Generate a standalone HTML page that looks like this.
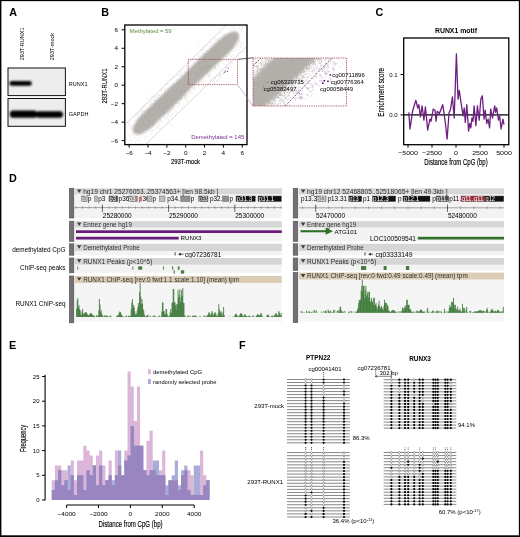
<!DOCTYPE html>
<html><head><meta charset="utf-8"><title>Figure</title><style>html,body{margin:0;padding:0;background:#fff}svg{display:block}</style></head><body>
<svg width="520" height="537" viewBox="0 0 520 537" font-family='"Liberation Sans", Arial, Helvetica, sans-serif'>
<defs><filter id="bl" x="-20%" y="-50%" width="140%" height="200%"><feGaussianBlur stdDeviation="0.85"/></filter>
<filter id="bl2" x="-10%" y="-10%" width="120%" height="120%"><feGaussianBlur stdDeviation="0.9"/></filter>
<clipPath id="cpB"><rect x="125.3" y="25.5" width="121.2" height="118.6"/></clipPath>
<clipPath id="cpI"><rect x="253" y="58" width="93.5" height="48"/></clipPath>
</defs>
<rect x="0.00" y="0.00" width="520.00" height="537.00" fill="#fff"/>
<text x="9.2" y="16.2" font-size="10.8" font-weight="bold">A</text>
<text x="101.3" y="16.4" font-size="10.8" font-weight="bold">B</text>
<text x="375.6" y="16.4" font-size="10.8" font-weight="bold">C</text>
<text x="9.0" y="181.8" font-size="10.8" font-weight="bold">D</text>
<text x="9.0" y="348.9" font-size="10.8" font-weight="bold">E</text>
<text x="239.0" y="348.9" font-size="10.8" font-weight="bold">F</text>
<text transform="translate(24.1 60.2) rotate(-90)" font-size="5.5">293T-RUNX1</text>
<text transform="translate(53.7 60.2) rotate(-90)" font-size="5.5">293T-mock</text>
<rect x="8" y="68" width="57.4" height="27.6" fill="#ededed" stroke="#111" stroke-width="1"/>
<rect x="8" y="98.5" width="57.4" height="27.8" fill="#ededed" stroke="#111" stroke-width="1"/>
<g filter="url(#bl)">
<rect x="9.4" y="81.1" width="22.4" height="4.6" rx="2.3" fill="#000"/>
<rect x="9.8" y="110.4" width="27.4" height="7.4" rx="3.4" fill="#000"/>
<rect x="36" y="111.2" width="27" height="6.5" rx="3" fill="#000"/>
</g>
<text x="68.80" y="85.78" font-size="5.5">RUNX1</text>
<text x="68.80" y="116.18" font-size="5.5">GAPDH</text>
<g clip-path="url(#cpB)">
<line x1="125.20" y1="124.60" x2="226.80" y2="24.60" stroke="#b0b0b0" stroke-width="0.5"/>
<line x1="145.50" y1="144.60" x2="247.00" y2="46.20" stroke="#b0b0b0" stroke-width="0.5"/>
<polygon points="133.8,133.3 137.4,134.4 139.6,134.0 141.5,133.4 143.3,132.6 144.9,131.7 146.5,130.8 148.0,129.8 149.5,128.7 150.9,127.5 152.3,126.4 153.6,125.1 154.9,123.9 156.2,122.6 157.5,121.3 158.8,120.1 160.1,118.8 161.4,117.6 162.7,116.3 164.0,115.1 165.3,113.8 166.6,112.5 168.0,111.3 169.3,110.0 170.6,108.8 171.9,107.5 173.2,106.2 174.5,105.0 175.8,103.7 177.1,102.5 178.4,101.2 179.6,99.9 180.9,98.7 182.2,97.4 183.4,96.0 184.7,94.7 185.9,93.4 187.1,92.0 188.3,90.7 189.6,89.3 190.8,88.1 192.2,86.8 193.5,85.6 194.9,84.5 196.3,83.3 197.7,82.1 199.1,81.0 200.4,79.7 201.8,78.5 203.1,77.3 204.4,76.0 205.7,74.8 207.0,73.5 208.3,72.3 209.6,71.0 210.9,69.8 212.2,68.5 213.5,67.2 214.8,66.0 216.1,64.7 217.4,63.5 218.7,62.2 220.0,61.0 221.3,59.7 222.6,58.4 223.9,57.2 225.2,55.9 226.5,54.7 227.8,53.4 229.2,52.1 230.4,50.9 231.7,49.5 232.8,48.2 234.0,46.7 235.1,45.2 236.1,43.7 237.0,42.0 237.8,40.3 238.5,38.4 239.0,36.2 238.0,32.6 238.0,32.6 234.4,31.5 232.2,31.9 230.3,32.5 228.5,33.3 226.9,34.2 225.3,35.1 223.8,36.1 222.3,37.2 220.9,38.4 219.5,39.5 218.2,40.8 216.9,42.0 215.6,43.3 214.3,44.6 213.0,45.8 211.7,47.1 210.4,48.3 209.1,49.6 207.8,50.8 206.5,52.1 205.2,53.4 203.8,54.6 202.5,55.9 201.2,57.1 199.9,58.4 198.6,59.7 197.3,60.9 196.0,62.2 194.7,63.4 193.4,64.7 192.2,66.0 190.9,67.2 189.6,68.5 188.4,69.9 187.1,71.2 185.9,72.5 184.7,73.9 183.5,75.2 182.2,76.6 181.0,77.8 179.6,79.1 178.3,80.3 176.9,81.4 175.5,82.6 174.1,83.8 172.7,84.9 171.4,86.2 170.0,87.4 168.7,88.6 167.4,89.9 166.1,91.1 164.8,92.4 163.5,93.6 162.2,94.9 160.9,96.1 159.6,97.4 158.3,98.7 157.0,99.9 155.7,101.2 154.4,102.4 153.1,103.7 151.8,104.9 150.5,106.2 149.2,107.5 147.9,108.7 146.6,110.0 145.3,111.2 144.0,112.5 142.6,113.8 141.4,115.0 140.1,116.4 139.0,117.7 137.8,119.2 136.7,120.7 135.7,122.2 134.8,123.9 134.0,125.6 133.3,127.5 132.8,129.7 133.8,133.3" fill="#b5b1ac" filter="url(#bl2)"/>
<path d="M181.3 91.4h.6M179.1 91.3h.6M228.2 45.5h.6M148.2 116.0h.6M162.9 109.1h.6M181.0 93.3h.6M142.2 121.2h.6M178.1 94.0h.6M156.9 105.8h.6M204.3 59.2h.6M218.5 57.1h.6M160.0 98.6h.6M190.1 73.5h.6M185.4 91.1h.6M196.3 59.2h.6M174.4 99.1h.6M151.6 111.0h.6M203.6 54.5h.6M232.6 47.7h.6M196.1 84.0h.6M162.2 108.2h.6M172.5 95.9h.6M215.5 65.0h.6M149.4 104.1h.6M213.9 50.0h.6M174.0 99.0h.6M170.8 105.0h.6M192.3 82.3h.6M155.3 109.8h.6M202.0 68.0h.6M181.6 80.9h.6M204.9 53.6h.6M214.6 60.7h.6M176.7 90.0h.6M146.0 109.2h.6M160.1 112.5h.6M182.8 84.8h.6M213.4 59.8h.6M175.1 102.6h.6M215.6 55.9h.6M181.0 76.8h.6M209.3 57.4h.6M203.0 68.8h.6M192.4 91.7h.6M181.0 87.0h.6M200.7 70.1h.6M216.4 49.7h.6M189.9 80.8h.6M138.7 134.5h.6M217.0 61.2h.6M210.4 57.1h.6M206.2 56.4h.6M181.9 75.5h.6M160.0 107.7h.6M162.3 101.7h.6M149.6 115.8h.6M165.9 100.7h.6M143.9 123.1h.6M207.0 53.2h.6M211.6 49.5h.6M185.0 86.4h.6M208.3 66.6h.6M190.8 76.2h.6M154.9 116.8h.6M145.0 111.4h.6M233.6 48.5h.6M151.8 120.9h.6M236.5 38.1h.6M175.2 91.3h.6M213.3 55.2h.6M170.1 110.5h.6M164.3 114.4h.6M163.8 108.0h.6M179.4 91.6h.6M148.6 113.9h.6M164.5 116.3h.6M154.4 113.2h.6M172.2 109.3h.6M223.3 51.9h.6M166.6 119.2h.6M191.1 71.8h.6M149.0 116.9h.6M188.7 79.2h.6M195.6 84.1h.6M228.7 47.7h.6M163.4 110.3h.6M195.7 87.2h.6M204.6 62.7h.6M206.4 54.1h.6M193.1 70.7h.6M232.6 39.7h.6M213.0 61.3h.6M199.0 70.2h.6M210.4 55.6h.6M207.8 66.8h.6M145.4 112.5h.6M201.6 59.5h.6M191.7 81.1h.6M180.4 81.7h.6M198.2 82.1h.6M166.1 103.9h.6M200.0 70.4h.6M145.0 115.2h.6M157.9 110.7h.6M232.5 45.3h.6M174.3 97.2h.6M196.5 65.7h.6M159.7 100.6h.6M191.5 71.1h.6M193.1 81.3h.6M212.1 55.5h.6M184.6 93.3h.6M212.1 65.6h.6M218.1 52.8h.6M188.1 72.4h.6M215.8 53.0h.6M157.4 105.5h.6M189.8 94.0h.6M152.4 118.9h.6M202.1 53.5h.6M146.4 117.5h.6M172.4 84.7h.6M148.5 128.3h.6M211.0 58.2h.6M167.7 100.6h.6M221.2 50.5h.6M201.1 83.0h.6M148.3 126.1h.6M194.8 58.5h.6M210.1 56.2h.6M212.1 62.7h.6M187.7 82.3h.6M178.9 104.9h.6M224.8 45.2h.6M175.6 101.1h.6M177.6 83.1h.6M155.7 116.7h.6M224.1 52.1h.6M199.4 71.2h.6M217.4 46.8h.6M218.4 54.2h.6M224.7 43.8h.6M147.6 128.0h.6M155.4 113.1h.6M222.6 58.3h.6M174.0 90.7h.6M198.4 69.8h.6M154.2 109.7h.6M218.5 57.3h.6M167.6 100.5h.6M178.5 91.5h.6M141.0 126.4h.6M217.1 50.5h.6M202.0 72.9h.6M182.9 104.2h.6M167.5 101.3h.6M213.2 44.7h.6M179.5 79.3h.6M212.1 58.1h.6M173.0 102.6h.6M196.8 72.1h.6M231.2 41.3h.6M202.9 67.8h.6M215.6 53.2h.6M207.2 56.2h.6M219.2 59.2h.6M224.4 47.2h.6M154.2 119.3h.6M154.7 97.6h.6M166.9 112.8h.6M154.7 103.6h.6M222.4 60.1h.6M223.2 53.7h.6M207.5 67.7h.6M140.3 133.3h.6M150.7 112.9h.6M148.1 119.0h.6M145.2 123.3h.6M174.2 93.8h.6M247.3 22.2h.6M189.1 72.4h.6M209.5 58.2h.6M198.3 62.7h.6M180.4 88.8h.6M165.9 84.4h.6M184.5 71.6h.6M130.3 145.3h.6M140.2 136.4h.6M164.1 93.9h.6M188.0 88.6h.6M220.5 48.4h.6M169.3 104.3h.6M184.7 85.7h.6M213.5 62.1h.6M169.6 94.5h.6M160.2 101.8h.6M160.0 116.6h.6M197.0 66.5h.6M174.5 90.1h.6M210.2 55.3h.6M215.3 63.1h.6M172.6 93.3h.6M209.5 47.1h.6M165.1 104.2h.6M210.0 69.4h.6M207.5 68.0h.6M196.2 65.8h.6M157.2 127.2h.6M172.0 96.6h.6M185.0 80.7h.6M195.7 69.8h.6M195.0 66.8h.6M210.2 51.8h.6M198.5 72.5h.6M218.2 49.6h.6M206.8 52.2h.6M209.0 62.1h.6M187.9 73.7h.6M145.4 129.1h.6M194.7 93.7h.6M176.8 94.4h.6M220.0 45.5h.6M156.7 101.5h.6M213.5 60.7h.6M152.8 115.9h.6M206.8 68.9h.6M235.2 43.1h.6M159.5 108.4h.6M226.0 42.1h.6M205.5 59.8h.6M208.6 54.1h.6M231.3 56.5h.6M168.1 106.1h.6M213.9 53.6h.6M182.4 89.4h.6M153.9 117.0h.6M210.7 60.0h.6M229.0 47.1h.6M214.6 37.7h.6M145.7 129.4h.6M196.6 72.8h.6M241.4 31.0h.6M172.4 99.0h.6M217.4 54.3h.6M160.4 119.2h.6M211.3 65.1h.6M194.2 85.9h.6M204.1 59.2h.6M210.4 69.6h.6M188.5 65.5h.6M180.2 92.9h.6M154.5 116.0h.6M150.1 113.5h.6M146.9 130.3h.6M230.1 45.1h.6M150.1 122.4h.6M197.4 73.6h.6M149.3 119.4h.6M147.6 121.3h.6M171.2 97.9h.6M161.2 104.2h.6M176.7 83.5h.6M166.6 105.0h.6M141.7 129.6h.6M187.7 77.4h.6M208.4 58.0h.6M228.7 53.3h.6M219.3 56.7h.6M190.8 74.9h.6M160.7 104.3h.6M184.4 89.2h.6M211.9 57.9h.6M193.2 63.1h.6M200.2 67.1h.6M217.4 53.0h.6M219.0 53.7h.6M193.6 89.2h.6M228.5 43.1h.6M155.4 101.6h.6M182.1 82.9h.6M154.3 118.7h.6M142.4 127.6h.6M180.9 91.3h.6M202.9 53.0h.6M154.8 103.4h.6M169.9 116.4h.6M167.7 104.4h.6M200.9 70.4h.6M172.6 90.5h.6M135.2 127.2h.6M170.1 104.4h.6M222.9 44.3h.6M195.9 64.1h.6M149.3 109.0h.6M169.9 95.1h.6M166.7 109.1h.6M186.8 80.9h.6M222.6 47.0h.6M219.3 51.6h.6M181.9 97.5h.6M169.0 92.8h.6M140.0 116.8h.6M219.7 60.9h.6M155.4 102.6h.6M207.3 63.0h.6M201.8 65.9h.6M200.0 68.7h.6M165.8 92.8h.6M164.3 100.0h.6M203.4 68.1h.6M149.1 120.0h.6M188.7 72.4h.6M166.8 94.7h.6M177.8 87.1h.6M225.5 38.9h.6M147.2 130.8h.6M146.7 113.7h.6M165.7 105.2h.6M166.8 97.7h.6M180.8 80.7h.6M148.1 109.7h.6M198.6 62.7h.6M216.3 57.2h.6M229.3 39.3h.6M152.0 106.6h.6M185.1 85.2h.6M132.8 130.7h.6M132.4 125.5h.6M203.2 68.1h.6M171.9 102.7h.6M141.3 110.7h.6M164.9 94.9h.6M205.4 59.5h.6M200.2 70.8h.6M186.4 74.3h.6M214.1 48.7h.6M169.2 91.8h.6M194.1 88.5h.6M152.0 129.7h.6M204.0 64.8h.6M166.5 94.3h.6M190.1 72.1h.6M173.2 105.6h.6M141.4 113.5h.6M149.3 128.2h.6M213.2 53.1h.6M145.2 122.4h.6M175.9 85.3h.6M164.0 91.4h.6M202.6 65.9h.6M180.5 82.9h.6M152.2 116.2h.6M164.6 92.2h.6M170.1 97.8h.6M199.1 62.9h.6M136.6 131.9h.6M200.9 68.6h.6M188.0 77.3h.6M200.6 69.6h.6M149.7 112.4h.6M208.4 52.1h.6M220.7 40.8h.6M169.2 89.1h.6M179.2 80.3h.6M160.5 112.7h.6M152.4 116.3h.6M136.3 128.8h.6M236.3 32.5h.6M169.4 101.6h.6M138.3 125.4h.6M149.2 120.5h.6M141.2 118.4h.6M219.3 44.8h.6M166.0 105.3h.6M196.9 77.4h.6M205.2 66.8h.6M162.3 107.4h.6M209.0 65.2h.6M167.4 113.4h.6M179.3 90.8h.6M129.8 124.8h.6M196.4 59.1h.6M179.2 84.3h.6M226.5 38.4h.6M132.6 120.4h.6M214.3 49.8h.6M174.6 95.2h.6M176.9 103.0h.6M195.0 78.0h.6M211.9 59.2h.6M207.5 58.7h.6M155.3 117.5h.6M186.6 95.3h.6M178.8 82.0h.6M183.3 90.2h.6M239.0 27.3h.6M151.1 118.5h.6M217.3 56.6h.6M156.0 113.4h.6M166.1 115.8h.6M223.9 51.3h.6M140.7 117.3h.6M231.0 47.6h.6M242.2 28.4h.6M187.1 85.9h.6M172.0 109.5h.6M167.8 104.7h.6M131.0 140.3h.6M154.9 107.7h.6M166.0 111.2h.6M143.4 115.4h.6M153.5 125.3h.6M188.2 81.4h.6M200.4 80.9h.6M145.2 128.8h.6M180.1 101.1h.6M179.7 82.4h.6M173.0 98.1h.6M209.1 63.2h.6M186.3 68.2h.6M206.0 64.1h.6M172.7 94.7h.6M171.3 90.9h.6M138.1 128.8h.6M191.9 66.0h.6M145.7 120.2h.6M145.0 124.6h.6M157.4 112.6h.6M197.8 77.1h.6M181.6 93.8h.6M176.6 89.1h.6M162.0 99.6h.6M215.4 46.7h.6M210.7 57.0h.6M190.1 83.9h.6M206.2 67.0h.6M169.5 99.9h.6M179.4 96.7h.6M184.6 86.4h.6M185.7 73.7h.6M146.9 119.6h.6M205.5 67.6h.6M149.2 132.1h.6M143.9 115.5h.6M225.7 47.7h.6M159.3 102.8h.6M155.2 108.7h.6M193.7 70.2h.6M174.1 102.8h.6M235.4 50.3h.6M209.9 80.7h.6M142.4 121.9h.6M212.9 51.1h.6M146.7 126.2h.6M212.6 49.3h.6M211.5 68.4h.6M209.5 59.6h.6M178.7 103.6h.6M150.2 115.6h.6M152.3 125.3h.6M208.4 68.1h.6M233.4 37.6h.6M216.7 58.8h.6M195.3 82.4h.6M173.2 104.8h.6M134.2 138.4h.6M198.1 46.0h.6M193.7 70.2h.6M169.8 94.5h.6M187.9 71.2h.6M177.9 83.0h.6M198.6 71.3h.6M171.9 102.1h.6M231.6 35.3h.6M205.3 58.2h.6M148.7 116.7h.6M165.5 102.3h.6M164.1 110.3h.6M157.0 113.7h.6M175.9 86.0h.6M157.5 113.2h.6M204.9 54.6h.6M193.1 79.3h.6M177.0 102.7h.6M183.8 90.0h.6M159.5 99.1h.6M167.5 94.6h.6M241.8 37.1h.6M202.4 62.6h.6M198.7 85.0h.6M216.7 60.6h.6M195.3 66.4h.6M181.5 73.1h.6M223.5 45.5h.6M220.3 51.5h.6M148.9 111.1h.6M199.8 62.6h.6M178.3 99.5h.6M154.4 108.2h.6M205.3 57.8h.6M197.9 67.4h.6M153.8 108.4h.6M158.5 106.7h.6M174.2 89.7h.6M230.5 44.0h.6M139.9 127.9h.6M218.7 55.8h.6M151.4 120.4h.6M206.0 64.9h.6M203.8 59.6h.6M179.3 88.9h.6M158.9 109.2h.6M152.0 110.9h.6M202.4 62.4h.6M198.0 83.3h.6M145.1 121.6h.6M205.2 64.3h.6M156.4 110.8h.6M213.0 52.5h.6M181.0 76.9h.6M159.4 103.9h.6M230.9 39.8h.6M182.5 84.3h.6M172.5 101.7h.6M182.3 95.0h.6M185.7 83.6h.6M228.5 50.2h.6M137.4 126.1h.6M213.7 49.8h.6M158.4 113.3h.6M174.6 97.8h.6M195.8 74.7h.6M124.7 146.1h.6M227.0 42.0h.6M183.7 86.0h.6M146.2 113.3h.6M204.3 62.8h.6M212.9 51.8h.6M185.1 90.6h.6M226.0 56.6h.6M212.4 52.7h.6M233.2 27.4h.6M182.8 85.7h.6M174.5 100.7h.6M169.5 92.1h.6M172.6 83.9h.6M213.8 57.0h.6M207.2 63.2h.6M163.5 104.2h.6M159.4 99.6h.6M175.6 111.1h.6M196.3 69.9h.6M193.3 72.8h.6M162.0 112.4h.6M172.9 107.2h.6M172.8 89.7h.6M204.2 67.5h.6M152.5 111.8h.6M162.9 109.3h.6M229.8 42.0h.6M185.1 90.2h.6M138.7 115.7h.6M173.1 77.1h.6M156.4 119.6h.6M233.5 47.8h.6M167.9 98.4h.6M140.6 111.8h.6M198.2 75.0h.6M136.2 122.7h.6M181.5 89.9h.6M158.2 125.3h.6M226.4 65.2h.6M219.7 60.3h.6M229.5 48.4h.6M187.9 70.3h.6M215.1 52.1h.6M146.4 121.7h.6M144.0 132.5h.6M223.5 57.5h.6M155.5 106.6h.6M178.4 93.4h.6M232.6 32.6h.6M218.1 52.6h.6M173.6 94.2h.6M197.8 65.6h.6M184.7 97.6h.6M189.3 72.8h.6M153.4 126.2h.6M183.7 84.5h.6M188.5 74.7h.6M207.8 71.5h.6M169.6 76.0h.6M198.7 74.7h.6M211.2 55.1h.6M206.7 67.1h.6M203.7 47.0h.6M186.3 79.6h.6M129.9 136.2h.6M220.1 50.0h.6M215.2 61.5h.6M145.8 119.4h.6M215.7 52.4h.6M165.4 113.1h.6M169.1 105.4h.6M184.4 76.2h.6M154.1 114.6h.6M202.7 66.4h.6M141.7 133.7h.6M196.9 81.6h.6M172.4 100.9h.6M189.1 80.4h.6M188.7 77.9h.6M216.4 63.5h.6M161.9 100.0h.6M210.1 53.9h.6M189.1 81.6h.6M234.4 43.9h.6M135.6 143.2h.6M180.6 91.2h.6M198.6 55.1h.6M223.5 48.3h.6M195.4 82.3h.6M203.8 59.4h.6M170.9 106.9h.6M178.2 94.5h.6M218.8 47.3h.6M202.2 68.7h.6M211.2 62.0h.6M233.5 38.9h.6M156.5 120.6h.6M165.6 97.3h.6M179.3 98.6h.6M168.8 96.2h.6M227.5 55.9h.6M163.9 100.3h.6M227.6 52.2h.6M221.9 51.7h.6M212.5 57.0h.6M180.9 89.8h.6M161.2 104.6h.6M178.2 96.2h.6M170.4 106.8h.6M134.1 130.5h.6M179.0 74.2h.6M174.8 94.2h.6M149.8 122.9h.6M148.7 111.5h.6M200.4 72.7h.6M175.2 87.9h.6M172.7 96.3h.6M232.9 51.1h.6M162.4 107.6h.6M203.3 60.1h.6M200.1 59.5h.6M206.8 61.1h.6M218.9 62.7h.6M205.0 70.1h.6M214.7 49.9h.6M188.0 85.8h.6M164.7 98.5h.6M148.4 109.2h.6M219.6 52.9h.6M195.4 84.8h.6M201.4 72.9h.6M203.3 67.1h.6M174.2 91.6h.6M149.8 121.7h.6M202.7 53.8h.6M158.0 107.7h.6M209.1 65.4h.6M204.8 67.8h.6M206.3 73.4h.6M201.4 75.5h.6M156.4 104.3h.6M223.8 50.8h.6M209.5 53.7h.6M188.6 86.4h.6M227.6 38.2h.6M180.2 89.7h.6M164.9 97.5h.6M181.8 75.2h.6M157.3 116.0h.6M146.2 119.0h.6M209.9 65.7h.6M207.0 55.6h.6M167.2 98.1h.6M174.2 102.5h.6M215.1 69.1h.6M200.8 63.0h.6M213.7 51.7h.6M226.2 39.6h.6M226.7 59.0h.6M214.4 55.5h.6M233.1 42.3h.6M166.8 104.5h.6M176.8 82.6h.6M184.0 92.0h.6M170.2 101.5h.6M141.7 114.8h.6M161.1 102.7h.6M158.7 104.5h.6M163.5 101.5h.6M159.0 120.1h.6M183.6 83.8h.6M172.2 94.1h.6M172.8 94.2h.6M162.2 99.6h.6M139.3 118.1h.6M150.0 122.3h.6M157.0 128.0h.6M214.3 68.1h.6M225.2 46.4h.6M191.3 72.6h.6M205.5 51.8h.6M229.3 43.0h.6M159.4 106.6h.6M159.3 114.7h.6M149.3 122.5h.6M142.1 127.5h.6M139.0 118.7h.6M180.4 94.1h.6M153.3 122.7h.6M207.7 67.2h.6M144.9 122.8h.6M158.6 108.5h.6M160.8 105.3h.6M238.8 40.9h.6M164.5 102.8h.6M156.6 106.5h.6M224.2 45.8h.6M182.0 91.5h.6M164.2 101.4h.6M142.6 117.3h.6M199.8 67.0h.6M168.0 100.7h.6M161.2 110.7h.6M171.7 92.2h.6M191.9 85.7h.6M168.8 102.7h.6M176.9 80.4h.6M186.3 66.9h.6M232.2 48.4h.6M229.0 40.9h.6M177.2 83.6h.6M182.5 97.7h.6M173.9 95.1h.6M196.8 82.0h.6M194.2 76.7h.6M207.5 65.4h.6M191.5 69.5h.6M181.0 86.4h.6M147.3 120.3h.6M223.7 53.7h.6M197.9 67.3h.6M196.1 78.1h.6M146.2 132.2h.6M158.1 113.7h.6M207.2 68.3h.6M179.5 74.3h.6M173.4 98.4h.6M180.6 69.4h.6M229.6 49.8h.6M177.3 97.5h.6M231.0 34.3h.6M190.0 93.9h.6M140.1 123.5h.6M145.0 120.9h.6M147.2 137.3h.6M166.7 106.0h.6M194.7 74.3h.6M132.0 144.5h.6M199.1 67.1h.6M192.9 70.0h.6M235.6 38.7h.6M202.6 66.5h.6M206.0 75.8h.6M201.2 61.9h.6M237.2 24.4h.6M221.3 48.2h.6M214.6 47.0h.6M185.8 75.6h.6M179.4 78.7h.6M187.5 80.7h.6M146.6 133.3h.6M210.5 64.6h.6M215.7 44.4h.6M182.3 84.3h.6M217.6 41.6h.6M210.4 53.0h.6M150.4 108.6h.6M201.8 65.8h.6M167.2 99.8h.6M148.0 116.1h.6M180.1 97.3h.6M224.8 38.3h.6M228.5 50.0h.6M196.9 60.3h.6M171.6 93.2h.6M152.8 123.6h.6M143.3 123.8h.6M200.0 49.4h.6M168.7 112.7h.6M220.0 58.7h.6M157.0 107.0h.6M202.0 67.7h.6M162.3 111.3h.6M200.7 59.0h.6M158.4 108.8h.6M238.2 38.7h.6M202.3 60.3h.6M230.7 36.2h.6M171.1 100.1h.6M154.8 114.8h.6M222.1 59.6h.6M180.8 82.3h.6M142.1 132.1h.6M187.7 77.6h.6M208.4 63.3h.6M164.6 96.0h.6M148.6 130.3h.6M209.5 52.2h.6M151.5 115.2h.6M170.9 95.6h.6M157.7 97.8h.6M206.2 64.1h.6M217.1 65.8h.6M168.9 102.0h.6M231.5 48.0h.6M188.5 81.5h.6M204.9 66.9h.6M146.9 124.1h.6M205.6 54.6h.6M210.2 64.6h.6M226.4 53.0h.6M201.9 65.2h.6M165.3 88.5h.6M142.4 116.1h.6M163.3 102.9h.6M162.6 103.3h.6M210.2 63.6h.6M157.3 95.6h.6M151.1 112.3h.6M181.4 76.4h.6M178.4 80.2h.6M161.2 103.9h.6M139.9 122.8h.6M206.6 65.8h.6M184.1 82.4h.6M158.0 108.1h.6M180.0 87.7h.6M221.4 48.8h.6M157.3 102.7h.6M166.0 112.4h.6M212.4 51.5h.6M157.4 107.0h.6M231.4 48.4h.6M169.8 98.4h.6M176.5 94.3h.6M216.8 54.1h.6M181.2 87.9h.6M209.4 65.9h.6M203.8 68.1h.6M142.4 116.4h.6M216.5 54.9h.6M148.6 111.7h.6M154.8 109.0h.6M210.3 57.6h.6M144.3 115.6h.6M148.5 107.9h.6M214.7 54.3h.6M147.9 111.6h.6M156.2 102.8h.6M154.1 103.3h.6M190.4 85.6h.6M196.5 63.4h.6M177.7 96.0h.6M197.6 74.1h.6M218.8 46.6h.6M165.0 100.8h.6M202.0 63.5h.6M150.6 124.1h.6M162.4 111.1h.6M225.8 38.8h.6M221.8 45.2h.6M203.7 69.0h.6M211.8 57.2h.6M201.2 69.3h.6M153.2 100.5h.6M142.6 113.0h.6M201.9 67.7h.6M224.0 51.7h.6M218.6 53.1h.6M178.4 86.6h.6M132.7 128.7h.6M238.4 45.6h.6M182.3 80.2h.6M211.6 65.3h.6M200.2 66.9h.6M165.7 117.7h.6M187.3 72.4h.6M141.1 121.1h.6M210.4 67.3h.6M226.9 37.5h.6M192.3 79.2h.6M212.2 71.2h.6M162.0 112.8h.6M203.8 66.6h.6M191.1 86.1h.6M183.3 81.8h.6M200.5 66.3h.6M199.5 63.9h.6M181.6 88.1h.6M158.5 123.1h.6M218.0 56.1h.6M149.4 120.5h.6M171.2 100.9h.6M147.6 126.6h.6M179.5 75.2h.6M162.0 104.1h.6M166.7 103.8h.6M155.9 104.2h.6M222.6 51.7h.6M148.0 122.3h.6M233.6 25.8h.6M199.5 67.9h.6M136.4 140.3h.6M161.5 105.8h.6M204.2 65.6h.6M157.9 103.8h.6M233.3 38.5h.6M141.6 118.7h.6M204.6 64.2h.6M154.3 123.8h.6M166.4 109.3h.6M199.8 78.4h.6M199.4 64.7h.6M186.2 79.8h.6M163.7 96.9h.6M190.4 76.0h.6M156.1 112.2h.6M217.6 65.0h.6M170.3 103.2h.6M165.0 106.7h.6M229.2 41.5h.6M205.7 70.6h.6M172.0 93.9h.6M156.5 106.0h.6M200.7 68.6h.6M198.4 75.0h.6M185.3 82.5h.6M212.8 51.8h.6M163.5 96.9h.6M177.9 81.0h.6M145.6 125.3h.6M181.1 87.6h.6M151.3 127.8h.6M207.6 50.3h.6M188.8 81.9h.6M209.2 53.4h.6M220.6 51.3h.6M163.1 100.3h.6M209.6 56.9h.6M144.8 117.1h.6M140.2 121.6h.6M221.6 45.6h.6M202.6 64.5h.6M233.6 47.5h.6M144.1 125.5h.6M203.7 66.9h.6M196.1 76.2h.6M158.1 122.0h.6M179.9 99.6h.6M173.0 90.3h.6M174.2 97.4h.6M202.6 69.8h.6M234.0 44.7h.6M181.5 86.2h.6M202.9 61.8h.6M206.6 58.8h.6M169.2 86.1h.6M179.4 79.7h.6M211.1 53.4h.6M201.2 71.8h.6M203.7 53.4h.6M194.7 78.7h.6M136.8 120.9h.6M213.7 66.7h.6M177.1 97.5h.6M173.0 102.1h.6M174.8 102.2h.6M144.1 111.2h.6M163.9 90.8h.6M229.5 33.0h.6M211.3 59.9h.6M175.4 96.9h.6M152.7 122.3h.6M198.4 66.1h.6M206.2 69.3h.6M201.9 66.0h.6M190.4 70.3h.6M177.1 90.5h.6M174.2 89.9h.6M199.0 65.0h.6M146.4 119.5h.6M198.8 80.8h.6M232.8 54.4h.6M134.4 137.1h.6M152.7 103.0h.6M137.7 130.2h.6M183.3 100.0h.6M213.9 56.7h.6M189.8 86.0h.6M194.4 83.2h.6M150.9 108.1h.6M219.1 53.0h.6M230.8 43.1h.6M155.7 107.7h.6M195.9 72.8h.6M157.1 99.3h.6M212.6 56.1h.6M178.5 78.7h.6M189.8 81.7h.6M173.4 94.9h.6M208.0 65.6h.6M155.6 110.3h.6M206.4 53.6h.6M146.5 122.6h.6M188.3 62.6h.6M201.9 77.1h.6M217.9 44.9h.6M136.5 129.8h.6M195.4 67.0h.6M225.1 53.9h.6M143.6 116.1h.6M151.3 131.0h.6M163.1 108.8h.6M221.1 39.2h.6M142.6 119.6h.6M225.6 48.8h.6M222.8 60.2h.6M143.7 125.1h.6M208.9 68.9h.6M165.9 104.6h.6M169.8 106.1h.6M149.9 120.6h.6M159.4 109.2h.6M202.9 71.1h.6M142.8 119.1h.6M214.0 56.4h.6M171.0 100.1h.6M144.5 138.4h.6M194.3 77.6h.6M185.2 96.8h.6M145.3 125.5h.6M136.2 135.4h.6M200.4 68.6h.6M140.6 126.9h.6M167.9 94.7h.6M203.1 58.9h.6M236.0 43.6h.6M202.6 71.8h.6M168.0 111.2h.6M208.6 63.1h.6M203.0 80.0h.6M176.7 75.0h.6M130.8 129.2h.6M187.9 87.5h.6M148.2 114.6h.6M227.3 49.9h.6M217.9 54.4h.6M230.4 41.3h.6M179.3 75.0h.6M185.0 86.1h.6M193.2 70.3h.6M205.2 55.9h.6M185.2 82.1h.6M165.1 105.1h.6M223.6 37.2h.6M187.2 73.3h.6M134.5 120.1h.6M162.2 108.0h.6M151.0 102.1h.6M184.3 86.3h.6M177.7 90.7h.6M179.6 83.7h.6M234.6 41.7h.6M188.5 93.8h.6M178.9 81.8h.6M205.5 54.4h.6M146.2 108.9h.6M239.8 37.8h.6M158.3 106.3h.6M215.5 38.1h.6M142.2 111.3h.6M152.1 109.6h.6M169.6 116.8h.6M171.9 104.8h.6M145.4 116.8h.6M223.4 37.1h.6M168.6 119.2h.6M149.1 117.9h.6M173.0 95.8h.6M160.8 120.6h.6M167.8 110.4h.6M193.2 82.2h.6M144.7 126.2h.6M155.5 99.1h.6M181.0 97.8h.6M204.8 58.2h.6M159.6 110.5h.6M172.4 100.6h.6M217.7 40.5h.6M169.0 100.3h.6M166.4 113.9h.6M193.6 71.4h.6M147.6 122.5h.6M169.2 104.4h.6M196.6 66.5h.6M211.2 62.7h.6M155.0 105.4h.6M186.5 81.7h.6M210.7 60.5h.6M149.1 114.1h.6M214.8 68.1h.6M229.1 47.2h.6M216.3 50.7h.6M212.8 44.9h.6M166.5 80.4h.6M196.8 72.3h.6M213.4 52.0h.6M199.5 76.8h.6M160.7 89.9h.6M146.4 125.9h.6M214.1 49.3h.6M229.4 45.0h.6M225.6 51.3h.6M147.9 112.0h.6M218.9 53.8h.6M154.2 119.0h.6M196.4 75.9h.6M228.6 39.7h.6M161.5 111.1h.6M189.0 79.3h.6M147.6 119.8h.6M210.9 71.0h.6M217.3 69.1h.6M208.0 74.7h.6M205.2 59.4h.6M203.3 67.0h.6M178.1 89.7h.6M202.1 61.9h.6M146.3 125.0h.6M222.4 43.3h.6M184.1 77.8h.6M169.6 109.8h.6M192.6 78.8h.6M214.3 52.3h.6M198.5 76.7h.6M197.3 68.5h.6M212.0 64.9h.6M210.0 64.4h.6M172.7 98.2h.6M183.8 89.4h.6M239.7 37.7h.6M190.7 84.8h.6M168.9 105.4h.6M202.1 81.4h.6M160.4 108.0h.6M227.6 41.1h.6M190.0 91.4h.6M154.2 110.9h.6M236.2 49.6h.6M234.0 30.9h.6M166.7 100.6h.6M153.9 106.0h.6M218.2 56.1h.6M206.7 60.6h.6M222.9 39.8h.6M199.5 73.6h.6M148.0 113.0h.6M233.9 36.7h.6M208.3 57.7h.6M173.4 98.5h.6M153.0 119.6h.6M201.9 70.4h.6M145.2 121.7h.6M180.1 80.6h.6M183.8 84.6h.6M151.1 107.0h.6M154.3 107.8h.6M182.9 76.7h.6M168.1 109.0h.6M172.2 94.7h.6M160.8 121.1h.6M139.7 132.6h.6M179.5 103.9h.6M192.1 88.3h.6M172.1 101.4h.6M170.0 110.4h.6M191.9 76.5h.6M215.2 68.4h.6M177.8 84.1h.6M176.7 97.9h.6M219.1 51.9h.6M173.2 92.8h.6M191.7 70.8h.6M210.4 55.8h.6M186.8 84.6h.6M155.6 114.3h.6M154.4 108.9h.6M192.7 75.8h.6M173.9 89.3h.6M182.7 76.7h.6M154.7 109.4h.6M232.1 28.3h.6M172.7 98.2h.6M214.8 51.9h.6M170.9 102.5h.6M225.8 45.1h.6M164.6 111.5h.6M192.0 70.4h.6M191.6 71.8h.6M223.6 51.8h.6M179.0 91.2h.6M164.0 108.8h.6M161.7 114.0h.6M218.4 54.9h.6M147.9 122.1h.6M234.3 39.0h.6M174.7 88.9h.6M145.5 125.9h.6M191.0 73.5h.6M227.7 35.1h.6M145.4 124.3h.6M177.0 94.9h.6M228.7 51.7h.6M199.4 70.7h.6M191.8 81.4h.6M192.5 67.7h.6M197.9 70.7h.6M163.2 117.3h.6M184.6 92.0h.6M148.8 130.2h.6M208.7 53.2h.6M187.7 75.4h.6M197.7 68.0h.6M210.8 49.4h.6M176.6 88.6h.6M199.7 70.0h.6M198.8 73.9h.6M171.6 95.2h.6M180.9 88.8h.6M187.9 88.8h.6M165.0 96.8h.6M171.1 101.4h.6M157.7 108.6h.6M160.6 98.5h.6M169.1 102.7h.6M187.1 71.6h.6M158.3 111.8h.6M210.7 56.4h.6M195.3 68.6h.6M160.2 115.0h.6M214.4 46.8h.6M211.6 65.5h.6M162.5 122.8h.6M161.3 105.7h.6M165.5 94.0h.6M145.5 124.5h.6M221.4 53.5h.6M170.8 106.9h.6M218.7 52.5h.6M221.2 59.0h.6M190.8 75.8h.6M238.7 49.7h.6M210.5 53.4h.6M182.8 86.6h.6M213.2 68.5h.6M218.2 50.3h.6M242.1 43.8h.6M160.8 109.2h.6M219.3 56.5h.6M198.3 76.8h.6M163.1 109.8h.6M206.0 64.3h.6M158.2 113.0h.6M164.0 104.2h.6M176.4 94.9h.6M197.6 59.0h.6M199.4 67.5h.6M147.0 124.1h.6M177.2 81.9h.6M226.7 46.1h.6M191.6 61.3h.6M207.8 54.1h.6M225.9 39.0h.6M167.9 105.2h.6M224.7 45.3h.6M163.8 102.0h.6M180.1 89.5h.6M171.2 85.1h.6M175.0 88.0h.6M178.3 85.9h.6M227.7 44.3h.6M219.8 50.1h.6M234.7 32.9h.6M181.6 84.5h.6M172.5 87.1h.6M159.1 101.1h.6M216.4 68.2h.6M176.1 89.4h.6M225.0 40.1h.6M202.0 71.5h.6M207.6 67.0h.6M138.6 135.0h.6M148.1 113.7h.6M211.0 58.3h.6M174.0 106.3h.6M218.6 51.9h.6M221.7 45.4h.6M214.9 52.3h.6M216.3 52.3h.6M183.7 90.9h.6M207.7 65.3h.6M164.7 102.1h.6M175.2 95.7h.6M169.6 92.3h.6M178.5 106.8h.6M196.2 78.3h.6M163.5 107.8h.6M191.6 84.5h.6M235.0 38.7h.6M172.5 101.3h.6M152.2 124.9h.6M184.0 83.1h.6M199.6 64.5h.6M183.1 82.7h.6M170.6 108.5h.6M176.7 97.5h.6M144.4 128.7h.6M205.2 68.8h.6M185.4 81.2h.6M199.7 72.6h.6M210.0 73.8h.6M203.2 64.1h.6M214.1 51.5h.6M153.3 114.2h.6M141.7 135.2h.6M135.1 141.4h.6M195.8 67.3h.6M170.9 109.6h.6M170.6 102.6h.6M164.6 112.4h.6M188.3 86.0h.6M135.6 126.1h.6M202.7 77.4h.6M197.7 79.2h.6M205.5 66.6h.6M202.6 49.9h.6M169.3 109.1h.6M184.9 80.5h.6M180.3 97.6h.6M163.3 110.4h.6M213.9 57.4h.6M147.1 119.9h.6M159.8 119.9h.6M194.1 72.1h.6M156.7 115.9h.6M151.1 115.7h.6M225.4 45.0h.6M205.3 60.4h.6M229.6 38.9h.6M148.1 117.0h.6M137.6 134.6h.6M189.7 79.3h.6M191.8 74.2h.6M238.0 39.9h.6M190.6 70.8h.6M159.0 109.1h.6M207.3 51.3h.6M149.6 112.1h.6M163.3 113.0h.6M158.2 117.0h.6M159.9 104.2h.6M161.7 112.3h.6M208.7 66.3h.6M204.0 64.9h.6M245.5 26.9h.6M241.0 43.3h.6M215.3 59.1h.6M172.2 93.4h.6M205.5 51.7h.6M200.9 60.8h.6M201.3 65.6h.6M227.1 41.1h.6M182.1 94.7h.6M184.5 82.6h.6M214.6 59.5h.6M180.0 80.0h.6M224.8 46.2h.6M166.4 98.9h.6M225.6 48.6h.6M226.3 44.9h.6M153.1 107.2h.6M160.4 111.1h.6M206.1 65.6h.6M220.6 46.5h.6M207.3 70.9h.6M170.0 104.7h.6M168.4 99.0h.6M196.9 73.9h.6M209.2 62.2h.6M164.8 111.3h.6M156.9 111.0h.6M214.9 60.0h.6M218.6 48.6h.6M144.8 119.4h.6M213.9 57.1h.6M203.0 69.5h.6M170.0 105.0h.6M184.4 78.9h.6M212.7 62.3h.6M175.8 88.7h.6M160.6 101.3h.6M208.1 57.2h.6M173.8 101.4h.6M129.2 146.6h.6M183.9 94.0h.6M195.4 67.1h.6M204.1 70.3h.6M164.3 97.6h.6M168.4 98.2h.6M167.6 97.0h.6M139.8 131.4h.6M186.9 67.9h.6M139.1 132.5h.6M221.4 45.3h.6M155.4 113.6h.6M167.6 89.0h.6M177.3 89.7h.6M196.9 65.2h.6M223.5 44.2h.6M152.7 103.5h.6M205.8 58.6h.6M178.4 89.0h.6M143.1 119.7h.6M178.5 85.8h.6M154.2 116.6h.6M200.4 74.4h.6M188.4 84.3h.6M169.2 96.7h.6M159.3 104.2h.6M217.1 52.3h.6M230.7 54.1h.6M210.7 55.6h.6M228.7 45.2h.6M199.0 82.6h.6M210.0 66.8h.6M240.4 24.2h.6M206.1 66.0h.6M140.8 125.2h.6M192.1 76.2h.6M218.8 59.0h.6M183.6 71.7h.6M168.6 103.7h.6M208.1 52.5h.6M209.3 66.0h.6M149.7 127.5h.6M212.8 53.9h.6M200.7 73.4h.6M228.3 55.3h.6M154.3 119.9h.6M145.6 113.5h.6M175.5 99.3h.6M166.5 105.8h.6M169.7 94.4h.6M207.7 60.3h.6M169.5 97.6h.6M216.8 54.0h.6M167.6 97.7h.6M222.4 48.5h.6M140.3 118.0h.6M202.2 70.5h.6M154.4 113.8h.6M178.0 90.4h.6M165.6 98.0h.6M154.0 118.6h.6M180.3 85.0h.6M170.5 91.1h.6M180.8 96.8h.6M201.9 68.8h.6M139.5 120.1h.6M148.3 122.6h.6M195.9 80.9h.6M157.2 118.1h.6M197.0 70.0h.6M173.9 94.9h.6M176.6 99.3h.6M233.8 34.1h.6M137.1 130.8h.6M170.8 87.8h.6M232.2 39.1h.6M204.1 56.7h.6M194.8 58.2h.6M195.2 71.0h.6M207.7 57.2h.6M186.6 76.0h.6M181.0 88.9h.6M216.4 55.2h.6M225.3 39.7h.6M164.3 105.4h.6M207.1 72.7h.6M205.4 54.7h.6M197.8 72.8h.6M226.8 56.6h.6M225.2 48.4h.6M145.1 117.8h.6M187.1 95.9h.6M202.7 74.8h.6M143.6 133.8h.6M242.3 26.7h.6M170.9 93.5h.6M197.0 62.5h.6M215.0 50.9h.6M221.5 49.5h.6M170.5 109.1h.6M231.7 43.5h.6M155.4 99.8h.6M194.3 71.7h.6M231.8 37.3h.6M198.8 62.7h.6M166.3 88.2h.6M199.1 66.0h.6M177.1 94.7h.6M204.4 56.0h.6M170.7 99.3h.6M160.2 102.9h.6M195.7 75.7h.6M172.7 98.9h.6M178.5 87.3h.6M218.2 47.6h.6M163.8 102.9h.6M156.8 110.8h.6M183.0 77.7h.6M203.4 49.4h.6M162.6 103.1h.6M165.9 89.8h.6M213.1 47.0h.6M218.8 54.5h.6M151.4 115.9h.6M138.3 121.1h.6M176.1 96.6h.6M184.1 98.3h.6M225.7 59.4h.6M229.4 40.4h.6M129.5 127.3h.6M198.7 84.2h.6M163.5 114.8h.6M154.9 120.4h.6M232.9 39.0h.6M185.8 95.4h.6M158.8 95.1h.6M159.0 109.9h.6M153.7 110.0h.6M211.9 51.3h.6M132.2 145.3h.6M215.4 43.4h.6M228.2 44.0h.6M221.8 50.4h.6M181.8 93.7h.6M190.7 81.2h.6M167.0 103.2h.6M157.0 108.5h.6M179.6 84.6h.6M152.8 118.4h.6M200.3 71.7h.6M219.5 51.5h.6M168.8 104.6h.6M190.0 69.5h.6M172.6 99.2h.6M169.4 102.5h.6M136.8 131.7h.6M206.2 67.1h.6M217.1 52.1h.6M189.4 74.8h.6M218.3 53.0h.6M172.4 96.2h.6M186.7 80.1h.6M234.0 42.1h.6M123.5 135.8h.6M228.4 41.0h.6M218.8 51.9h.6M181.0 95.2h.6M181.0 73.7h.6M159.1 110.1h.6M217.0 51.1h.6M159.3 111.8h.6M166.8 106.9h.6M213.4 48.2h.6M180.4 89.4h.6M150.8 128.9h.6M207.5 68.5h.6M150.7 109.4h.6M210.8 60.7h.6M148.8 112.4h.6M212.1 55.1h.6M147.8 127.8h.6M177.0 85.8h.6M215.1 64.0h.6M211.6 59.3h.6M155.8 123.2h.6M232.6 23.7h.6M185.1 77.7h.6M147.2 119.6h.6M197.2 64.8h.6M168.1 107.5h.6M167.8 106.1h.6M186.5 86.1h.6M210.0 48.6h.6M158.0 101.6h.6M188.3 91.0h.6M168.5 97.8h.6M133.5 127.1h.6M223.8 46.6h.6M142.6 124.3h.6M220.7 47.4h.6M157.2 104.5h.6M223.1 39.2h.6M154.9 104.1h.6M174.5 109.1h.6M196.4 72.7h.6M215.7 58.3h.6M172.7 90.6h.6M208.7 56.4h.6M169.0 109.2h.6M212.5 61.5h.6M164.2 106.9h.6M215.3 63.7h.6M170.1 86.4h.6M212.2 56.2h.6M198.1 63.5h.6M202.9 75.6h.6M179.8 85.9h.6M153.6 104.0h.6M142.3 124.6h.6M224.0 53.5h.6M146.9 111.3h.6M146.9 121.6h.6M209.8 53.3h.6M162.6 112.7h.6M206.3 44.4h.6M188.1 79.8h.6M151.0 116.1h.6M212.3 50.1h.6M211.9 59.1h.6M212.9 63.3h.6M210.3 62.1h.6M203.9 72.2h.6M211.2 61.6h.6M168.0 105.7h.6M223.3 42.6h.6M209.6 68.0h.6M155.0 129.4h.6M204.0 69.7h.6M198.2 61.8h.6M152.7 120.9h.6M237.0 44.7h.6M167.7 118.8h.6M174.0 86.0h.6M212.6 54.8h.6M231.8 30.6h.6M208.3 64.3h.6M204.4 72.8h.6M157.9 113.2h.6M181.7 86.8h.6M219.6 47.2h.6M225.2 43.5h.6M162.1 103.7h.6M215.0 56.8h.6M145.1 110.4h.6M211.6 53.6h.6M207.1 61.5h.6M219.1 54.3h.6M153.3 108.1h.6M156.3 108.1h.6M147.3 112.2h.6M166.2 109.4h.6M190.7 78.9h.6M217.2 54.5h.6M163.4 102.2h.6M210.2 68.0h.6M155.2 111.7h.6M221.1 37.4h.6M199.4 77.3h.6M206.8 69.2h.6M221.2 61.2h.6M153.6 114.4h.6M174.8 103.3h.6M188.3 91.2h.6M175.2 97.7h.6M174.2 96.1h.6M155.9 106.1h.6M253.6 16.3h.6M149.0 109.2h.6M149.3 112.6h.6M181.2 86.0h.6M179.1 86.5h.6M209.5 63.7h.6M162.4 110.9h.6M192.1 70.9h.6M184.5 80.7h.6M189.6 89.9h.6M173.8 97.3h.6M201.2 67.3h.6M208.5 68.8h.6M199.4 72.7h.6M177.6 83.1h.6M161.6 110.6h.6M183.6 87.6h.6M185.9 84.3h.6M169.3 92.3h.6M187.8 87.7h.6M253.3 16.8h.6M145.3 136.0h.6M227.4 55.9h.6M202.8 73.7h.6M189.7 69.9h.6M201.5 74.4h.6M196.3 75.7h.6M212.3 61.4h.6M162.8 99.0h.6M174.7 92.6h.6M203.3 60.6h.6M171.4 103.7h.6M149.2 125.8h.6M160.8 96.7h.6M216.9 63.1h.6M174.5 102.5h.6M174.6 93.3h.6M161.9 113.2h.6M225.1 53.1h.6M206.0 66.7h.6M213.7 58.3h.6M183.3 81.3h.6M171.0 91.6h.6M175.1 92.3h.6M240.3 46.2h.6M166.9 95.4h.6M182.5 84.2h.6M178.6 91.1h.6M169.8 111.2h.6M225.0 45.5h.6M155.8 104.2h.6M159.6 109.8h.6M192.2 74.8h.6M165.6 97.3h.6M222.6 50.0h.6M215.3 42.9h.6M223.6 47.9h.6M225.8 45.0h.6M201.1 73.0h.6M161.8 109.0h.6M207.4 65.0h.6M175.0 95.3h.6M158.1 112.4h.6M187.2 74.3h.6M158.5 111.0h.6M250.8 24.9h.6M161.2 101.1h.6M232.0 43.6h.6M187.0 82.7h.6M163.8 100.7h.6M181.0 97.9h.6M206.0 71.4h.6M125.3 142.3h.6M175.0 87.7h.6M229.7 48.8h.6M160.4 98.2h.6M187.9 80.6h.6M173.2 85.3h.6M184.3 95.3h.6M147.0 121.7h.6M166.6 111.2h.6M144.1 125.5h.6M212.3 69.5h.6M143.3 106.5h.6M236.2 40.3h.6M176.6 80.4h.6M143.4 124.2h.6M230.0 29.8h.6M193.8 66.4h.6M164.1 110.4h.6M144.0 123.0h.6M179.9 88.0h.6M163.3 112.6h.6M214.5 51.3h.6M178.8 72.1h.6M174.5 94.1h.6M146.8 120.7h.6M249.7 29.2h.6M130.8 126.5h.6M199.2 72.7h.6M198.0 79.3h.6M219.3 53.5h.6M204.0 65.6h.6M186.0 75.6h.6M214.6 81.6h.6M232.8 37.8h.6M202.6 63.2h.6M196.5 76.3h.6M198.7 69.4h.6M203.3 64.4h.6M215.2 53.5h.6M176.1 95.7h.6M171.1 95.4h.6M225.1 51.3h.6M156.8 99.9h.6M138.1 112.7h.6M157.7 103.3h.6M153.7 115.3h.6M139.6 125.0h.6M158.3 109.7h.6M158.4 109.5h.6M142.3 108.4h.6M208.3 75.8h.6M146.3 116.7h.6M220.7 62.1h.6M171.6 105.1h.6M234.2 26.1h.6M162.3 95.1h.6M209.0 65.5h.6M158.1 102.9h.6M208.5 66.6h.6M181.4 89.4h.6M147.6 113.9h.6M206.2 55.9h.6M218.3 57.9h.6M224.8 39.9h.6M213.9 62.1h.6M156.3 96.7h.6M239.6 46.1h.6M192.2 84.0h.6M161.7 101.1h.6M215.8 57.0h.6M146.0 126.1h.6M209.5 65.4h.6M169.0 102.7h.6M179.3 99.7h.6M223.9 46.2h.6M154.9 105.0h.6M181.9 93.3h.6M230.8 44.4h.6M229.2 51.1h.6M215.8 56.8h.6M176.4 89.5h.6M217.6 51.3h.6M238.7 34.6h.6M216.0 62.5h.6M162.3 98.8h.6M148.9 110.6h.6M143.1 111.7h.6M181.1 89.1h.6M154.7 111.9h.6M237.3 39.5h.6M176.0 92.5h.6M202.9 65.9h.6M175.9 86.9h.6M181.6 84.9h.6M156.0 116.1h.6M214.8 45.6h.6M178.8 102.4h.6M160.4 118.7h.6M170.3 98.7h.6M139.8 122.0h.6M182.5 90.8h.6M225.7 50.3h.6M170.5 95.2h.6M193.0 82.9h.6M164.5 96.7h.6M213.6 61.3h.6M166.0 107.4h.6M189.5 73.4h.6M155.9 127.5h.6M226.5 40.6h.6M212.9 43.4h.6M218.5 52.1h.6M202.6 70.8h.6M231.3 49.6h.6M201.6 64.0h.6M196.6 63.1h.6M197.8 82.7h.6M207.4 62.2h.6M138.7 138.9h.6M208.0 59.1h.6M176.0 101.0h.6M200.9 62.4h.6M182.4 82.7h.6M168.1 115.1h.6M203.5 58.6h.6M172.0 95.9h.6M176.3 79.7h.6M204.8 71.4h.6M209.0 59.0h.6M193.2 62.0h.6M162.3 104.2h.6M200.9 65.8h.6M154.7 100.5h.6M188.2 84.7h.6M206.1 58.2h.6M205.5 72.7h.6M227.5 49.3h.6M201.8 69.8h.6M170.6 99.9h.6M208.2 62.0h.6M208.8 66.9h.6M182.1 85.7h.6M159.3 118.6h.6M228.0 48.5h.6M137.0 114.2h.6M204.6 69.7h.6M136.6 115.6h.6M211.3 61.3h.6M170.2 98.3h.6M186.8 73.9h.6M203.7 60.7h.6M207.4 73.0h.6M207.8 55.4h.6M190.3 69.4h.6M153.3 116.7h.6M232.4 45.3h.6M198.0 83.9h.6M179.9 88.8h.6M156.0 117.6h.6M236.8 30.2h.6M179.9 85.5h.6M196.6 66.0h.6M140.6 112.1h.6M170.4 102.7h.6M126.2 141.1h.6M198.8 60.3h.6M149.9 111.7h.6M187.5 87.8h.6M193.8 69.8h.6M157.4 103.1h.6M162.8 110.0h.6M166.5 108.2h.6M236.5 46.3h.6M157.9 99.9h.6M195.8 71.9h.6M170.8 107.9h.6M133.1 126.4h.6M165.9 97.4h.6M213.9 61.3h.6M202.1 63.7h.6M206.1 67.1h.6M176.6 91.3h.6M157.2 104.4h.6M209.9 62.6h.6M155.0 113.5h.6M203.5 86.8h.6M140.3 126.7h.6M195.4 71.4h.6M217.9 47.8h.6M219.2 55.6h.6M192.8 71.9h.6M211.6 61.3h.6M203.9 54.2h.6M222.6 56.0h.6M203.6 65.8h.6M212.6 64.0h.6M208.6 57.8h.6M209.4 60.4h.6M196.9 65.8h.6M131.0 128.3h.6M177.6 98.6h.6M234.4 31.8h.6M213.1 55.5h.6M199.2 58.7h.6M173.5 103.5h.6M148.6 112.7h.6M194.9 66.7h.6M170.4 98.1h.6M211.4 54.9h.6M224.7 35.2h.6M199.9 76.4h.6M197.7 66.2h.6M194.3 82.3h.6M208.8 76.7h.6M166.8 104.1h.6M215.5 52.9h.6M218.0 54.8h.6M184.0 83.6h.6M189.3 83.3h.6M227.9 46.8h.6M155.1 103.7h.6M212.2 76.5h.6M168.9 107.1h.6M203.1 79.0h.6M161.1 104.8h.6M216.3 47.7h.6M186.2 75.4h.6M177.0 89.6h.6M176.5 89.3h.6M176.9 95.6h.6M222.3 49.2h.6M228.5 40.5h.6M242.1 27.7h.6M210.8 50.7h.6M203.0 68.8h.6M205.6 64.5h.6M214.1 52.3h.6M197.1 68.0h.6M234.3 32.4h.6M198.9 58.9h.6M183.2 83.5h.6M175.5 102.5h.6M168.2 84.8h.6M171.9 113.9h.6M159.4 105.2h.6M228.1 44.2h.6M194.5 72.7h.6M178.8 100.6h.6M139.2 132.2h.6M206.2 63.2h.6M180.7 88.6h.6M166.8 90.3h.6M161.8 120.7h.6M183.9 96.4h.6M225.3 43.7h.6M163.6 104.8h.6M219.9 49.4h.6M238.6 38.5h.6M179.0 98.3h.6M208.8 71.5h.6M181.5 78.7h.6M156.6 115.0h.6M170.4 96.3h.6M153.7 106.9h.6M207.2 58.3h.6M152.3 111.0h.6M163.8 117.7h.6M170.8 81.4h.6M149.7 116.5h.6M142.3 126.2h.6M167.7 97.7h.6M230.0 56.2h.6M215.6 59.3h.6M150.9 109.0h.6M193.9 87.6h.6M189.1 81.9h.6M199.7 61.1h.6M202.5 51.1h.6M148.8 120.4h.6M207.4 62.8h.6M176.3 93.2h.6M195.6 72.1h.6M155.0 101.4h.6M203.4 62.0h.6M220.7 38.0h.6M173.6 93.8h.6M207.7 71.2h.6M172.4 94.9h.6M163.0 98.0h.6M191.6 74.0h.6M182.1 83.6h.6M191.0 87.2h.6M242.1 27.5h.6M197.2 76.8h.6M175.7 87.7h.6M214.8 51.4h.6M229.8 49.9h.6M213.9 66.4h.6M228.0 34.6h.6M222.6 54.3h.6M171.4 100.3h.6M231.6 54.7h.6M208.7 72.7h.6M239.6 42.4h.6M202.6 68.9h.6M153.2 96.9h.6M200.4 56.6h.6M208.2 71.5h.6M216.6 44.0h.6M168.9 101.2h.6M232.8 50.7h.6M156.7 94.2h.6M217.8 58.5h.6M187.0 100.2h.6M173.8 90.5h.6M225.7 42.6h.6M148.4 115.1h.6M189.1 83.9h.6M159.1 114.1h.6M163.9 105.4h.6M178.0 98.2h.6M158.2 111.0h.6M145.9 120.1h.6M221.8 47.3h.6M186.3 83.4h.6M176.8 90.6h.6M150.5 108.6h.6M173.5 93.8h.6M211.7 53.1h.6M218.9 54.6h.6M207.7 67.5h.6M168.7 89.1h.6M216.0 59.2h.6M204.9 66.0h.6M193.2 76.4h.6M181.3 91.1h.6M160.7 116.0h.6M178.2 98.1h.6M214.7 48.7h.6M180.1 88.6h.6M177.7 89.7h.6M217.9 48.2h.6M203.2 65.5h.6M157.6 110.6h.6M168.5 93.2h.6M168.1 98.7h.6M176.1 89.2h.6M198.9 63.7h.6M204.0 72.5h.6M168.9 92.0h.6M231.5 51.3h.6M205.4 59.1h.6M174.0 85.3h.6M148.2 115.3h.6M200.1 71.3h.6M170.4 88.5h.6M178.9 98.6h.6M149.1 115.2h.6M216.4 53.9h.6M204.4 61.9h.6M190.9 91.8h.6M170.4 108.3h.6M196.8 68.8h.6M217.1 39.4h.6M127.9 134.1h.6M212.1 55.7h.6M186.3 81.3h.6M181.3 85.4h.6M148.9 117.3h.6M167.2 99.3h.6M145.7 128.7h.6M208.1 62.7h.6M138.8 126.7h.6M147.3 120.0h.6M179.8 90.4h.6M160.4 110.4h.6M159.1 104.8h.6M169.0 102.2h.6M230.0 47.6h.6M166.8 103.1h.6M173.8 89.7h.6M162.9 107.7h.6M133.6 138.0h.6M224.2 45.3h.6M210.4 42.7h.6M170.6 105.0h.6M194.9 74.0h.6M215.6 52.3h.6M155.7 107.0h.6M199.0 73.7h.6M219.1 33.0h.6M217.1 54.6h.6M188.4 78.2h.6M176.3 88.3h.6M197.5 70.4h.6M142.4 121.8h.6M219.4 42.4h.6M156.3 103.4h.6M208.4 75.2h.6M201.2 64.8h.6M170.6 97.6h.6M137.9 114.5h.6M178.6 88.3h.6M141.0 126.0h.6M188.8 85.5h.6M164.4 103.5h.6M194.6 64.4h.6M180.2 94.5h.6M185.1 96.1h.6M198.0 86.0h.6M149.9 113.1h.6M151.1 104.2h.6M176.3 92.0h.6M198.6 72.8h.6M195.0 69.4h.6M201.0 68.8h.6M223.1 45.3h.6M141.4 133.8h.6M220.3 54.2h.6M203.5 66.2h.6M170.4 106.0h.6M159.4 118.2h.6M229.1 44.7h.6M148.6 116.3h.6M202.0 69.1h.6M170.6 111.7h.6M180.8 82.8h.6M206.3 67.0h.6M227.4 34.8h.6M225.0 56.1h.6M168.4 105.3h.6M216.8 47.7h.6M205.3 61.4h.6M215.1 66.4h.6M195.9 68.7h.6M158.4 108.9h.6M155.3 104.2h.6M185.3 75.7h.6M152.1 124.3h.6M201.4 69.9h.6M142.4 115.4h.6M207.4 63.2h.6M147.2 120.1h.6M154.9 111.3h.6M171.7 91.7h.6M177.3 81.5h.6M193.0 68.4h.6M209.7 75.5h.6M135.6 137.2h.6M150.1 113.8h.6M175.2 97.6h.6M148.8 112.6h.6M135.5 116.3h.6M138.5 131.8h.6M194.3 89.3h.6M179.0 89.1h.6M205.0 69.4h.6M214.3 70.9h.6M205.1 72.5h.6M219.7 48.9h.6M200.7 63.3h.6M160.8 110.1h.6M199.4 56.3h.6M231.6 48.5h.6M184.4 72.9h.6M137.9 119.4h.6M219.3 63.8h.6M227.6 40.4h.6M207.6 58.9h.6M176.0 92.1h.6M161.9 101.2h.6M243.6 21.5h.6M200.7 57.8h.6M204.6 69.1h.6M159.9 113.2h.6M189.8 77.7h.6M230.7 46.0h.6M178.6 91.9h.6M208.8 62.3h.6M177.7 82.6h.6M152.7 123.1h.6M224.4 48.1h.6M175.1 92.3h.6M141.9 123.7h.6M167.0 116.3h.6M179.9 98.7h.6M163.0 106.6h.6M198.0 73.9h.6M141.5 120.3h.6M175.5 93.0h.6M187.2 85.4h.6M193.7 79.4h.6M163.2 113.4h.6M177.9 94.8h.6M161.9 97.7h.6M197.2 69.9h.6M191.8 73.9h.6M168.2 87.8h.6M177.5 84.2h.6M223.0 52.2h.6M200.2 68.9h.6M193.9 77.1h.6M211.3 65.9h.6M190.9 73.2h.6M199.4 69.7h.6M186.3 84.2h.6M223.5 62.2h.6M187.3 92.9h.6M175.1 84.2h.6M209.7 64.1h.6M172.6 98.4h.6M240.4 43.7h.6M204.1 56.7h.6M172.5 96.2h.6M148.7 117.3h.6M176.8 103.2h.6M153.3 116.2h.6M149.4 110.9h.6M204.1 57.4h.6M201.6 68.8h.6M208.8 53.2h.6M205.9 65.6h.6M167.0 111.1h.6M135.9 127.1h.6M211.2 46.8h.6M175.6 93.9h.6M178.7 70.1h.6M183.8 95.7h.6M163.7 115.6h.6M157.2 116.2h.6M202.7 68.0h.6M205.5 59.5h.6M197.7 61.9h.6M235.5 37.7h.6M165.8 92.5h.6M183.8 79.5h.6M146.4 119.8h.6M212.5 51.8h.6M220.5 53.2h.6M154.7 111.0h.6M203.4 65.9h.6M161.4 91.0h.6M222.5 53.5h.6M197.3 63.2h.6M175.1 90.1h.6M164.9 112.7h.6M189.9 84.2h.6M172.1 107.7h.6M200.0 73.3h.6M164.1 113.2h.6M240.5 29.2h.6M161.4 109.3h.6M206.3 60.9h.6M141.1 118.4h.6M162.6 107.9h.6M166.4 97.3h.6M215.5 47.6h.6M180.2 97.0h.6M157.7 109.1h.6M165.3 113.3h.6M161.7 89.0h.6M202.3 82.6h.6M198.6 63.6h.6M217.9 58.2h.6M209.0 58.0h.6M227.7 41.7h.6M206.5 64.4h.6M167.6 103.2h.6M216.8 49.8h.6M202.7 74.5h.6M139.6 134.1h.6M161.4 106.5h.6M177.1 75.3h.6M177.9 89.5h.6M173.8 87.5h.6M158.3 103.4h.6M165.5 107.2h.6M224.8 48.1h.6M154.1 124.8h.6M180.0 93.2h.6M170.2 102.8h.6M180.9 93.4h.6M141.6 117.7h.6M223.4 49.4h.6M195.2 64.6h.6M207.8 59.4h.6M173.3 108.1h.6M144.2 124.3h.6M151.6 114.9h.6M197.8 68.8h.6M146.8 125.2h.6M154.0 107.4h.6M173.8 97.8h.6M184.7 85.1h.6M158.8 101.0h.6M148.0 109.2h.6M184.7 81.1h.6M159.3 128.4h.6M162.5 114.3h.6M229.4 34.8h.6M203.9 53.5h.6M193.2 80.3h.6M152.8 126.6h.6M177.3 100.3h.6M220.6 59.9h.6M214.3 67.6h.6M217.0 58.0h.6M155.7 114.0h.6M197.2 73.3h.6M180.1 92.9h.6M146.6 115.8h.6M143.3 121.5h.6M180.4 94.9h.6M177.0 84.9h.6M188.9 84.9h.6M201.6 69.9h.6M212.1 58.6h.6M225.3 34.6h.6M211.3 61.9h.6M217.9 52.2h.6M209.1 61.4h.6M145.0 136.7h.6M209.0 66.3h.6M157.3 100.3h.6M247.6 28.1h.6M217.3 56.1h.6M212.1 54.8h.6M233.8 48.1h.6M181.7 91.7h.6M186.1 89.7h.6M225.7 43.1h.6M143.8 122.9h.6M194.8 65.9h.6M170.7 98.5h.6M161.3 116.8h.6M222.2 43.4h.6M136.5 131.1h.6M194.9 72.5h.6M220.2 52.0h.6M221.9 49.0h.6M163.1 112.6h.6M223.2 35.1h.6M205.9 73.9h.6M196.1 72.5h.6M164.4 113.2h.6M174.1 98.1h.6M205.9 61.2h.6M239.1 40.3h.6M184.1 84.5h.6M228.6 60.0h.6M186.7 81.6h.6M226.4 45.5h.6M159.9 106.7h.6M151.2 134.3h.6M150.8 121.4h.6M155.0 110.8h.6M171.2 103.6h.6M156.7 119.9h.6M208.1 51.8h.6M144.5 118.5h.6M132.5 135.4h.6M224.5 42.7h.6M152.1 117.5h.6M185.4 85.7h.6M165.5 96.4h.6M138.7 124.1h.6M230.5 47.5h.6M166.5 101.2h.6M165.9 104.7h.6M143.7 123.9h.6M167.1 101.8h.6M153.2 106.1h.6M173.8 94.3h.6M211.3 66.8h.6M157.6 106.0h.6M221.2 50.5h.6M190.5 77.7h.6M171.4 92.7h.6M152.9 103.9h.6M193.0 78.6h.6M155.4 105.9h.6M211.7 61.6h.6M190.8 74.1h.6M161.7 111.6h.6M241.5 41.9h.6M154.5 110.4h.6M187.1 83.9h.6M148.0 128.1h.6M239.1 42.7h.6M136.5 128.0h.6M138.6 130.5h.6M216.8 50.2h.6M210.2 65.9h.6M204.0 60.4h.6M234.5 28.7h.6M143.9 115.3h.6M205.3 80.8h.6M140.5 141.1h.6M180.1 95.5h.6M228.8 53.5h.6M172.9 105.7h.6M213.0 64.5h.6M197.8 80.2h.6M151.2 97.5h.6M217.8 39.0h.6M172.0 100.6h.6M214.4 39.2h.6M180.2 91.2h.6M205.8 63.7h.6M209.5 67.9h.6M154.8 110.4h.6M138.0 130.1h.6M204.1 66.4h.6M143.4 122.3h.6M149.4 125.4h.6M138.1 139.8h.6M160.0 114.9h.6M192.3 66.2h.6M154.5 100.4h.6M152.3 107.1h.6M230.3 30.2h.6M158.7 106.4h.6M166.5 107.3h.6M159.4 116.0h.6M179.3 91.3h.6M188.6 77.8h.6M171.1 101.1h.6M172.5 104.1h.6M200.1 70.9h.6M203.3 60.7h.6M182.0 89.1h.6M180.9 99.0h.6M209.5 63.2h.6M176.3 88.9h.6M157.1 118.8h.6M221.8 44.1h.6M159.5 107.8h.6M165.5 107.1h.6M200.9 70.1h.6M157.7 101.1h.6M158.9 104.0h.6M210.8 51.6h.6M188.2 80.4h.6M198.0 79.3h.6M191.2 78.3h.6M165.8 110.5h.6M159.5 95.2h.6M162.8 106.7h.6M222.5 46.8h.6M162.7 112.0h.6M160.9 127.8h.6M160.5 101.5h.6M200.8 66.3h.6M235.4 38.0h.6M206.2 68.8h.6M227.5 39.9h.6M172.5 102.8h.6M218.5 47.0h.6M161.3 88.9h.6M179.5 86.8h.6M158.5 124.8h.6M227.2 58.5h.6M197.9 86.0h.6M222.9 38.8h.6M144.6 105.8h.6M235.2 40.3h.6M181.1 99.4h.6M142.2 104.1h.6M166.9 104.0h.6M142.4 121.8h.6M160.2 111.5h.6M161.1 121.0h.6M179.1 94.9h.6M160.7 100.9h.6M159.5 112.5h.6M202.5 69.3h.6M172.2 97.8h.6M168.1 110.9h.6M176.7 87.3h.6M128.2 124.4h.6M208.7 60.9h.6M173.0 98.9h.6M175.9 89.7h.6M210.6 54.1h.6M210.4 48.8h.6M153.6 105.2h.6M191.2 76.0h.6M163.3 94.3h.6M173.0 88.6h.6M172.3 86.1h.6M154.1 105.5h.6M215.1 67.2h.6M173.8 83.5h.6M201.8 62.6h.6M182.9 86.1h.6M143.2 118.6h.6M228.1 52.0h.6M213.3 53.2h.6M211.6 57.0h.6M220.8 40.7h.6M164.9 98.9h.6M235.7 32.4h.6M156.2 102.6h.6M216.5 58.4h.6M204.1 71.0h.6M170.4 106.5h.6M171.9 113.6h.6M264.3 27.2h.6M161.4 101.0h.6M154.1 117.2h.6M220.9 47.6h.6M141.1 120.2h.6M183.1 81.1h.6M218.2 48.8h.6M201.1 73.7h.6M152.9 107.8h.6M159.6 117.4h.6M131.7 131.0h.6M225.5 45.5h.6M149.1 113.4h.6M205.3 67.9h.6M203.2 65.2h.6M147.4 119.6h.6M177.1 88.4h.6M218.7 54.7h.6M227.6 33.8h.6" stroke="#b5b1ac" stroke-width=".6" opacity=".75" fill="none"/>
<path d="M194.2 63.0h.6M192.4 66.8h.6M227.6 62.5h.6M216.1 54.1h.6M201.4 67.2h.6M229.1 52.0h.6M180.5 97.8h.6M165.8 98.7h.6M211.5 59.3h.6M142.3 110.6h.6M198.0 76.6h.6M173.6 125.6h.6M205.2 98.1h.6M227.4 51.7h.6M149.9 106.4h.6M220.5 77.3h.6M224.0 41.7h.6M230.4 61.3h.6M235.8 54.4h.6M201.6 70.3h.6M164.6 97.0h.6M170.2 106.5h.6M155.4 124.1h.6M170.6 124.4h.6M151.5 130.6h.6M202.1 75.9h.6M220.7 56.3h.6M205.3 64.5h.6M225.3 54.5h.6M200.4 52.2h.6M161.4 104.6h.6M164.3 96.7h.6M152.8 88.9h.6M148.9 98.1h.6M236.5 45.6h.6M148.0 121.3h.6M185.9 74.1h.6M213.6 53.2h.6M159.5 125.8h.6M148.8 113.2h.6M189.5 101.3h.6M178.9 85.5h.6M218.1 65.0h.6M226.7 48.0h.6M200.7 63.2h.6M172.4 125.0h.6M188.1 67.6h.6M201.8 63.4h.6M158.1 113.8h.6M228.7 28.7h.6M164.1 104.2h.6M188.9 70.4h.6M206.2 62.5h.6M159.8 133.1h.6M194.6 87.2h.6M150.1 94.9h.6M156.8 104.8h.6M159.2 115.9h.6M238.5 38.4h.6M160.7 122.8h.6M162.9 110.0h.6M151.3 102.0h.6M169.7 100.9h.6M132.2 133.0h.6M198.6 57.9h.6M216.9 39.8h.6M207.0 59.5h.6M174.6 91.8h.6M209.3 53.2h.6M173.0 113.2h.6M183.7 83.5h.6M168.3 98.4h.6M221.4 57.9h.6M202.7 65.7h.6M229.7 40.0h.6M220.0 71.2h.6M218.7 65.0h.6M209.3 64.2h.6M219.9 41.9h.6M180.1 99.0h.6M186.0 99.1h.6M152.8 95.9h.6M172.2 95.5h.6M249.6 53.4h.6M145.6 128.9h.6M203.2 60.2h.6M214.1 55.5h.6M180.4 80.3h.6M156.5 114.8h.6M225.6 42.0h.6M160.9 78.6h.6M206.7 70.4h.6M247.2 44.3h.6M225.3 55.7h.6M213.6 27.6h.6M166.6 111.5h.6M156.5 102.3h.6M224.2 56.8h.6M214.4 52.1h.6M136.2 131.3h.6M186.2 82.3h.6M161.1 93.8h.6M173.5 99.8h.6M173.7 99.7h.6M195.6 94.1h.6M204.1 49.3h.6M200.4 58.1h.6M184.7 98.7h.6M181.7 112.9h.6M227.6 50.7h.6M148.5 111.6h.6M215.4 58.1h.6M206.8 76.7h.6M199.0 45.8h.6M115.6 129.1h.6M222.6 63.7h.6M162.4 100.2h.6M157.3 114.3h.6M173.8 80.3h.6M228.5 39.1h.6M198.7 63.4h.6M143.0 128.2h.6M216.7 46.4h.6M229.3 42.4h.6M200.3 76.0h.6M176.3 94.4h.6M218.9 59.0h.6M202.9 55.4h.6M189.4 71.4h.6M164.5 89.4h.6M194.7 81.3h.6M181.1 107.7h.6M145.6 127.9h.6M218.5 37.5h.6M150.4 101.8h.6M188.3 75.4h.6M140.2 121.8h.6M203.9 57.6h.6M185.4 99.7h.6M162.7 113.0h.6M156.8 110.3h.6M148.4 104.0h.6M158.0 121.5h.6M172.8 106.5h.6M164.8 100.0h.6M152.5 130.1h.6M203.7 55.7h.6M210.5 77.1h.6M194.7 71.3h.6M175.8 111.2h.6M147.5 93.9h.6M196.8 75.8h.6M159.4 95.0h.6M223.1 54.5h.6M150.4 103.4h.6M155.1 114.8h.6M205.1 62.8h.6M206.6 58.8h.6M142.2 125.5h.6M183.3 91.8h.6M237.8 47.8h.6M173.9 84.4h.6M156.3 113.6h.6M163.6 112.3h.6M195.0 64.1h.6M206.8 72.9h.6M149.4 120.9h.6M219.1 53.5h.6M224.5 33.8h.6M159.4 106.0h.6M222.3 49.6h.6M212.6 61.4h.6M183.8 81.7h.6M137.9 141.2h.6M199.9 63.3h.6M231.0 50.8h.6M137.7 130.8h.6M184.1 71.0h.6M237.8 38.3h.6M223.2 40.5h.6M205.4 70.0h.6M215.4 73.2h.6M202.4 56.2h.6M157.9 123.0h.6M149.0 94.3h.6M216.9 51.8h.6M216.9 60.0h.6M156.4 123.6h.6M191.4 72.8h.6M157.5 108.1h.6M187.8 88.8h.6M143.9 124.4h.6M172.7 75.9h.6M153.3 105.0h.6M171.4 115.8h.6M210.9 48.7h.6M128.9 149.6h.6M141.3 117.7h.6M194.8 75.6h.6M243.1 51.8h.6M172.9 95.9h.6M189.4 71.3h.6M152.8 116.3h.6M161.8 105.6h.6M208.9 54.3h.6M200.6 79.7h.6M152.8 118.5h.6M229.0 35.7h.6M194.5 90.8h.6M165.8 110.0h.6M135.5 110.0h.6M205.7 57.8h.6M133.5 126.5h.6M204.9 70.1h.6M188.0 100.0h.6M181.4 99.6h.6M155.4 116.6h.6M206.5 50.7h.6M235.1 59.9h.6M212.0 52.3h.6M157.4 114.6h.6M152.5 125.6h.6M155.4 125.3h.6M217.5 79.3h.6M180.3 96.8h.6M208.7 53.1h.6M149.9 121.1h.6M161.7 112.7h.6M231.4 31.9h.6M188.7 80.0h.6M194.7 69.3h.6M214.3 60.9h.6M137.0 113.1h.6M130.3 104.6h.6M186.9 89.9h.6M162.1 106.6h.6M126.2 135.7h.6M163.1 115.0h.6M209.4 76.6h.6M208.2 66.4h.6M227.7 44.0h.6M220.7 67.6h.6M167.9 111.9h.6M207.9 71.7h.6M212.7 47.9h.6M139.7 123.8h.6M240.2 48.1h.6M188.6 78.9h.6M205.7 66.2h.6M204.0 96.0h.6M186.3 90.0h.6M237.5 42.4h.6M199.3 81.3h.6M209.7 50.3h.6M205.8 46.1h.6M216.8 58.6h.6M149.3 110.2h.6M141.9 97.5h.6M128.0 124.7h.6M238.4 31.9h.6M214.1 51.1h.6M226.4 25.7h.6M228.2 41.3h.6M168.4 113.1h.6M205.9 56.7h.6M159.0 102.7h.6M212.0 44.6h.6M200.1 80.9h.6M230.1 42.2h.6M198.3 66.1h.6M185.5 101.8h.6M211.3 41.7h.6M162.3 104.5h.6M174.0 85.2h.6M179.9 83.3h.6M169.9 87.0h.6M182.6 96.1h.6M226.3 59.9h.6M200.0 92.9h.6M198.4 86.5h.6M206.0 65.4h.6M171.4 93.1h.6M207.6 55.2h.6M168.2 113.5h.6M178.6 78.1h.6M170.6 79.1h.6M231.9 42.4h.6M206.0 72.6h.6M186.0 92.4h.6M183.8 85.8h.6M180.0 71.0h.6M167.8 124.2h.6M138.4 117.2h.6M238.6 29.1h.6M211.1 55.1h.6M178.3 92.4h.6M136.8 117.9h.6M210.2 49.1h.6M213.6 55.4h.6M129.8 122.1h.6M160.8 107.5h.6M185.4 50.9h.6M165.3 106.4h.6M208.1 53.9h.6M177.2 83.2h.6M160.2 110.8h.6M220.5 67.9h.6M207.1 63.8h.6M205.0 81.1h.6M156.1 117.0h.6M200.9 55.2h.6M176.2 106.3h.6M160.5 103.6h.6M172.8 119.9h.6M237.4 57.2h.6M164.0 95.9h.6M167.9 95.3h.6M209.5 62.1h.6M219.4 62.1h.6M181.9 99.1h.6M209.0 73.8h.6M154.8 100.8h.6M152.2 113.4h.6M212.7 63.1h.6M225.3 53.1h.6M180.3 90.1h.6M203.2 60.2h.6M238.5 52.4h.6M147.8 110.8h.6M233.4 55.8h.6M183.3 100.1h.6M154.0 116.0h.6M217.9 29.2h.6M197.1 89.1h.6M209.7 35.2h.6M152.7 119.3h.6M167.4 104.9h.6M152.8 124.5h.6M224.3 54.6h.6M175.0 77.5h.6M166.0 84.0h.6M147.7 99.1h.6M214.1 20.9h.6M177.2 76.0h.6M144.7 126.4h.6M157.0 114.5h.6M158.6 111.5h.6M158.6 105.1h.6M198.3 67.1h.6M144.1 131.3h.6M149.5 104.3h.6M179.2 93.9h.6M225.0 37.2h.6M212.6 53.6h.6M204.2 67.9h.6M214.0 67.8h.6M134.9 122.3h.6M164.7 103.7h.6M170.2 87.3h.6M150.4 105.0h.6M158.1 100.0h.6M214.3 58.4h.6M141.1 110.6h.6M231.1 35.0h.6M169.9 74.7h.6M148.8 90.1h.6M179.8 79.3h.6M193.4 74.2h.6M214.7 64.5h.6M214.0 51.7h.6M202.2 81.0h.6M168.9 112.5h.6M231.4 44.7h.6M175.8 92.6h.6M218.5 58.7h.6M230.8 41.5h.6M175.0 91.0h.6M204.1 74.0h.6M209.4 60.3h.6M160.1 103.2h.6M187.3 52.1h.6M160.0 104.2h.6M154.8 122.9h.6M159.8 115.5h.6M179.3 75.8h.6M138.3 140.5h.6M229.2 49.5h.6M179.7 95.4h.6M162.3 113.6h.6M161.1 109.5h.6M202.8 67.0h.6M204.5 56.3h.6M207.7 73.6h.6M152.8 127.3h.6M172.7 100.0h.6M235.9 7.6h.6M197.0 64.5h.6M169.6 88.1h.6M153.1 120.1h.6M141.4 114.3h.6M167.6 94.5h.6M165.0 118.2h.6M219.2 55.0h.6M177.6 112.9h.6M239.8 52.2h.6M185.7 101.2h.6M215.0 45.6h.6M209.9 45.6h.6M163.0 108.7h.6M160.6 103.7h.6M180.7 81.3h.6M211.8 42.3h.6M180.6 78.3h.6M220.8 32.6h.6M224.5 41.6h.6M186.7 96.8h.6M207.0 63.6h.6M158.9 105.9h.6M211.5 49.0h.6M223.4 72.6h.6M186.7 71.7h.6M171.0 87.3h.6M200.9 74.3h.6M200.7 77.0h.6M222.3 35.1h.6M211.8 20.5h.6M192.7 94.2h.6M204.9 46.1h.6M166.1 100.1h.6M199.3 72.5h.6M236.1 46.9h.6M213.9 66.2h.6M223.0 56.0h.6M169.7 89.6h.6M180.4 96.1h.6M237.7 35.5h.6M215.4 41.0h.6M189.0 83.2h.6M208.4 62.5h.6M196.8 54.9h.6M228.5 68.1h.6M219.4 57.2h.6M240.3 47.9h.6M151.5 101.0h.6M203.6 70.1h.6M209.5 78.8h.6M193.4 79.7h.6M214.3 60.5h.6M204.5 40.3h.6M143.5 134.0h.6M192.8 71.2h.6M216.9 35.8h.6M186.0 98.7h.6M218.4 66.8h.6M174.5 107.7h.6M141.1 121.3h.6M197.9 67.4h.6M158.0 119.5h.6M233.1 44.9h.6M217.8 60.0h.6M190.2 77.9h.6M198.8 58.0h.6M184.7 80.8h.6M185.1 72.9h.6M176.3 103.4h.6M151.5 119.4h.6M172.3 84.0h.6M171.8 84.3h.6M174.5 108.6h.6M234.5 47.4h.6M173.6 104.4h.6M222.9 58.8h.6M154.3 96.7h.6M153.9 119.7h.6M210.9 59.3h.6M143.6 111.3h.6M155.2 101.3h.6M211.8 38.8h.6M198.5 73.3h.6M152.5 131.9h.6M143.4 121.1h.6M200.3 67.7h.6M214.0 64.2h.6M185.0 99.2h.6M217.1 60.5h.6M209.9 78.8h.6M175.1 83.1h.6M169.8 94.7h.6M186.7 97.6h.6M149.2 117.5h.6M147.1 99.1h.6M234.7 23.4h.6M171.6 97.0h.6M220.5 54.4h.6M182.8 69.4h.6M131.1 139.3h.6M220.1 54.3h.6M157.2 117.0h.6M131.4 127.2h.6M144.1 122.5h.6" stroke="#b5b1ac" stroke-width=".5" opacity=".6" fill="none"/>
</g>
<circle cx="228.3" cy="68" r=".55" fill="#6a1a78"/><circle cx="225.5" cy="71" r=".55" fill="#6a1a78"/><circle cx="227.5" cy="71.5" r=".55" fill="#6a1a78"/><circle cx="224.7" cy="72.3" r=".55" fill="#6a1a78"/>
<path d="M215.5 78.2h.5M226.2 67.8h.5M212.8 84.0h.5M214.3 82.7h.5M220.5 76.9h.5M231.4 67.4h.5M219.0 74.9h.5M219.3 74.5h.5M216.5 76.1h.5M232.1 62.9h.5M223.3 73.3h.5M218.4 78.5h.5M213.1 80.8h.5M226.8 70.6h.5M213.1 80.4h.5M219.2 75.3h.5M214.9 79.6h.5M231.4 62.3h.5M217.5 80.5h.5M225.9 67.5h.5M217.7 76.2h.5M232.3 64.2h.5M222.4 74.0h.5M216.2 80.9h.5M222.4 74.3h.5M220.1 76.7h.5M213.9 83.4h.5M224.5 70.6h.5M227.8 67.2h.5M230.2 63.8h.5M222.7 72.0h.5M223.8 71.5h.5M219.7 73.5h.5M225.0 67.9h.5M227.3 69.1h.5" stroke="#8a4a9a" stroke-width=".5" opacity=".7"/>
<rect x="124.8" y="25" width="122.2" height="119.6" fill="none" stroke="#000" stroke-width="1.3"/>
<line x1="129.18" y1="144.60" x2="129.18" y2="147.60" stroke="#000" stroke-width="1"/>
<text x="0" y="0" transform="translate(129.18 154.75) scale(1.12 1)" font-size="5.7" text-anchor="middle">−6</text>
<line x1="121.60" y1="140.58" x2="124.80" y2="140.58" stroke="#000" stroke-width="1"/>
<text x="0" y="0" transform="translate(118.00 142.63) scale(1.12 1)" font-size="5.7" text-anchor="end">−6</text>
<line x1="148.02" y1="144.60" x2="148.02" y2="147.60" stroke="#000" stroke-width="1"/>
<text x="0" y="0" transform="translate(148.02 154.75) scale(1.12 1)" font-size="5.7" text-anchor="middle">−4</text>
<line x1="121.60" y1="122.12" x2="124.80" y2="122.12" stroke="#000" stroke-width="1"/>
<text x="0" y="0" transform="translate(118.00 124.17) scale(1.12 1)" font-size="5.7" text-anchor="end">−4</text>
<line x1="166.86" y1="144.60" x2="166.86" y2="147.60" stroke="#000" stroke-width="1"/>
<text x="0" y="0" transform="translate(166.86 154.75) scale(1.12 1)" font-size="5.7" text-anchor="middle">−2</text>
<line x1="121.60" y1="103.66" x2="124.80" y2="103.66" stroke="#000" stroke-width="1"/>
<text x="0" y="0" transform="translate(118.00 105.71) scale(1.12 1)" font-size="5.7" text-anchor="end">−2</text>
<line x1="185.70" y1="144.60" x2="185.70" y2="147.60" stroke="#000" stroke-width="1"/>
<text x="0" y="0" transform="translate(185.70 154.75) scale(1.12 1)" font-size="5.7" text-anchor="middle">0</text>
<line x1="121.60" y1="85.20" x2="124.80" y2="85.20" stroke="#000" stroke-width="1"/>
<text x="0" y="0" transform="translate(118.00 87.25) scale(1.12 1)" font-size="5.7" text-anchor="end">0</text>
<line x1="204.54" y1="144.60" x2="204.54" y2="147.60" stroke="#000" stroke-width="1"/>
<text x="0" y="0" transform="translate(204.54 154.75) scale(1.12 1)" font-size="5.7" text-anchor="middle">2</text>
<line x1="121.60" y1="66.74" x2="124.80" y2="66.74" stroke="#000" stroke-width="1"/>
<text x="0" y="0" transform="translate(118.00 68.79) scale(1.12 1)" font-size="5.7" text-anchor="end">2</text>
<line x1="223.38" y1="144.60" x2="223.38" y2="147.60" stroke="#000" stroke-width="1"/>
<text x="0" y="0" transform="translate(223.38 154.75) scale(1.12 1)" font-size="5.7" text-anchor="middle">4</text>
<line x1="121.60" y1="48.28" x2="124.80" y2="48.28" stroke="#000" stroke-width="1"/>
<text x="0" y="0" transform="translate(118.00 50.33) scale(1.12 1)" font-size="5.7" text-anchor="end">4</text>
<line x1="242.22" y1="144.60" x2="242.22" y2="147.60" stroke="#000" stroke-width="1"/>
<text x="0" y="0" transform="translate(242.22 154.75) scale(1.12 1)" font-size="5.7" text-anchor="middle">6</text>
<line x1="121.60" y1="29.82" x2="124.80" y2="29.82" stroke="#000" stroke-width="1"/>
<text x="0" y="0" transform="translate(118.00 31.87) scale(1.12 1)" font-size="5.7" text-anchor="end">6</text>
<text x="129.80" y="32.61" font-size="5.85" fill="#5b8a3c">Methylated = 59</text>
<text x="244.20" y="139.12" font-size="5.9" text-anchor="end" fill="#7b2a8c">Demethylated = 145</text>
<text transform="translate(185.5 163.8) scale(.745 1)" font-size="7.9" text-anchor="middle" stroke="#000" stroke-width=".15">293T-mock</text>
<text transform="translate(107.1 86) rotate(-90) scale(.745 1)" font-size="7.9" text-anchor="middle" stroke="#000" stroke-width=".15">293T-RUNX1</text>
<rect x="188.3" y="59.4" width="49.2" height="25.2" fill="none" stroke="#a03a48" stroke-width=".8" stroke-dasharray="1 .8"/>
<line x1="237.90" y1="59.40" x2="253.00" y2="57.80" stroke="#333" stroke-width="0.8"/>
<line x1="237.50" y1="84.60" x2="253.00" y2="106.00" stroke="#999" stroke-width="0.6"/>
<g clip-path="url(#cpI)">
<g transform="translate(253 58) scale(1.9 1.905) translate(-188.3 -59.4)">
<polygon points="133.8,133.3 137.4,134.3 139.5,134.0 141.4,133.3 143.2,132.5 144.8,131.6 146.4,130.7 147.9,129.6 149.4,128.6 150.8,127.4 152.2,126.2 153.5,125.0 154.8,123.7 156.1,122.5 157.4,121.2 158.7,120.0 160.0,118.7 161.3,117.5 162.6,116.2 163.9,114.9 165.2,113.7 166.5,112.4 167.8,111.2 169.1,109.9 170.4,108.6 171.7,107.4 173.0,106.1 174.4,104.9 175.7,103.6 177.0,102.4 178.2,101.1 179.5,99.8 180.8,98.5 182.1,97.2 183.3,95.9 184.6,94.6 185.8,93.3 187.0,91.9 188.2,90.6 189.5,89.2 190.7,88.0 192.1,86.7 193.4,85.5 194.8,84.4 196.2,83.2 197.6,82.0 199.0,80.8 200.3,79.6 201.7,78.4 203.0,77.2 204.3,75.9 205.6,74.7 206.9,73.4 208.2,72.2 209.5,70.9 210.8,69.6 212.1,68.4 213.4,67.1 214.7,65.9 216.0,64.6 217.3,63.4 218.6,62.1 219.9,60.8 221.2,59.6 222.5,58.3 223.8,57.1 225.1,55.8 226.4,54.5 227.7,53.3 229.0,52.0 230.3,50.7 231.6,49.4 232.7,48.0 233.9,46.6 235.0,45.1 236.0,43.6 236.9,41.9 237.8,40.2 238.5,38.3 238.9,36.2 238.0,32.6 238.0,32.6 234.4,31.6 232.3,31.9 230.4,32.6 228.6,33.4 227.0,34.3 225.4,35.2 223.9,36.3 222.4,37.3 221.0,38.5 219.6,39.7 218.3,40.9 217.0,42.2 215.7,43.4 214.4,44.7 213.1,45.9 211.8,47.2 210.5,48.4 209.2,49.7 207.9,51.0 206.6,52.2 205.3,53.5 204.0,54.7 202.7,56.0 201.4,57.3 200.1,58.5 198.8,59.8 197.4,61.0 196.1,62.3 194.8,63.5 193.6,64.8 192.3,66.1 191.0,67.4 189.7,68.7 188.5,70.0 187.2,71.3 186.0,72.6 184.8,74.0 183.6,75.3 182.3,76.7 181.1,77.9 179.7,79.2 178.4,80.4 177.0,81.5 175.6,82.7 174.2,83.9 172.8,85.1 171.5,86.3 170.1,87.5 168.8,88.7 167.5,90.0 166.2,91.2 164.9,92.5 163.6,93.7 162.3,95.0 161.0,96.3 159.7,97.5 158.4,98.8 157.1,100.0 155.8,101.3 154.5,102.5 153.2,103.8 151.9,105.1 150.6,106.3 149.3,107.6 148.0,108.8 146.7,110.1 145.4,111.4 144.1,112.6 142.8,113.9 141.5,115.2 140.2,116.5 139.1,117.9 137.9,119.3 136.8,120.8 135.8,122.3 134.9,124.0 134.0,125.7 133.3,127.6 132.9,129.7 133.8,133.3" fill="#b5b1ac" filter="url(#bl2)"/>
<path d="M201.2 66.9h.4M215.9 60.3h.4M194.5 70.5h.4M202.4 66.4h.4M202.9 64.0h.4M203.2 64.5h.4M191.0 68.7h.4M212.8 62.9h.4M203.0 72.2h.4M202.3 73.4h.4M203.3 69.3h.4M212.5 66.5h.4M204.5 65.4h.4M191.2 80.6h.4M190.5 73.2h.4M209.7 68.2h.4M208.1 71.5h.4M190.4 69.6h.4M201.9 60.6h.4M204.0 79.6h.4M194.8 75.5h.4M190.9 68.5h.4M210.9 61.9h.4M194.9 77.0h.4M197.0 61.2h.4M207.3 71.5h.4M210.1 62.4h.4M194.8 62.3h.4M196.9 75.2h.4M197.5 75.2h.4M189.6 76.3h.4M201.3 63.1h.4M192.3 84.5h.4M189.1 82.3h.4M192.9 72.1h.4M201.0 68.3h.4M191.0 68.7h.4M193.6 71.2h.4M199.9 74.8h.4M204.0 76.4h.4M221.5 68.8h.4M197.0 81.0h.4M200.7 78.8h.4M205.4 63.6h.4M191.7 80.1h.4M191.9 81.6h.4M193.5 79.8h.4M199.4 66.3h.4M193.1 59.6h.4M195.0 73.9h.4M217.2 59.5h.4M196.9 69.4h.4M215.8 60.7h.4M205.6 69.2h.4M201.4 67.8h.4M203.4 67.0h.4M195.2 65.4h.4M193.9 76.1h.4M200.1 66.5h.4M193.7 74.4h.4M213.3 60.0h.4M213.5 65.4h.4M207.3 71.9h.4M209.0 63.5h.4M218.8 61.7h.4M197.6 76.3h.4M197.6 66.1h.4M205.5 72.6h.4M193.7 71.7h.4M203.6 63.6h.4M190.1 83.1h.4M197.8 69.8h.4M223.4 60.0h.4M201.5 78.3h.4M189.6 75.8h.4M189.6 81.2h.4M207.2 66.6h.4M198.2 75.0h.4M204.9 60.5h.4M199.9 83.3h.4M207.9 60.8h.4M188.8 64.2h.4M190.3 83.5h.4M190.0 74.9h.4M197.5 71.2h.4M208.3 66.5h.4M198.4 66.4h.4M200.0 61.1h.4M201.5 62.3h.4M200.6 64.1h.4M217.3 65.3h.4M203.6 64.5h.4M192.8 70.7h.4M197.6 82.0h.4M206.8 60.5h.4M202.5 72.1h.4M217.5 59.8h.4M204.5 73.6h.4M205.9 59.5h.4M206.3 61.8h.4M216.9 62.6h.4M198.4 77.8h.4M194.9 84.5h.4M206.2 66.1h.4M208.0 61.3h.4M201.9 76.1h.4M189.4 77.1h.4M201.4 73.4h.4M214.9 63.8h.4M195.1 61.6h.4M204.1 77.3h.4M194.5 66.7h.4M197.2 75.5h.4M210.8 80.8h.4M196.1 76.2h.4M214.8 68.6h.4M194.2 73.9h.4M202.9 60.3h.4M192.2 72.9h.4M189.6 82.0h.4M195.3 81.9h.4M192.9 74.7h.4M194.1 79.0h.4M191.4 80.1h.4M203.3 61.1h.4M202.3 80.3h.4M198.9 59.6h.4M210.4 70.0h.4M190.4 82.2h.4M205.7 70.8h.4M207.0 67.1h.4M200.6 71.9h.4M199.0 65.3h.4M193.0 79.3h.4M216.4 60.9h.4M209.0 60.9h.4M203.2 70.9h.4M201.8 74.3h.4M188.6 70.7h.4M193.5 62.1h.4M203.1 67.5h.4M189.7 83.8h.4M206.0 64.3h.4M202.9 63.7h.4M207.9 63.9h.4M210.0 68.5h.4M194.3 67.2h.4M207.4 59.9h.4M204.2 63.0h.4M199.3 67.6h.4M200.5 73.6h.4M195.8 79.9h.4M205.2 68.8h.4M194.9 71.2h.4M202.5 66.2h.4M192.0 78.2h.4M218.4 61.5h.4M191.9 71.5h.4M208.9 71.0h.4M205.2 65.9h.4M205.8 62.9h.4M190.8 76.0h.4M203.9 67.0h.4M197.7 74.2h.4M188.5 67.8h.4M198.2 70.9h.4M210.8 77.6h.4M219.8 62.4h.4M193.9 65.8h.4M200.5 64.5h.4M195.0 68.4h.4M191.3 78.1h.4M193.5 71.5h.4M193.7 69.1h.4M202.7 61.3h.4M191.3 79.8h.4M188.4 76.4h.4M215.6 63.0h.4M199.1 66.0h.4M209.2 59.5h.4M194.6 82.8h.4M195.6 74.5h.4M212.6 60.0h.4M205.9 60.8h.4M190.8 79.2h.4M195.9 84.4h.4M210.3 71.0h.4M196.2 60.4h.4M199.8 61.2h.4M195.2 71.2h.4M193.5 64.5h.4M213.5 63.8h.4M194.1 83.8h.4M220.3 66.4h.4M211.3 69.0h.4M194.6 67.1h.4M198.5 64.7h.4M209.2 60.5h.4M202.2 74.8h.4M203.8 75.8h.4M191.5 69.8h.4M195.9 76.0h.4M215.0 66.3h.4M196.9 68.2h.4M192.6 72.8h.4M189.7 82.6h.4M196.3 81.3h.4M212.1 76.5h.4M215.7 60.8h.4M208.9 61.9h.4M193.0 80.1h.4M191.1 71.5h.4M201.8 71.6h.4M208.0 65.6h.4M196.8 71.8h.4M196.0 81.8h.4M216.6 72.5h.4M203.9 69.2h.4M224.8 65.8h.4M209.0 73.3h.4M197.7 79.9h.4M198.4 74.7h.4M204.4 61.9h.4M212.2 59.9h.4M207.1 62.9h.4M198.8 84.1h.4M202.3 73.0h.4M199.4 73.0h.4M198.0 80.9h.4M192.6 65.2h.4M205.8 68.9h.4M192.7 68.5h.4M195.7 74.5h.4M190.8 77.0h.4M222.9 65.3h.4M205.5 66.0h.4M192.2 61.7h.4M212.2 62.8h.4M199.4 65.3h.4M206.0 66.6h.4M190.5 75.9h.4M224.8 66.4h.4M191.3 78.5h.4M192.3 78.6h.4M206.0 65.0h.4M196.1 75.2h.4M218.9 64.7h.4M189.8 80.3h.4M194.0 83.0h.4M190.1 72.5h.4M192.2 80.1h.4M202.5 71.7h.4M198.5 70.0h.4M194.2 76.7h.4M220.6 61.0h.4M197.6 64.4h.4M194.5 72.6h.4M191.3 78.6h.4M199.0 79.2h.4M201.4 70.4h.4M192.9 81.1h.4M195.0 82.4h.4M198.7 69.7h.4M189.6 77.3h.4M201.1 66.8h.4M205.5 60.8h.4M199.1 74.5h.4M206.8 66.7h.4M194.7 68.0h.4M224.2 63.6h.4M191.3 69.8h.4M206.2 67.8h.4M200.7 60.7h.4M213.2 62.5h.4M211.3 64.7h.4M225.3 59.7h.4M199.6 70.3h.4M202.5 71.4h.4M200.5 65.0h.4M215.3 59.7h.4M209.5 62.1h.4M202.2 76.0h.4M215.9 64.1h.4M201.9 66.2h.4M194.6 81.1h.4M192.7 63.2h.4M200.0 63.2h.4M196.9 75.0h.4M190.1 75.6h.4M222.8 62.1h.4M196.3 69.7h.4M193.8 70.1h.4M213.7 68.7h.4M202.5 74.6h.4M202.8 67.1h.4M192.7 74.0h.4M196.7 68.5h.4M213.2 60.0h.4M193.0 74.0h.4M192.3 71.6h.4M195.1 78.5h.4M207.9 73.6h.4M216.5 61.1h.4M192.2 75.3h.4M197.4 65.7h.4M198.6 71.9h.4M191.8 65.3h.4M200.7 72.2h.4M196.5 82.9h.4M211.1 67.5h.4M194.8 77.7h.4M188.4 74.3h.4M191.4 69.4h.4M199.8 63.4h.4M192.7 73.1h.4M201.5 78.0h.4M207.4 60.2h.4M198.9 59.9h.4M192.5 78.1h.4M204.8 74.5h.4M192.0 84.0h.4M196.9 67.8h.4M190.9 67.5h.4M196.7 76.6h.4M192.8 84.4h.4M202.7 81.5h.4M211.1 76.6h.4M212.4 69.0h.4M188.8 77.7h.4M188.5 78.1h.4M206.1 66.3h.4M214.5 60.6h.4M189.8 75.3h.4M210.1 63.6h.4M200.1 66.7h.4M203.0 69.7h.4M216.5 65.4h.4M204.6 67.4h.4M211.3 62.4h.4M194.8 75.1h.4M195.4 72.3h.4M199.5 67.6h.4M206.3 62.2h.4M195.6 81.1h.4M208.9 68.7h.4M213.4 68.5h.4M207.1 63.0h.4M193.9 73.8h.4M197.3 80.9h.4M192.0 80.2h.4M210.0 60.2h.4M190.0 82.7h.4M192.0 75.7h.4M198.1 72.1h.4M191.6 83.4h.4M199.3 83.7h.4M193.6 76.1h.4M205.3 77.4h.4M189.5 69.7h.4M192.5 77.8h.4M198.0 84.6h.4M195.4 77.5h.4M193.9 83.1h.4M195.0 69.4h.4M194.6 62.1h.4M190.1 70.0h.4M203.9 64.9h.4M189.3 72.3h.4M198.6 76.0h.4M200.7 79.9h.4M199.3 68.0h.4M215.4 61.1h.4M192.5 83.5h.4M204.2 64.9h.4M222.1 60.9h.4M209.4 70.4h.4M212.8 59.9h.4M216.9 65.1h.4M190.1 76.5h.4M215.3 71.9h.4M197.8 71.8h.4M219.4 59.6h.4M204.9 66.6h.4M201.1 68.5h.4M194.1 75.7h.4M192.9 83.7h.4M203.9 63.8h.4M190.1 72.3h.4M213.0 61.2h.4M209.7 81.0h.4M222.8 73.9h.4M215.1 60.5h.4M210.1 74.3h.4M209.0 69.1h.4M216.1 64.1h.4M215.7 60.3h.4M195.6 74.9h.4M212.5 61.8h.4M208.8 64.8h.4M201.1 78.5h.4M197.7 74.9h.4M190.6 74.9h.4M208.1 66.4h.4M206.0 74.9h.4M198.6 62.5h.4M211.6 62.6h.4M206.2 68.8h.4M196.8 74.4h.4M203.7 72.8h.4M192.7 84.3h.4M190.3 67.6h.4M213.5 66.9h.4M208.0 60.0h.4M190.8 68.2h.4M191.8 79.9h.4M201.0 74.0h.4M192.0 77.0h.4M199.8 75.7h.4M204.1 70.3h.4M210.4 62.1h.4M197.8 83.8h.4M206.4 64.5h.4M192.5 79.2h.4M210.5 61.3h.4M204.6 72.9h.4M197.8 79.8h.4M195.3 77.4h.4M196.1 69.2h.4M199.1 63.8h.4M189.2 82.4h.4M210.0 64.9h.4M200.7 72.9h.4M199.6 64.7h.4M208.9 62.8h.4M189.8 83.0h.4M205.6 67.6h.4M197.8 67.9h.4M202.4 66.3h.4M198.6 79.2h.4M192.8 77.1h.4M188.8 69.5h.4M211.8 68.2h.4M202.1 65.7h.4M198.5 67.9h.4M196.6 83.2h.4M196.4 68.7h.4M200.7 64.1h.4M192.4 65.0h.4M192.4 68.1h.4M208.5 71.6h.4M209.2 64.4h.4M200.5 61.9h.4M197.4 80.2h.4M196.4 74.9h.4M200.8 76.8h.4M200.7 64.6h.4M190.6 81.9h.4M211.4 60.5h.4M193.4 72.2h.4M198.8 68.7h.4M208.0 64.5h.4M196.1 74.9h.4M189.3 72.6h.4M192.5 68.2h.4M209.9 64.4h.4M195.1 68.2h.4M206.4 77.3h.4M195.9 63.2h.4M192.5 82.4h.4M201.1 67.4h.4M213.9 70.0h.4M205.9 63.6h.4M188.9 74.4h.4M197.5 70.2h.4M201.2 65.0h.4M202.1 60.4h.4M192.7 62.1h.4M198.0 71.3h.4M206.5 68.9h.4M203.6 75.5h.4M201.2 73.0h.4M210.6 72.4h.4M200.4 67.5h.4M189.8 76.9h.4M214.1 59.9h.4M192.0 78.8h.4M210.7 63.9h.4M199.1 68.5h.4M189.2 76.6h.4M196.4 62.8h.4M190.4 71.5h.4M197.1 64.7h.4M207.7 59.7h.4M202.2 61.5h.4M199.6 63.8h.4M189.3 75.6h.4M190.5 84.0h.4M189.6 70.7h.4M210.9 71.1h.4M191.4 78.1h.4M209.2 64.5h.4M208.3 63.9h.4M196.0 68.8h.4M201.8 63.5h.4M204.3 67.3h.4M193.2 68.8h.4M201.9 65.8h.4M212.6 70.7h.4M188.6 73.1h.4M188.5 72.4h.4M220.8 62.5h.4M202.6 78.5h.4M214.3 62.7h.4M196.7 74.0h.4M202.8 61.6h.4M193.5 67.8h.4M212.4 59.8h.4M193.0 71.5h.4M212.8 63.1h.4M202.9 69.1h.4M209.2 64.5h.4M205.4 66.6h.4M210.2 61.5h.4M209.9 60.6h.4M207.1 72.5h.4M197.1 83.1h.4M205.3 60.2h.4M199.6 66.1h.4M191.3 75.0h.4M195.0 64.8h.4M218.0 60.1h.4M210.1 75.5h.4M201.4 66.2h.4M204.0 73.6h.4M203.1 74.0h.4M201.2 80.2h.4M192.3 71.9h.4M198.9 70.9h.4M188.4 78.4h.4M193.9 63.5h.4M217.5 61.0h.4M210.9 63.2h.4M188.5 83.4h.4M196.7 80.5h.4M201.7 61.0h.4M188.9 82.9h.4M196.2 80.7h.4M202.1 78.7h.4M201.7 68.7h.4M188.4 71.5h.4M208.3 59.8h.4M203.6 81.8h.4M204.3 69.5h.4M189.6 72.4h.4M193.9 66.1h.4M210.7 67.0h.4M203.2 65.6h.4M206.5 75.5h.4M217.3 59.8h.4M198.0 76.4h.4M190.4 69.8h.4M198.0 63.7h.4M205.5 66.1h.4M213.8 65.6h.4M193.2 72.2h.4M214.6 60.7h.4M193.5 82.7h.4M189.3 77.3h.4M196.4 63.7h.4M188.8 81.5h.4M198.4 64.2h.4M208.6 66.7h.4M208.1 70.2h.4M205.3 60.9h.4M204.5 73.4h.4M199.7 67.7h.4M209.5 62.3h.4M191.0 77.1h.4M205.9 61.6h.4M205.2 64.6h.4M193.6 77.8h.4M209.8 60.4h.4M194.6 77.6h.4M197.6 76.7h.4M212.0 66.6h.4M202.8 64.5h.4M196.1 79.4h.4M200.7 63.5h.4M193.2 67.2h.4M189.3 77.9h.4M196.4 62.8h.4M199.7 61.9h.4M203.4 68.5h.4M209.3 64.2h.4M216.9 60.9h.4M190.1 63.5h.4M213.4 64.7h.4M203.4 79.0h.4M193.5 71.3h.4M197.0 79.3h.4M192.0 80.5h.4M190.6 66.0h.4M200.3 66.0h.4M196.6 75.3h.4M193.6 71.9h.4M194.7 82.9h.4M192.9 81.2h.4M229.7 62.6h.4M200.0 74.4h.4M219.4 76.2h.4M203.5 69.0h.4M204.7 77.8h.4M191.8 79.0h.4M190.5 83.2h.4M204.2 69.7h.4M201.7 75.9h.4M196.3 79.6h.4M193.2 84.4h.4M218.4 62.3h.4M222.0 60.7h.4M218.9 63.9h.4M198.6 64.8h.4M197.8 63.6h.4M198.9 71.2h.4M193.0 75.9h.4M190.8 77.2h.4M208.5 62.7h.4M195.6 84.4h.4M194.3 78.1h.4M202.8 67.3h.4M192.8 75.9h.4M195.5 79.6h.4M191.7 72.2h.4M205.5 62.0h.4M201.7 84.1h.4M192.6 72.0h.4M205.7 80.5h.4M208.9 65.1h.4M206.9 60.9h.4M194.9 81.9h.4M200.8 75.5h.4M202.4 77.6h.4M190.9 74.0h.4M195.1 70.0h.4M191.6 72.7h.4M200.7 61.0h.4M199.1 81.2h.4M197.0 61.3h.4M198.9 68.6h.4M205.4 76.9h.4M199.5 71.5h.4M192.1 77.5h.4M206.6 65.7h.4M194.8 84.5h.4M191.8 79.6h.4M192.0 80.9h.4M209.0 63.6h.4M188.6 81.1h.4M217.9 64.5h.4M203.4 62.8h.4M197.6 75.1h.4M203.2 64.3h.4M191.9 73.5h.4M198.3 84.6h.4M216.6 63.3h.4M209.6 64.6h.4M213.5 59.8h.4M196.9 64.1h.4M202.0 67.9h.4M191.1 81.7h.4M208.8 62.4h.4M198.4 80.5h.4M210.0 72.6h.4M211.6 77.4h.4M210.9 67.3h.4M221.9 59.9h.4M209.0 69.2h.4M190.6 78.0h.4M190.0 74.6h.4M223.1 61.1h.4M196.7 68.7h.4M194.9 66.6h.4M202.7 59.8h.4M198.3 73.3h.4M212.2 73.3h.4M200.6 61.9h.4M199.9 70.4h.4M210.7 64.3h.4M200.4 74.7h.4M196.7 68.6h.4M189.3 76.3h.4M202.3 65.1h.4M203.0 73.9h.4M188.6 79.0h.4M202.6 67.5h.4M196.4 65.2h.4M207.3 79.2h.4M210.3 67.6h.4M217.8 59.9h.4M208.2 75.5h.4M204.8 59.4h.4M202.3 71.6h.4M195.2 76.6h.4M194.6 82.6h.4M190.6 66.6h.4M189.1 74.7h.4M203.8 69.6h.4M209.0 63.7h.4M195.1 82.2h.4M192.8 60.1h.4M209.6 66.2h.4M188.4 76.0h.4M195.0 73.9h.4M218.0 75.1h.4M199.0 67.8h.4M208.2 72.0h.4M196.7 83.3h.4M204.8 61.6h.4M213.7 64.7h.4M209.5 63.2h.4M214.9 66.7h.4M191.5 83.8h.4M213.4 63.1h.4M197.6 73.8h.4M200.1 80.6h.4M210.7 72.1h.4M190.2 71.7h.4M210.3 63.4h.4M191.7 80.9h.4M217.7 59.5h.4M213.9 60.1h.4M204.3 60.6h.4M201.8 60.6h.4M195.3 67.5h.4M204.9 76.0h.4M195.3 67.3h.4M191.6 78.3h.4M198.2 64.4h.4M204.0 67.1h.4M203.1 72.5h.4M188.3 80.2h.4M200.9 73.5h.4M190.5 72.3h.4M204.8 66.4h.4M193.8 73.9h.4M210.4 68.0h.4M215.7 62.9h.4M193.2 69.6h.4M193.2 83.9h.4M208.3 61.3h.4M190.8 64.2h.4M199.2 74.2h.4M209.5 68.1h.4M216.8 69.4h.4M202.5 67.9h.4M199.0 73.4h.4M190.8 75.5h.4M206.1 61.1h.4M204.2 68.7h.4M208.0 61.1h.4M208.3 72.0h.4M210.2 66.2h.4M211.2 77.1h.4M199.5 74.6h.4M199.9 72.2h.4M199.5 60.2h.4M208.2 67.5h.4M195.1 81.0h.4M204.7 64.1h.4M203.5 68.7h.4M198.2 66.7h.4M200.4 72.7h.4M189.5 78.3h.4M197.0 73.5h.4M223.7 60.5h.4M202.2 67.2h.4M208.6 67.5h.4M193.7 70.9h.4M206.5 76.2h.4M200.5 74.7h.4M211.1 63.5h.4M208.1 68.2h.4M213.0 65.5h.4M229.2 61.1h.4M206.9 80.9h.4M202.4 83.0h.4M195.4 71.8h.4M199.7 63.8h.4M200.4 69.0h.4M211.0 69.7h.4M202.5 68.3h.4M213.8 64.9h.4M196.1 73.1h.4M201.7 65.5h.4M211.3 60.8h.4M196.0 77.4h.4M188.7 77.0h.4M207.9 63.2h.4M214.2 62.9h.4M213.4 73.0h.4M209.4 62.7h.4M215.8 60.3h.4M221.3 69.1h.4M197.3 73.0h.4M200.3 69.4h.4M206.6 62.2h.4M195.0 73.6h.4M217.9 60.3h.4M202.9 80.7h.4M203.8 68.8h.4M221.3 69.7h.4M197.3 80.2h.4M208.4 71.1h.4M205.1 69.3h.4M222.5 59.9h.4M215.4 59.4h.4M189.2 72.0h.4M204.8 80.1h.4M213.4 67.7h.4M197.2 77.6h.4M201.8 75.4h.4M191.3 79.9h.4M198.3 73.5h.4M190.2 83.7h.4M200.5 73.3h.4M202.5 70.0h.4M188.7 79.3h.4M194.4 81.4h.4M191.9 73.9h.4M191.9 72.5h.4M212.2 74.6h.4M189.1 74.2h.4M204.9 60.0h.4M219.3 66.1h.4M208.1 63.1h.4M201.5 63.9h.4M212.4 61.8h.4M193.9 71.1h.4M199.1 80.4h.4M194.0 77.6h.4M190.2 77.6h.4M198.6 68.7h.4M204.7 60.7h.4M194.9 80.1h.4M192.6 82.1h.4M194.5 74.4h.4M191.3 72.1h.4M207.8 64.9h.4M192.0 67.8h.4M214.9 60.7h.4M206.2 66.5h.4M208.0 66.8h.4M213.7 68.2h.4M189.2 72.2h.4M194.1 74.2h.4M202.0 72.6h.4M211.3 65.6h.4M194.2 74.5h.4M200.4 70.0h.4M211.3 67.1h.4M210.7 61.4h.4M202.4 78.9h.4M196.7 79.7h.4M209.6 66.0h.4M204.1 59.9h.4M188.4 75.3h.4M189.2 78.1h.4M202.0 64.9h.4M202.0 68.0h.4M209.0 67.3h.4M188.4 82.1h.4M193.9 82.6h.4M214.4 62.5h.4M192.7 71.2h.4M198.6 63.9h.4M198.3 71.4h.4M204.5 62.0h.4M200.9 83.8h.4M213.9 70.2h.4M207.0 65.6h.4M194.8 71.0h.4M209.0 65.6h.4M219.9 61.9h.4M204.5 63.2h.4M202.7 71.9h.4M208.3 60.0h.4M192.0 77.7h.4M192.6 74.7h.4M194.4 77.6h.4M201.5 64.4h.4M195.3 78.2h.4M213.4 70.3h.4M211.0 60.0h.4M203.1 63.2h.4M195.0 76.5h.4M205.4 68.7h.4M192.1 77.9h.4M191.2 81.3h.4M200.0 72.1h.4M217.0 66.4h.4M201.2 66.2h.4M191.1 80.4h.4M210.7 80.8h.4M199.1 79.0h.4M200.0 71.8h.4M188.5 83.4h.4M191.9 77.9h.4M191.5 75.3h.4M193.5 69.5h.4M201.6 71.2h.4M193.1 80.3h.4M206.7 63.5h.4M209.2 71.0h.4M204.7 65.1h.4M200.4 68.2h.4M192.7 76.8h.4M203.5 64.1h.4M206.2 64.7h.4M212.4 60.5h.4M196.3 67.1h.4M219.9 65.4h.4M208.7 62.9h.4M197.7 70.0h.4M201.2 65.6h.4M194.7 68.8h.4M223.1 65.1h.4M188.9 79.1h.4M189.2 79.2h.4M190.6 67.6h.4M195.9 69.0h.4M196.0 83.8h.4M196.8 84.1h.4M212.3 63.9h.4M200.1 71.2h.4M198.7 72.8h.4M232.9 59.9h.4M211.1 62.9h.4M209.1 66.8h.4M188.8 72.5h.4M216.7 64.6h.4M197.5 71.4h.4M204.4 62.7h.4M199.4 72.2h.4M201.0 62.6h.4M217.8 64.4h.4M219.1 59.4h.4M198.8 63.0h.4M197.2 78.7h.4M189.9 71.1h.4M203.3 64.2h.4M199.1 72.2h.4M188.4 74.7h.4M191.7 74.6h.4M193.3 81.6h.4M193.6 75.5h.4M195.3 69.3h.4M190.3 65.5h.4M204.4 62.6h.4M188.8 68.2h.4M211.2 65.5h.4M193.5 81.3h.4M205.9 62.6h.4M220.3 59.5h.4M204.8 65.6h.4M221.9 73.1h.4M193.3 84.5h.4M198.5 71.9h.4M209.7 66.3h.4M188.9 66.3h.4M188.5 84.4h.4M200.2 78.1h.4M203.6 64.2h.4M204.6 79.1h.4M192.3 74.2h.4M192.8 78.9h.4M206.4 69.3h.4M212.7 64.1h.4M197.1 71.0h.4M194.2 63.2h.4M207.3 70.7h.4M197.5 70.5h.4M188.6 76.3h.4M191.6 69.8h.4M196.8 72.7h.4M207.9 72.3h.4M190.6 83.7h.4M223.7 63.5h.4M191.4 70.5h.4M199.4 62.7h.4M200.1 67.3h.4M213.6 62.5h.4M214.0 62.8h.4M200.4 65.8h.4M211.2 68.4h.4M197.8 69.6h.4M207.2 60.7h.4M203.2 63.9h.4M203.8 75.5h.4M209.5 63.7h.4M195.3 82.0h.4M211.0 69.0h.4M196.5 62.4h.4M208.7 63.6h.4M195.1 81.2h.4M208.1 62.2h.4M202.5 77.8h.4M227.1 62.3h.4M200.6 72.7h.4M206.6 61.5h.4M210.1 66.9h.4M198.0 71.4h.4M193.1 65.2h.4M235.3 62.0h.4M193.8 72.3h.4M204.3 64.9h.4M196.2 65.2h.4M226.1 62.2h.4M191.5 78.3h.4M189.2 73.5h.4M193.7 76.2h.4M226.6 59.8h.4M201.9 62.4h.4M203.5 68.7h.4M219.0 60.6h.4M211.5 60.0h.4M192.0 75.6h.4M204.1 81.6h.4M201.5 71.5h.4M191.8 83.6h.4M196.2 73.9h.4M198.4 70.6h.4M190.1 78.9h.4M191.4 81.6h.4M200.1 80.6h.4M210.5 63.1h.4M206.1 70.1h.4M197.0 69.0h.4M206.2 65.3h.4M191.8 81.0h.4M215.1 61.9h.4M198.0 64.8h.4M209.3 69.1h.4M195.1 71.0h.4M188.6 73.3h.4M200.9 65.4h.4M208.2 73.0h.4M208.1 62.8h.4M200.0 73.7h.4M190.6 70.5h.4M200.7 67.0h.4M204.0 74.0h.4M201.7 68.3h.4M201.7 68.7h.4M192.1 80.7h.4M205.1 69.9h.4M189.8 75.8h.4M192.9 77.8h.4M198.7 65.9h.4M197.4 75.9h.4M212.6 76.9h.4M213.0 65.9h.4M213.4 65.3h.4M194.6 75.0h.4M190.8 73.2h.4M201.4 70.5h.4M207.9 65.2h.4M203.9 60.3h.4M208.1 71.2h.4M211.6 61.5h.4M194.9 75.2h.4M199.8 80.0h.4M211.9 67.6h.4M196.3 63.4h.4M208.4 67.0h.4M192.4 77.3h.4M192.9 79.7h.4M203.6 62.5h.4M205.7 62.7h.4M208.7 64.0h.4M201.1 67.6h.4M196.4 80.7h.4M191.0 76.4h.4M189.4 76.0h.4M197.1 71.9h.4M202.9 76.6h.4M220.3 61.6h.4M214.5 64.9h.4M203.3 78.3h.4M202.8 84.4h.4M209.2 73.8h.4M218.9 69.8h.4M198.8 66.0h.4M216.6 60.4h.4M195.1 60.3h.4M194.1 79.2h.4M201.4 77.2h.4M207.5 64.3h.4M205.2 60.7h.4M190.6 64.8h.4M195.3 78.1h.4M192.0 71.3h.4M197.0 70.1h.4M210.8 65.7h.4M199.9 70.8h.4M192.4 79.0h.4M212.3 71.6h.4M208.6 71.8h.4M201.4 74.3h.4M210.1 66.8h.4M203.8 63.9h.4M198.1 68.1h.4M192.1 70.3h.4M195.0 79.0h.4M200.0 59.7h.4M208.2 65.5h.4M202.0 75.3h.4M192.9 75.7h.4M193.9 66.4h.4M192.8 69.9h.4M212.0 71.8h.4M196.4 70.2h.4M193.6 77.8h.4M200.3 62.3h.4M191.1 72.9h.4M208.7 60.2h.4M215.9 64.7h.4M210.6 63.8h.4M193.1 68.9h.4M208.1 68.8h.4M203.3 64.1h.4M201.6 77.4h.4M214.5 63.0h.4M204.6 64.8h.4M199.5 81.3h.4M188.5 67.3h.4M190.9 66.8h.4M193.1 79.1h.4M207.4 68.4h.4M200.4 63.1h.4M192.6 80.1h.4M188.8 60.0h.4M196.3 79.0h.4M196.1 84.1h.4M201.3 74.3h.4M207.9 72.7h.4M212.1 60.8h.4M208.9 65.7h.4M216.4 64.9h.4M204.8 63.3h.4M201.9 67.6h.4M198.6 66.2h.4M202.9 62.4h.4M220.0 61.4h.4M213.0 63.7h.4M188.9 76.4h.4M207.7 66.0h.4M214.4 69.6h.4M208.2 72.5h.4M195.4 63.6h.4M210.5 59.9h.4M196.3 69.9h.4M204.3 67.8h.4M201.4 70.0h.4M195.3 75.9h.4M203.5 60.8h.4M196.0 65.5h.4M189.7 72.7h.4M211.2 62.3h.4M205.4 65.0h.4M208.8 66.8h.4M196.8 73.3h.4M197.2 76.1h.4M192.9 70.0h.4M202.3 73.5h.4M205.9 69.6h.4M192.6 74.7h.4M196.0 74.9h.4M200.5 74.0h.4M207.7 60.5h.4M205.0 67.9h.4M219.1 60.5h.4M190.2 78.9h.4M197.6 73.7h.4M205.2 64.7h.4M196.8 74.3h.4M189.5 80.6h.4M199.7 73.3h.4M199.0 69.5h.4M212.2 70.3h.4M202.0 67.1h.4M206.2 81.4h.4M210.8 64.8h.4M206.2 69.8h.4M204.1 60.7h.4M192.8 82.4h.4M201.1 71.7h.4M210.4 67.9h.4M204.1 65.2h.4M207.6 60.6h.4M197.6 73.7h.4M203.0 63.8h.4M211.2 70.3h.4M201.8 70.7h.4M202.2 82.0h.4M192.9 62.7h.4M202.6 79.2h.4M190.1 79.1h.4M208.6 67.2h.4M198.7 74.8h.4M201.5 71.3h.4M209.0 61.8h.4M200.6 72.1h.4M216.3 68.0h.4M209.5 59.8h.4M209.4 60.8h.4M200.1 80.6h.4M196.6 70.8h.4M196.0 68.9h.4M195.2 67.5h.4M191.8 75.8h.4M195.8 66.6h.4M198.8 76.7h.4M197.9 76.3h.4M205.4 66.5h.4M197.2 74.1h.4M209.6 63.3h.4M202.8 62.1h.4M200.5 67.2h.4M204.6 71.6h.4M206.6 79.2h.4M203.6 73.8h.4M190.2 71.0h.4M212.4 65.8h.4M203.8 64.9h.4M204.7 61.1h.4M211.3 60.6h.4M209.7 69.2h.4M219.4 62.1h.4M189.6 82.7h.4M199.4 69.4h.4M198.6 64.8h.4M199.4 70.3h.4M209.4 62.8h.4M204.0 63.8h.4M190.6 79.4h.4M209.5 63.6h.4M196.5 76.0h.4M198.6 61.5h.4M189.8 70.2h.4M189.4 73.0h.4M191.4 71.8h.4M189.0 80.9h.4M199.5 63.5h.4M198.4 63.0h.4M209.5 68.5h.4M199.9 67.6h.4M191.8 73.8h.4M195.2 70.9h.4M195.8 77.1h.4M198.7 72.9h.4M195.5 68.0h.4M195.4 63.2h.4M212.8 61.6h.4M213.8 60.6h.4M197.8 79.3h.4M190.8 80.7h.4M217.5 67.5h.4M196.7 76.9h.4M189.1 78.0h.4M212.3 68.1h.4M209.9 63.5h.4M200.6 65.2h.4M220.0 62.4h.4M191.4 83.3h.4M190.5 80.6h.4M211.3 59.7h.4M193.5 78.6h.4M192.4 64.1h.4M218.0 59.8h.4M191.9 63.1h.4M210.8 68.0h.4M212.8 62.2h.4M189.6 75.6h.4M209.9 68.5h.4M196.1 71.8h.4M214.5 65.4h.4M202.7 74.3h.4M202.7 67.5h.4M193.9 82.2h.4M214.9 65.4h.4M204.6 78.2h.4M225.9 60.6h.4M209.4 71.5h.4M204.6 62.2h.4M198.9 74.6h.4M206.3 63.8h.4M197.5 76.5h.4M194.2 75.0h.4M195.9 76.7h.4M202.2 78.9h.4M195.3 75.1h.4M194.9 78.8h.4M204.3 60.4h.4M197.6 69.5h.4M205.2 60.0h.4M205.2 72.2h.4M189.1 83.1h.4M208.1 62.2h.4M213.3 62.5h.4M200.8 62.9h.4M191.8 74.6h.4M194.1 73.6h.4M196.0 71.4h.4M191.0 78.6h.4M193.7 75.1h.4M203.5 70.0h.4M215.4 66.4h.4M209.8 60.6h.4M213.1 81.2h.4M201.2 67.8h.4M199.0 77.8h.4M214.1 61.1h.4M192.0 71.6h.4M203.1 73.9h.4M195.9 69.7h.4M197.8 74.7h.4M203.8 69.1h.4M203.2 74.3h.4M216.5 63.3h.4M200.5 66.5h.4M205.5 67.0h.4M196.0 78.9h.4M193.4 73.6h.4M198.8 74.8h.4M201.2 64.9h.4M189.0 79.5h.4M200.6 71.6h.4M188.8 77.5h.4M190.8 82.3h.4M195.1 82.1h.4M214.2 61.4h.4M203.8 69.2h.4M207.3 73.9h.4M212.4 62.2h.4M197.1 70.9h.4M201.6 65.5h.4M193.0 76.1h.4M196.1 73.2h.4M197.8 75.1h.4M203.5 72.9h.4M203.9 80.5h.4M193.8 75.8h.4M193.6 69.2h.4M198.9 73.0h.4M215.3 73.4h.4M210.2 66.7h.4M211.9 63.9h.4M205.1 66.1h.4M210.7 67.9h.4M226.7 67.7h.4M194.0 72.0h.4M189.1 79.5h.4M200.4 71.1h.4M206.9 67.1h.4M198.2 77.5h.4M191.7 80.0h.4M204.6 74.6h.4M190.8 63.5h.4M203.2 69.8h.4M210.9 64.4h.4M197.6 67.8h.4M198.0 60.6h.4M207.1 77.8h.4M203.9 71.7h.4M216.4 71.1h.4M201.5 80.4h.4M202.0 78.8h.4M199.1 71.1h.4M229.1 71.5h.4M202.9 72.9h.4M208.7 70.5h.4M209.1 61.2h.4M210.7 69.7h.4M189.8 64.1h.4M190.5 79.2h.4M207.2 62.7h.4M192.2 76.7h.4M190.6 80.2h.4M206.0 64.7h.4M214.8 68.8h.4M211.8 60.9h.4M218.6 61.7h.4M221.8 66.1h.4M193.5 66.2h.4M193.6 64.9h.4M202.0 64.1h.4M203.2 76.2h.4M202.1 68.0h.4M214.3 60.7h.4M208.2 63.6h.4M195.5 76.3h.4M207.1 65.8h.4M220.1 61.5h.4M205.7 60.4h.4M203.6 64.1h.4M198.1 79.8h.4M191.5 80.1h.4M194.9 79.6h.4M214.5 69.2h.4M194.1 67.1h.4M197.0 61.3h.4M194.7 82.8h.4M205.6 66.6h.4M197.3 71.0h.4M193.1 84.5h.4M222.0 64.2h.4M192.5 62.6h.4M190.1 66.3h.4M200.1 73.7h.4M190.7 82.1h.4M227.3 65.7h.4M217.5 59.8h.4M203.7 72.4h.4M194.9 67.6h.4M203.4 61.4h.4M203.9 61.8h.4M192.5 73.7h.4M192.8 79.2h.4M199.4 70.6h.4M207.8 63.2h.4M195.9 66.6h.4M205.2 61.9h.4M190.8 68.9h.4M212.2 66.4h.4M216.2 61.2h.4M208.7 63.3h.4M204.2 71.0h.4M204.6 67.4h.4M202.6 72.0h.4M190.2 81.8h.4M201.3 59.7h.4M200.8 84.3h.4M223.3 60.1h.4M201.4 65.4h.4M193.4 77.5h.4M200.9 79.8h.4M210.0 65.6h.4M194.5 69.6h.4M193.8 70.2h.4M198.8 69.4h.4M207.9 67.8h.4M193.6 76.6h.4M201.7 66.2h.4M211.5 66.8h.4M200.0 73.3h.4M214.9 66.9h.4M200.8 80.2h.4M193.9 75.8h.4M192.9 65.8h.4M194.1 75.4h.4M203.1 71.5h.4M201.7 70.7h.4M220.8 60.4h.4M215.4 61.4h.4M198.5 78.8h.4M195.6 74.3h.4M197.0 72.2h.4M205.0 62.6h.4M191.8 75.9h.4M188.7 83.6h.4M189.5 75.8h.4M192.7 75.1h.4M195.0 69.1h.4M202.2 72.7h.4M192.8 71.5h.4M210.5 65.1h.4M190.0 76.4h.4M215.4 60.5h.4M201.1 64.9h.4M193.0 83.8h.4M191.4 72.0h.4M197.3 76.9h.4M188.9 84.4h.4M203.4 62.0h.4M215.8 62.2h.4M214.8 59.8h.4M189.3 69.7h.4M199.9 72.8h.4M192.7 81.2h.4M223.3 60.1h.4M214.0 64.0h.4M212.5 65.7h.4M195.9 72.4h.4M194.4 82.5h.4M190.4 76.1h.4M228.9 60.9h.4M205.2 67.2h.4M207.7 67.9h.4M206.2 63.1h.4M188.7 77.9h.4M191.9 71.7h.4M192.6 65.3h.4M194.4 84.0h.4M207.7 64.3h.4M201.2 62.2h.4M205.4 71.0h.4M200.4 75.4h.4M209.6 72.0h.4M204.0 73.9h.4M205.0 60.1h.4M188.4 72.2h.4M208.4 74.3h.4M208.9 72.9h.4M205.5 61.7h.4M198.1 83.2h.4M203.9 65.0h.4M191.4 80.5h.4M201.1 71.3h.4M194.2 74.3h.4M193.1 78.4h.4M197.2 71.9h.4M204.5 71.4h.4M206.2 62.2h.4M211.2 64.1h.4M193.6 80.0h.4M205.6 71.6h.4M202.8 67.6h.4M194.4 74.3h.4M205.7 66.9h.4M211.2 63.6h.4M193.6 77.6h.4M197.7 70.5h.4M203.8 60.5h.4M206.3 68.7h.4M207.9 66.3h.4M205.3 68.4h.4M195.0 71.1h.4M202.5 71.0h.4M210.0 64.0h.4M203.9 62.5h.4M192.2 82.8h.4M200.2 80.0h.4M189.4 79.3h.4M197.3 79.6h.4M212.7 65.6h.4M196.6 71.2h.4M207.7 60.5h.4M193.3 78.3h.4M196.7 74.9h.4M203.0 62.3h.4M199.4 81.8h.4M202.0 74.6h.4M194.6 81.8h.4M224.2 59.4h.4M205.4 61.4h.4M204.9 67.8h.4M202.0 65.6h.4M195.6 72.4h.4M203.2 65.5h.4M201.6 65.2h.4M192.6 70.6h.4M204.9 62.6h.4M196.7 75.0h.4M198.8 62.6h.4M201.8 81.9h.4M197.1 73.4h.4M204.8 64.3h.4M205.7 75.5h.4M215.1 63.7h.4M190.1 64.2h.4M194.3 79.1h.4M196.3 66.0h.4M194.2 81.4h.4M221.2 62.9h.4M202.8 69.1h.4M210.1 67.5h.4M194.6 83.9h.4M201.3 74.6h.4M207.5 77.3h.4M218.9 62.5h.4M202.1 63.1h.4M195.1 75.6h.4M211.7 67.4h.4M203.2 67.8h.4M211.0 63.9h.4M215.0 66.4h.4M189.9 82.1h.4M197.5 68.1h.4M210.4 66.7h.4M193.0 68.5h.4M202.7 65.1h.4M197.7 71.8h.4M198.7 65.9h.4M196.1 82.1h.4M202.8 72.5h.4M199.3 61.7h.4M198.6 70.7h.4M212.4 65.0h.4M188.5 81.8h.4M222.7 60.0h.4M201.3 62.4h.4M208.5 62.3h.4M193.9 80.8h.4M205.3 80.4h.4M192.2 67.9h.4M204.7 81.9h.4M206.6 60.8h.4M207.1 62.6h.4M198.1 63.5h.4M209.6 61.1h.4M193.9 74.7h.4M193.0 69.4h.4M191.2 72.9h.4M210.7 60.3h.4M197.8 65.8h.4M215.0 73.1h.4M202.3 69.3h.4M203.6 70.2h.4M213.7 62.7h.4M192.8 65.9h.4M188.5 84.4h.4M204.2 59.7h.4M202.3 70.7h.4M193.6 63.2h.4M194.6 65.3h.4M199.9 68.2h.4M206.2 64.8h.4M197.8 71.9h.4M195.1 72.7h.4M192.9 67.7h.4M209.2 70.4h.4M190.9 73.3h.4M201.0 67.0h.4M194.6 71.8h.4M209.5 72.0h.4M205.9 60.0h.4M192.8 75.1h.4M204.2 78.5h.4M208.3 70.3h.4M201.0 71.4h.4M212.4 62.1h.4M192.4 76.9h.4M198.3 64.3h.4M212.1 61.7h.4M204.8 68.6h.4M194.0 71.6h.4M212.9 62.7h.4M207.8 77.0h.4M200.1 82.2h.4M203.2 61.8h.4M202.9 70.7h.4M200.3 70.9h.4M207.3 62.9h.4M212.4 65.6h.4M193.5 84.1h.4M205.6 60.9h.4M192.6 76.9h.4M199.8 67.8h.4M195.9 75.4h.4M188.5 75.5h.4M198.8 70.2h.4M190.5 72.4h.4M203.3 76.0h.4M212.0 62.1h.4M198.3 82.8h.4M191.8 71.0h.4M196.9 66.7h.4M202.5 63.8h.4M217.7 65.6h.4M190.4 71.3h.4M201.4 70.6h.4M206.2 64.8h.4M204.3 65.9h.4M195.0 79.5h.4M204.9 59.8h.4M207.2 71.8h.4M195.2 81.9h.4M203.1 64.4h.4M203.7 69.4h.4M203.0 65.2h.4M192.5 76.8h.4M192.0 71.8h.4M207.4 60.6h.4M208.7 76.8h.4M192.6 60.8h.4M202.9 63.8h.4M207.5 72.2h.4M205.1 67.8h.4M214.3 64.2h.4M190.1 75.7h.4M190.4 73.0h.4M200.1 63.7h.4M204.5 64.8h.4M191.7 72.4h.4M197.1 70.6h.4M195.1 71.3h.4M220.9 63.3h.4M199.4 71.7h.4M189.5 69.6h.4M193.5 75.6h.4M192.2 71.9h.4M209.9 62.9h.4M204.1 62.4h.4M208.1 63.9h.4M214.8 68.3h.4M198.6 69.7h.4M203.9 75.9h.4M199.4 62.7h.4M191.1 84.5h.4M214.6 59.6h.4M188.9 83.3h.4M190.1 82.4h.4M199.0 68.4h.4M203.1 73.0h.4M190.0 73.4h.4M193.9 81.0h.4M199.9 67.4h.4M194.9 72.4h.4M211.5 60.7h.4M190.0 77.9h.4M205.1 64.5h.4M201.6 60.6h.4M198.6 61.4h.4M195.2 77.2h.4M194.8 69.4h.4M195.1 77.1h.4M213.0 59.6h.4M198.7 83.6h.4M204.7 68.6h.4M217.4 69.7h.4M209.4 62.9h.4M206.7 69.7h.4M211.2 61.9h.4M198.1 70.4h.4M194.3 78.4h.4M190.7 80.8h.4M219.3 66.4h.4M220.2 60.4h.4M190.5 82.8h.4M197.8 65.5h.4M196.3 78.8h.4M203.2 77.7h.4M191.6 84.3h.4M202.4 83.2h.4M226.5 69.4h.4M199.8 79.1h.4M191.9 83.6h.4M190.2 70.6h.4M204.1 68.0h.4M206.5 75.6h.4M196.7 64.1h.4M199.8 59.5h.4M192.0 80.0h.4M192.6 77.0h.4M212.3 61.4h.4M205.1 66.5h.4M203.4 74.1h.4M210.7 66.5h.4M195.1 71.5h.4M210.1 72.4h.4M216.4 67.6h.4M209.9 74.0h.4M199.1 74.3h.4M203.3 60.3h.4M190.7 82.0h.4M213.2 67.4h.4M207.4 69.1h.4M205.2 76.1h.4M200.4 70.8h.4M201.3 62.3h.4M193.3 71.0h.4M205.8 66.8h.4M219.1 61.0h.4M198.9 69.3h.4M188.7 78.4h.4M188.5 79.9h.4M201.4 76.5h.4M192.0 66.3h.4M204.0 62.6h.4M198.1 70.8h.4M194.8 67.8h.4M202.0 73.5h.4M197.9 77.4h.4M200.8 65.0h.4M199.9 69.2h.4M202.2 67.9h.4M200.1 77.9h.4M212.1 59.8h.4M189.2 79.8h.4M210.8 69.2h.4M210.3 65.3h.4M204.7 63.6h.4M200.7 66.0h.4M219.9 60.4h.4M188.9 72.6h.4M193.7 72.1h.4M193.3 69.8h.4M207.3 65.1h.4M196.2 70.0h.4M204.7 62.5h.4M236.7 61.8h.4M195.5 70.0h.4M191.6 83.7h.4M219.8 61.3h.4M194.3 68.8h.4M209.6 78.3h.4M192.7 72.0h.4M199.6 64.1h.4M202.0 59.7h.4M197.5 83.3h.4M195.9 78.1h.4M204.1 64.7h.4M215.5 68.1h.4M197.4 73.2h.4M207.2 63.6h.4M203.6 66.0h.4M206.4 75.9h.4M199.4 76.1h.4M200.0 74.7h.4M200.2 72.3h.4M197.0 66.5h.4M221.7 64.8h.4M205.8 64.0h.4M212.0 80.3h.4M189.7 66.9h.4M214.4 77.9h.4M202.8 78.6h.4M205.4 68.9h.4M193.1 70.3h.4M194.2 80.7h.4M202.5 70.6h.4M209.4 62.2h.4M194.3 70.8h.4M204.7 64.6h.4M214.1 69.8h.4M193.7 80.8h.4M207.3 71.0h.4M192.9 75.4h.4M202.1 65.8h.4M199.3 72.6h.4M201.8 62.4h.4M193.2 77.2h.4M210.1 66.6h.4M214.5 62.3h.4M204.3 84.2h.4M214.4 60.7h.4M209.0 59.4h.4M206.3 67.7h.4M196.7 68.6h.4M204.8 77.1h.4M195.0 80.9h.4M203.0 69.9h.4M200.2 79.0h.4M202.8 68.4h.4M209.4 66.7h.4M223.1 60.1h.4M189.5 82.0h.4M193.4 78.3h.4M197.9 82.1h.4M199.3 77.3h.4M217.3 59.5h.4M198.8 65.9h.4M194.5 65.7h.4M201.1 63.4h.4M197.3 61.7h.4M200.3 63.5h.4M198.8 71.5h.4M188.6 79.8h.4M189.2 73.0h.4M202.5 65.6h.4M200.1 59.9h.4M206.3 64.1h.4M200.7 67.9h.4M205.6 63.7h.4M204.0 64.0h.4M193.4 79.8h.4M195.2 60.5h.4M214.1 76.7h.4M212.9 67.2h.4M217.4 62.2h.4M200.9 65.5h.4M190.5 72.0h.4M227.2 63.3h.4M198.1 70.7h.4M194.7 79.1h.4M196.7 80.2h.4M214.4 60.7h.4M188.7 82.3h.4M190.7 68.9h.4M212.9 61.1h.4M201.7 59.6h.4M188.4 76.6h.4M192.0 65.7h.4M193.1 80.1h.4M207.7 66.0h.4M214.1 61.1h.4M198.1 69.0h.4M193.0 65.4h.4M189.4 84.0h.4M194.6 68.1h.4M197.5 76.4h.4M193.5 76.9h.4M203.1 81.3h.4M198.9 66.0h.4M201.5 83.4h.4M191.5 77.1h.4M189.6 83.0h.4M196.6 65.0h.4M214.4 65.8h.4M195.6 78.8h.4M205.1 69.2h.4M190.9 78.4h.4M189.6 76.8h.4M192.6 82.9h.4M194.6 68.3h.4M191.6 74.1h.4M209.2 61.0h.4M196.9 72.8h.4M189.1 75.1h.4M210.3 63.7h.4M197.5 77.9h.4M199.1 62.8h.4M190.0 71.7h.4M195.5 74.8h.4M193.1 76.4h.4M199.5 72.1h.4M214.8 61.8h.4M209.8 59.5h.4M206.3 69.0h.4M195.8 74.5h.4M206.8 65.9h.4M211.0 60.8h.4M188.6 73.0h.4M195.5 72.6h.4M203.6 60.2h.4M194.8 60.5h.4M195.1 78.6h.4M206.8 59.5h.4M196.4 70.2h.4M196.5 80.8h.4M199.2 62.2h.4M207.7 59.5h.4M191.1 80.9h.4M193.8 68.1h.4M193.5 75.2h.4M208.6 62.5h.4M195.1 76.1h.4M196.7 78.5h.4M205.1 78.7h.4M205.2 74.6h.4M209.1 75.7h.4M192.2 65.6h.4M202.4 72.7h.4M189.7 67.3h.4M211.3 62.6h.4M191.6 72.7h.4M206.3 66.5h.4M200.6 66.4h.4M192.3 83.8h.4M191.5 76.0h.4M192.5 82.4h.4M220.6 71.7h.4M213.3 62.9h.4M212.8 62.7h.4M216.0 61.3h.4M204.8 62.8h.4M196.4 73.2h.4M196.2 79.8h.4M200.7 73.7h.4M199.1 74.9h.4M195.7 72.4h.4M193.8 72.0h.4M193.0 74.2h.4M200.1 78.4h.4M200.6 60.7h.4M194.7 68.5h.4M190.8 79.6h.4M207.0 62.4h.4M191.2 72.9h.4M205.7 60.8h.4M194.4 76.4h.4M208.2 66.8h.4M198.4 75.1h.4M193.8 67.3h.4M193.2 71.2h.4M206.9 70.2h.4M205.0 70.1h.4M199.3 72.3h.4M192.2 68.4h.4M212.1 60.5h.4M206.2 71.9h.4M197.9 78.0h.4M199.7 80.9h.4M207.6 64.7h.4M208.0 72.8h.4M209.6 59.7h.4M208.4 66.1h.4M188.5 83.0h.4M195.7 69.5h.4M189.8 78.9h.4M204.3 66.9h.4M196.3 73.7h.4M214.7 61.6h.4M209.7 65.2h.4M209.9 65.5h.4M203.2 69.1h.4M193.7 76.0h.4M229.7 59.8h.4M213.8 64.5h.4M204.6 64.2h.4M211.0 68.0h.4M209.8 59.4h.4M193.4 68.5h.4M195.7 74.8h.4M190.9 70.8h.4M197.2 76.6h.4M189.9 77.4h.4M190.7 84.5h.4M209.8 60.7h.4M202.0 70.0h.4M191.7 78.2h.4M204.9 61.8h.4M193.5 71.4h.4M209.0 59.9h.4M208.5 60.3h.4M191.2 76.2h.4M227.7 62.8h.4M231.0 63.7h.4M201.5 61.3h.4M197.2 69.2h.4M196.6 69.3h.4M195.6 70.3h.4M203.4 72.6h.4M203.5 68.2h.4M214.8 66.4h.4M208.5 65.0h.4M194.2 75.8h.4M189.9 84.0h.4M192.1 84.1h.4M208.3 69.4h.4M213.2 74.9h.4M193.1 79.0h.4M201.3 62.5h.4M206.8 66.4h.4M193.2 67.9h.4M198.7 68.0h.4M201.1 68.6h.4M195.7 78.3h.4M209.2 74.1h.4M203.3 65.9h.4M193.4 74.2h.4M198.7 76.6h.4M212.3 60.2h.4M208.1 69.4h.4M207.4 61.3h.4M198.3 67.7h.4M200.6 76.8h.4M199.4 75.7h.4M209.0 61.4h.4M199.7 67.7h.4M198.2 60.8h.4M202.6 75.9h.4M195.8 74.5h.4M202.0 65.3h.4M193.4 72.1h.4M190.8 71.3h.4M189.6 82.3h.4M192.6 68.1h.4M196.3 74.9h.4M192.9 82.9h.4M207.7 62.5h.4M200.2 64.1h.4M190.3 73.6h.4M199.5 76.1h.4M206.9 78.6h.4M210.6 68.2h.4M190.3 80.5h.4M198.9 69.5h.4M197.6 64.1h.4M193.8 69.5h.4M206.0 75.8h.4M198.5 67.3h.4M201.9 65.6h.4M203.4 79.1h.4M195.9 76.8h.4M195.6 64.4h.4M192.6 76.1h.4M212.5 80.0h.4M196.0 62.1h.4M196.3 68.0h.4M201.8 74.0h.4M200.0 70.4h.4M194.4 75.8h.4M201.4 73.6h.4M223.4 61.7h.4M197.0 66.3h.4M202.0 75.5h.4M202.8 68.1h.4M191.0 74.8h.4M204.2 62.1h.4M203.4 71.6h.4M203.0 59.6h.4M209.5 77.0h.4M191.4 76.3h.4M197.6 71.0h.4M195.8 77.4h.4M200.9 74.6h.4M194.8 76.3h.4M209.9 66.5h.4M189.0 75.9h.4M196.5 72.5h.4M196.8 66.5h.4M227.6 66.6h.4M208.6 69.1h.4M206.4 73.0h.4M217.8 63.8h.4M211.3 69.0h.4M201.5 75.8h.4M207.9 63.2h.4M195.2 71.7h.4M189.2 77.6h.4M191.6 82.8h.4M218.4 61.6h.4M198.8 81.0h.4M201.2 76.0h.4M188.9 78.1h.4M191.3 75.4h.4M197.3 71.9h.4M199.1 81.9h.4M195.1 73.5h.4M204.9 73.4h.4M191.7 71.4h.4M217.5 63.0h.4M196.1 72.8h.4M199.5 67.0h.4M199.4 68.5h.4M207.1 64.3h.4M218.2 66.5h.4M212.1 62.5h.4M208.5 62.7h.4M194.4 78.7h.4M202.5 69.3h.4M208.2 70.7h.4M190.3 79.1h.4M201.9 73.1h.4M205.1 80.9h.4M193.6 70.8h.4M202.4 66.7h.4M202.0 63.2h.4M197.0 67.5h.4M200.1 65.6h.4M206.6 61.6h.4M200.1 66.0h.4M209.5 64.3h.4M198.8 78.1h.4M200.9 78.3h.4M211.3 59.7h.4M208.0 68.1h.4M198.6 76.3h.4M198.9 64.6h.4M192.7 76.7h.4M196.1 76.7h.4M196.8 79.5h.4M207.0 72.4h.4M201.3 80.3h.4M201.4 72.1h.4M197.0 64.2h.4M198.5 72.6h.4M198.4 73.7h.4M199.2 81.0h.4M194.8 72.5h.4M203.6 59.8h.4M203.9 69.7h.4M211.3 59.6h.4M207.5 83.8h.4M196.6 80.8h.4M202.9 64.0h.4M216.3 61.1h.4M190.2 76.0h.4M209.8 66.1h.4M195.1 71.9h.4M188.3 76.0h.4M197.3 73.5h.4M192.7 79.8h.4M198.8 69.0h.4M213.1 76.1h.4M202.1 65.3h.4M207.4 66.6h.4M198.1 67.3h.4M196.2 73.7h.4M196.4 73.5h.4M197.7 78.3h.4M203.8 68.7h.4M221.2 67.5h.4M208.5 62.4h.4M196.5 67.7h.4M205.6 76.1h.4M201.7 68.4h.4M188.9 83.5h.4M194.5 83.7h.4M227.1 62.4h.4M195.6 72.3h.4M193.7 80.6h.4M193.5 82.9h.4M204.6 77.5h.4M188.4 73.0h.4M210.7 59.4h.4M195.3 70.8h.4M205.8 61.7h.4M197.3 69.8h.4M212.0 63.9h.4M190.7 74.3h.4M188.6 73.4h.4M208.0 67.4h.4M205.7 60.9h.4M197.4 83.5h.4M194.4 71.6h.4M205.5 61.5h.4M214.2 60.9h.4M192.1 70.2h.4M205.3 67.5h.4M193.7 81.1h.4M193.3 79.6h.4M198.0 65.9h.4M208.2 68.5h.4M193.1 78.9h.4M191.5 75.5h.4M203.0 70.1h.4M192.7 67.1h.4M203.6 66.2h.4M209.8 65.0h.4M200.9 63.0h.4M212.9 69.1h.4M199.3 68.5h.4M199.6 66.7h.4M193.9 75.1h.4M207.2 66.3h.4M216.1 60.0h.4M207.1 67.4h.4M210.5 81.6h.4M192.3 78.3h.4M212.0 64.0h.4M200.1 79.3h.4M197.5 71.3h.4M196.6 72.0h.4M198.7 72.3h.4M204.5 63.6h.4M197.6 64.9h.4M196.0 65.9h.4M202.1 72.8h.4M193.3 70.8h.4M205.5 65.6h.4M198.6 77.4h.4M219.9 63.2h.4M204.8 70.9h.4M198.7 61.2h.4M203.9 71.4h.4M196.6 60.9h.4M201.3 68.2h.4M200.2 68.2h.4M194.9 76.2h.4M218.2 62.4h.4M210.5 66.3h.4M205.0 61.5h.4M200.9 67.1h.4M207.0 62.7h.4M195.2 67.9h.4M215.3 61.6h.4M189.8 77.1h.4M194.4 73.9h.4M200.8 64.2h.4M193.2 73.5h.4M201.5 71.7h.4M201.7 68.4h.4M205.9 67.7h.4M192.9 83.5h.4M208.0 65.8h.4M209.7 69.0h.4M195.7 75.2h.4M211.8 68.9h.4M213.0 59.5h.4M195.1 73.3h.4M191.9 73.8h.4M212.0 62.9h.4M198.0 76.2h.4M204.1 69.4h.4M201.4 61.2h.4M209.2 66.8h.4M200.8 66.4h.4M206.5 71.0h.4M210.0 64.9h.4M191.6 69.7h.4M192.4 72.1h.4M199.1 69.8h.4M204.4 68.2h.4M211.7 64.6h.4M199.7 65.4h.4M212.4 61.0h.4M189.1 76.8h.4M209.3 71.7h.4M212.5 65.9h.4M189.3 63.9h.4M195.0 78.5h.4M205.9 66.2h.4M195.6 80.8h.4M204.0 76.0h.4M209.5 63.0h.4M191.9 65.0h.4M201.9 69.3h.4M194.7 72.2h.4M204.3 60.0h.4M206.9 61.8h.4M196.4 61.0h.4M205.0 73.2h.4M192.7 71.5h.4M198.6 68.8h.4M192.5 71.5h.4M211.4 72.4h.4M200.0 67.6h.4M195.6 77.5h.4M203.1 68.3h.4M190.1 80.7h.4M193.9 65.5h.4M209.2 63.1h.4M205.2 69.3h.4M188.8 73.4h.4M195.7 76.9h.4M205.1 67.3h.4M190.5 84.4h.4M206.6 66.1h.4M197.8 77.4h.4M211.0 64.7h.4M211.7 68.4h.4M201.1 76.5h.4M192.1 75.5h.4M202.8 66.4h.4M200.2 70.5h.4M193.4 83.0h.4M190.7 71.3h.4M206.0 68.7h.4M198.9 68.5h.4M218.1 59.5h.4M193.6 70.5h.4M192.1 76.5h.4M193.4 76.6h.4M206.9 65.3h.4M207.0 65.9h.4M205.9 63.3h.4M216.4 65.6h.4M192.9 75.4h.4M191.9 80.9h.4M194.1 70.0h.4M216.0 69.5h.4M211.0 67.2h.4M195.7 74.6h.4M196.5 81.5h.4M209.1 65.2h.4M204.0 73.7h.4M197.6 84.5h.4M196.5 82.7h.4M195.5 75.7h.4M189.1 84.3h.4M206.3 65.3h.4M211.0 78.3h.4M192.3 81.8h.4M203.5 62.9h.4M213.4 59.6h.4M219.6 64.5h.4M200.8 67.9h.4M202.2 63.9h.4M190.8 63.8h.4M192.5 73.6h.4M193.2 65.4h.4M200.5 70.3h.4M203.3 73.3h.4M209.2 61.5h.4M202.7 61.3h.4M195.7 68.3h.4M195.5 62.7h.4M205.6 74.7h.4M212.4 65.4h.4M196.9 70.9h.4M213.9 67.0h.4M208.1 61.7h.4M194.6 59.9h.4M200.5 64.9h.4M197.7 64.5h.4M198.2 79.6h.4M227.7 60.2h.4M194.4 70.6h.4M218.3 68.8h.4M193.2 64.5h.4M199.9 70.3h.4M194.6 66.0h.4M207.9 70.1h.4M189.4 78.8h.4M199.6 80.3h.4M208.8 77.0h.4M214.2 72.3h.4M207.0 67.5h.4M194.0 82.0h.4M198.4 83.2h.4M203.4 60.4h.4M198.0 69.9h.4M205.9 61.6h.4M209.0 61.6h.4M195.8 65.9h.4M215.7 59.6h.4M189.6 68.4h.4M210.5 59.9h.4M205.3 73.4h.4M195.7 62.4h.4M188.7 81.5h.4M204.0 64.8h.4M194.9 71.0h.4M215.7 63.7h.4M196.5 81.3h.4M220.1 61.0h.4M199.6 75.3h.4M205.9 67.8h.4M201.1 75.7h.4M199.2 76.2h.4M195.2 73.2h.4M197.9 73.8h.4M197.3 71.1h.4M195.4 78.5h.4M191.8 76.5h.4M192.6 70.5h.4M210.1 65.2h.4M212.0 61.2h.4M200.1 69.3h.4M212.0 70.8h.4M202.6 59.6h.4M206.8 64.9h.4M205.7 71.8h.4M213.9 65.5h.4M208.3 60.5h.4M204.5 83.2h.4M194.0 69.5h.4M191.6 79.8h.4M204.2 69.7h.4M204.9 64.2h.4M212.9 61.5h.4M189.4 75.0h.4M204.8 65.4h.4M190.3 75.4h.4M199.6 65.1h.4M216.9 63.2h.4M196.9 67.3h.4M212.5 67.4h.4M191.3 65.4h.4M204.7 68.5h.4M202.9 63.7h.4M214.6 62.7h.4M199.6 67.5h.4M192.2 78.7h.4M198.4 83.3h.4M211.3 65.5h.4M211.0 61.8h.4M196.1 68.1h.4M211.2 63.3h.4M200.5 67.9h.4M203.9 62.8h.4M217.9 61.5h.4M202.6 61.4h.4M201.9 61.1h.4M207.3 60.0h.4M195.5 65.5h.4M189.8 71.2h.4M193.2 73.7h.4M217.7 63.1h.4M198.3 69.0h.4M210.4 62.0h.4M204.0 63.0h.4M197.6 61.1h.4M208.5 64.1h.4M204.2 65.8h.4M204.6 84.6h.4M191.9 81.1h.4M214.0 64.7h.4M214.1 60.4h.4M213.2 63.8h.4M211.4 64.0h.4M201.7 75.8h.4M199.0 64.0h.4M213.4 71.1h.4M188.9 75.0h.4M202.9 60.6h.4M203.3 63.7h.4M215.1 69.8h.4M193.7 65.1h.4M192.2 67.8h.4M211.2 61.6h.4M200.6 69.1h.4M212.8 63.5h.4M193.2 81.8h.4M197.6 75.3h.4M191.4 75.1h.4M200.9 69.1h.4M208.4 71.9h.4M212.6 61.8h.4M219.4 61.5h.4M196.7 70.2h.4M221.4 59.6h.4M194.5 80.0h.4M189.3 70.6h.4M194.4 72.6h.4M191.2 78.6h.4M190.3 80.5h.4M190.6 79.3h.4M193.8 65.5h.4M197.1 76.2h.4M199.6 67.8h.4M218.7 79.3h.4M194.2 67.3h.4M196.2 76.9h.4M215.0 60.8h.4M194.1 83.4h.4M189.0 78.9h.4M213.5 66.2h.4M206.7 74.8h.4M191.1 83.3h.4M199.5 66.9h.4M197.2 66.2h.4M191.2 73.4h.4M200.1 77.5h.4M217.3 65.1h.4M208.7 59.6h.4M189.5 61.5h.4M190.3 82.1h.4M191.5 79.0h.4M200.3 66.2h.4M210.0 63.3h.4M199.2 68.0h.4M214.8 59.7h.4M194.3 67.7h.4M211.2 66.1h.4M207.0 74.4h.4M202.6 76.1h.4M209.5 63.7h.4M200.8 71.6h.4M193.6 71.2h.4M200.0 70.9h.4M217.0 64.4h.4M195.7 71.0h.4M198.9 78.2h.4M193.8 61.5h.4M204.2 68.7h.4M200.3 69.3h.4M199.9 72.9h.4M200.9 70.9h.4M226.8 62.7h.4M201.7 68.6h.4M189.0 77.6h.4M213.5 66.6h.4M215.0 69.6h.4M212.1 61.2h.4M204.7 62.0h.4M195.6 72.0h.4M204.4 73.2h.4M220.3 61.1h.4M212.4 65.2h.4M217.2 62.9h.4M199.7 67.1h.4M188.5 73.6h.4M192.0 77.5h.4M195.9 83.0h.4M204.9 64.6h.4M191.4 72.8h.4M190.1 73.6h.4M205.4 79.6h.4M211.1 69.9h.4M207.8 69.1h.4M223.9 60.4h.4M202.4 69.2h.4M197.2 74.1h.4M203.7 72.7h.4M192.7 82.7h.4M195.7 59.7h.4M204.7 62.0h.4M192.1 69.9h.4M204.3 70.2h.4M198.8 65.0h.4M201.6 72.3h.4M201.7 74.3h.4M220.7 61.3h.4M206.1 61.0h.4M217.0 65.0h.4M198.4 62.0h.4M188.5 74.3h.4M209.0 62.6h.4M199.9 64.9h.4M215.0 60.9h.4M191.3 83.2h.4M206.4 63.5h.4M188.5 73.6h.4M202.5 78.9h.4M202.2 62.1h.4M211.4 62.6h.4M190.3 69.9h.4" stroke="#b5b1ac" stroke-width=".5" opacity=".85" fill="none"/>
<path d="M214.8 60.6h.35M212.1 77.6h.35M188.6 83.7h.35M226.2 60.6h.35M217.8 63.1h.35M215.9 59.5h.35M206.7 71.6h.35M210.9 76.1h.35M204.0 62.7h.35M208.0 64.7h.35M199.9 63.8h.35M198.7 64.3h.35M224.8 79.5h.35M195.9 61.7h.35M206.6 62.2h.35M201.3 62.0h.35M198.1 83.1h.35M191.8 80.1h.35M197.8 71.0h.35M196.7 63.4h.35M211.3 60.0h.35M206.6 81.4h.35M210.7 76.6h.35M212.3 71.6h.35M201.4 71.6h.35M224.5 61.4h.35M190.9 77.4h.35M223.6 64.4h.35M205.1 74.1h.35M203.9 65.4h.35M201.8 67.8h.35M195.8 66.7h.35M203.7 67.8h.35M222.1 81.1h.35M206.5 72.2h.35M204.6 65.9h.35M217.3 79.0h.35M191.3 70.9h.35M212.0 75.7h.35M199.1 78.7h.35M190.0 73.0h.35M230.0 68.1h.35M197.9 70.3h.35M202.3 71.2h.35M195.8 65.9h.35M200.4 77.3h.35M204.5 67.2h.35M208.5 67.7h.35M189.0 75.5h.35M203.7 76.0h.35M205.6 70.3h.35M195.5 73.8h.35M195.3 67.2h.35M219.8 60.6h.35M199.1 78.0h.35M195.3 65.6h.35M189.0 80.9h.35M198.6 61.6h.35M220.1 62.7h.35M203.5 82.9h.35M189.0 76.4h.35M196.8 83.0h.35M191.0 75.0h.35M194.1 61.2h.35M222.8 60.0h.35M214.2 69.2h.35M210.6 64.9h.35M201.4 77.1h.35M200.9 62.7h.35M216.9 70.0h.35M206.1 77.5h.35M192.1 72.3h.35M214.2 64.2h.35M195.1 61.7h.35M194.0 66.4h.35M206.0 62.5h.35M210.1 67.4h.35M198.4 62.4h.35M205.2 83.7h.35M192.7 71.2h.35M194.1 59.4h.35M206.9 67.0h.35M188.7 80.7h.35M194.0 73.2h.35M217.6 68.6h.35M208.5 65.5h.35M224.0 60.8h.35M196.9 81.0h.35M205.0 63.8h.35M209.7 63.2h.35M199.3 63.2h.35M214.9 66.8h.35M199.1 65.9h.35M221.6 64.1h.35M201.0 67.1h.35M220.7 64.7h.35M189.7 78.8h.35M214.3 65.0h.35M215.5 61.6h.35M193.9 75.3h.35M199.2 65.0h.35M192.1 61.8h.35M214.4 67.0h.35M188.3 83.7h.35M188.6 66.4h.35M213.5 69.2h.35M200.9 79.4h.35M204.0 65.1h.35M199.6 64.6h.35M193.2 63.2h.35M228.0 59.7h.35M197.1 68.4h.35M206.0 64.1h.35M220.5 73.7h.35M223.4 62.2h.35M210.8 68.4h.35M208.8 59.6h.35M213.3 74.6h.35M196.4 83.0h.35M203.2 79.2h.35M208.4 70.6h.35M214.1 61.3h.35M198.2 73.9h.35M207.1 75.6h.35M191.9 73.2h.35M208.6 60.1h.35M211.7 70.4h.35M207.9 77.6h.35M210.0 61.6h.35M200.1 75.7h.35M193.8 71.6h.35M215.9 71.6h.35M211.5 59.4h.35M208.9 62.8h.35M198.3 64.3h.35M193.1 74.8h.35M192.5 67.0h.35M209.1 66.0h.35M193.3 66.3h.35M202.9 81.2h.35M195.3 76.9h.35M209.7 63.7h.35M188.9 75.0h.35M198.1 65.3h.35M230.9 61.8h.35M191.6 73.5h.35M229.0 72.0h.35M199.6 62.0h.35M195.1 63.4h.35M194.5 71.9h.35M188.3 69.7h.35M205.7 70.2h.35M208.2 66.6h.35M196.5 61.1h.35M219.9 72.4h.35M201.8 72.5h.35M204.7 59.9h.35M195.3 67.7h.35M197.1 82.1h.35M192.6 76.9h.35M201.3 68.6h.35M192.0 75.6h.35M205.9 69.2h.35M194.5 63.3h.35M204.3 83.6h.35M198.4 77.7h.35M220.4 62.0h.35M208.4 60.8h.35M190.4 65.3h.35M206.2 66.7h.35M220.1 61.4h.35M210.0 64.0h.35M217.1 71.4h.35M200.1 67.7h.35M198.4 84.4h.35M208.6 60.0h.35M208.0 60.6h.35M198.1 82.6h.35M219.8 70.2h.35M196.7 81.1h.35M191.4 82.1h.35M207.3 64.3h.35M195.3 74.7h.35M206.5 61.0h.35M218.4 63.2h.35M210.0 59.6h.35M201.6 66.5h.35M190.7 75.6h.35M221.0 61.7h.35M191.4 83.1h.35M211.2 61.0h.35M193.3 79.5h.35M211.4 75.8h.35M206.9 63.1h.35M200.4 64.6h.35M202.4 68.9h.35M206.9 62.9h.35M212.2 80.7h.35M214.2 63.2h.35M188.8 76.8h.35M191.6 82.6h.35M210.6 63.2h.35M200.0 64.1h.35M198.3 71.0h.35M190.3 84.4h.35M203.0 68.9h.35M190.9 81.0h.35M204.2 66.1h.35M194.6 70.9h.35M211.4 63.4h.35M213.5 62.8h.35M201.6 63.6h.35M217.7 62.9h.35M210.2 65.1h.35M211.7 64.7h.35M199.7 61.0h.35M211.2 61.4h.35M206.7 64.4h.35M188.4 83.5h.35M208.1 61.9h.35M206.5 72.4h.35M200.5 62.8h.35M201.4 69.5h.35M201.9 77.1h.35M193.0 77.0h.35M209.9 71.5h.35M228.7 60.8h.35M223.6 63.2h.35M205.2 59.7h.35M196.8 67.0h.35M205.6 66.5h.35M205.2 62.3h.35M200.3 63.6h.35M190.0 82.4h.35M200.9 59.5h.35M191.4 65.4h.35M195.3 68.4h.35M224.5 61.2h.35M198.5 81.7h.35M204.8 82.5h.35M201.4 68.3h.35M191.6 66.0h.35M190.7 81.3h.35M192.9 78.4h.35M204.7 69.8h.35M203.7 60.3h.35M222.4 60.4h.35M209.6 71.1h.35M214.3 65.0h.35M212.0 65.0h.35M191.8 65.7h.35M193.9 74.1h.35M191.1 74.3h.35M224.5 60.3h.35M206.6 77.1h.35M194.9 64.6h.35M231.0 61.9h.35M215.4 60.3h.35M198.0 62.4h.35M198.1 75.8h.35M191.7 71.9h.35M191.1 79.9h.35M215.6 71.1h.35M201.4 65.2h.35M188.3 70.6h.35M224.9 65.1h.35M205.0 72.8h.35M195.3 73.2h.35M214.8 61.4h.35M208.7 66.9h.35M216.1 61.4h.35M214.2 76.4h.35M212.0 79.0h.35M201.8 66.4h.35M217.2 59.7h.35M208.7 68.5h.35M209.3 59.9h.35M199.7 70.1h.35M204.2 61.8h.35M213.3 64.6h.35M189.9 78.9h.35M189.7 61.8h.35M209.7 72.5h.35M198.7 66.5h.35M205.7 75.4h.35M190.1 82.7h.35M201.9 70.9h.35M197.6 70.8h.35M189.9 73.5h.35M211.5 63.0h.35M219.5 60.8h.35M229.2 61.5h.35M220.0 67.3h.35M208.6 79.5h.35M205.8 63.7h.35M190.7 81.5h.35M208.5 73.6h.35M191.9 80.9h.35M192.3 76.5h.35M213.8 62.3h.35M202.5 59.8h.35M198.4 66.0h.35M205.4 63.9h.35M203.9 69.8h.35M195.8 80.1h.35M189.1 83.6h.35M227.8 62.0h.35M198.7 81.9h.35M210.5 80.4h.35M203.1 72.5h.35M197.0 68.1h.35M195.5 72.0h.35M197.5 73.3h.35M197.0 67.1h.35M215.1 67.3h.35M221.6 69.9h.35M210.8 72.0h.35M207.5 66.9h.35M205.9 64.9h.35M196.5 74.8h.35M200.5 62.2h.35M190.9 68.4h.35M206.0 59.8h.35M222.0 60.4h.35M197.2 64.1h.35M190.5 74.4h.35M205.3 66.3h.35M217.7 64.8h.35M207.1 61.5h.35M200.1 60.4h.35M205.6 65.9h.35M203.7 60.2h.35M196.3 75.5h.35M200.7 76.2h.35M209.4 66.6h.35M191.9 66.8h.35M224.2 61.7h.35M198.4 69.6h.35M193.9 65.2h.35M192.3 80.9h.35M188.6 78.8h.35M206.2 69.1h.35M196.5 75.0h.35M211.8 61.9h.35M217.8 60.0h.35M211.3 70.4h.35M205.0 59.6h.35M192.9 69.9h.35M196.4 69.8h.35M197.0 71.5h.35M199.6 69.4h.35M216.1 74.7h.35M206.0 71.6h.35M209.2 65.7h.35M208.8 73.6h.35M198.9 67.8h.35M204.8 74.6h.35M195.6 79.0h.35M200.7 78.2h.35M215.0 65.9h.35M193.0 70.8h.35M204.6 61.9h.35M205.7 63.0h.35M209.1 72.5h.35M189.6 81.2h.35M221.0 67.1h.35M211.3 68.8h.35M216.2 63.1h.35M205.8 62.5h.35M190.1 63.7h.35M231.6 62.2h.35M190.7 61.1h.35M201.1 59.8h.35M191.7 82.6h.35M209.4 69.7h.35M189.3 80.1h.35M235.2 63.0h.35M193.1 69.3h.35M196.6 68.5h.35M218.1 62.5h.35M194.4 65.8h.35M189.5 75.9h.35M204.4 76.8h.35M189.2 60.4h.35M224.1 72.1h.35M210.5 74.6h.35M191.9 74.9h.35M206.3 71.9h.35M206.0 62.2h.35M189.2 63.8h.35M200.2 82.0h.35M191.1 61.9h.35M192.7 74.3h.35M196.8 80.2h.35M209.8 63.6h.35M190.8 75.6h.35M216.9 64.0h.35M194.7 62.0h.35M200.7 66.5h.35M216.4 65.2h.35M216.6 60.3h.35M189.7 72.5h.35M213.0 61.2h.35M220.0 74.1h.35M201.3 75.3h.35M207.3 67.8h.35M198.7 75.7h.35M210.0 79.5h.35M201.3 62.3h.35M193.7 70.3h.35M230.6 65.2h.35M205.6 75.1h.35M211.6 67.6h.35M195.1 78.9h.35M218.5 61.6h.35M202.2 69.7h.35M207.1 65.3h.35M206.4 79.3h.35M205.4 69.1h.35M216.0 66.5h.35M207.1 79.0h.35M191.9 71.9h.35M213.9 66.8h.35M194.6 62.7h.35M199.4 79.0h.35M198.8 80.6h.35M196.3 69.3h.35M207.5 70.0h.35M189.0 74.8h.35M216.0 62.0h.35M193.4 71.3h.35M221.1 67.9h.35M213.7 62.7h.35M206.4 63.0h.35M208.6 66.7h.35M199.5 65.3h.35M223.7 68.2h.35M189.4 78.9h.35M201.6 71.7h.35M226.5 60.0h.35M207.6 67.0h.35M211.7 69.9h.35M192.0 62.2h.35M199.0 70.1h.35M224.3 63.0h.35M205.3 79.0h.35M205.2 71.8h.35M196.1 82.2h.35M212.6 70.4h.35M188.5 77.7h.35M206.9 59.7h.35M200.0 84.5h.35M191.3 66.8h.35M215.5 81.0h.35M202.1 69.8h.35M204.6 84.4h.35M218.1 74.9h.35M200.8 61.4h.35M225.8 66.5h.35M203.2 76.1h.35M190.3 66.1h.35M204.3 64.6h.35M199.1 75.0h.35M201.4 79.7h.35M191.0 76.0h.35M194.0 73.4h.35M202.7 74.5h.35M217.1 69.2h.35M223.3 62.4h.35M211.6 76.7h.35M193.4 82.5h.35M188.9 77.3h.35M210.8 60.8h.35M214.1 64.4h.35M189.3 68.3h.35M234.2 63.8h.35M198.0 68.2h.35M199.7 75.5h.35M213.4 70.9h.35M208.2 70.5h.35M194.4 64.5h.35M217.1 76.3h.35M202.0 78.9h.35M218.2 72.8h.35M211.1 74.3h.35M219.5 67.4h.35M198.8 75.3h.35M212.6 61.9h.35M188.4 72.7h.35M203.2 72.8h.35M209.4 62.4h.35M194.2 73.8h.35M191.7 67.7h.35M212.0 62.5h.35M210.2 62.7h.35M189.6 79.1h.35M207.2 68.1h.35M207.8 66.2h.35M197.5 65.7h.35M213.3 61.3h.35M188.4 82.1h.35M216.3 60.7h.35M188.7 69.1h.35M189.3 79.8h.35M206.7 68.5h.35M188.5 65.9h.35M194.3 77.6h.35M219.9 65.5h.35M188.5 79.1h.35M203.6 79.2h.35M190.0 73.2h.35M206.2 61.1h.35M189.3 71.8h.35M204.9 64.7h.35M198.6 78.2h.35M203.8 63.8h.35M189.0 84.6h.35M211.4 67.2h.35M212.2 65.1h.35M213.6 64.9h.35M217.4 60.5h.35M219.9 76.1h.35M202.7 77.7h.35M205.3 66.3h.35M213.8 65.1h.35M212.0 74.6h.35M194.9 76.8h.35M197.6 80.8h.35M197.8 81.1h.35M200.5 62.0h.35M198.0 65.5h.35M197.1 68.3h.35M208.8 64.8h.35M192.5 70.7h.35M201.9 79.9h.35M197.6 70.1h.35M194.4 72.5h.35M213.6 66.8h.35M195.0 76.5h.35M213.3 79.7h.35M218.0 65.3h.35M203.8 64.3h.35M193.9 76.8h.35M230.6 73.3h.35M201.8 68.9h.35M198.4 80.0h.35M194.7 62.8h.35M205.1 65.2h.35M199.3 72.7h.35M225.0 63.1h.35M215.5 61.8h.35M198.2 81.0h.35M195.8 68.1h.35M193.4 75.3h.35M206.4 60.1h.35M206.6 69.9h.35M191.6 76.8h.35M197.5 80.4h.35M218.7 61.5h.35M198.3 69.9h.35M192.2 77.5h.35M222.6 65.2h.35M210.5 69.6h.35M200.2 69.1h.35M190.8 64.3h.35M195.0 79.8h.35M197.3 69.9h.35M192.0 78.1h.35M197.3 80.5h.35M206.6 65.4h.35M194.0 79.2h.35M191.3 67.8h.35M200.4 74.9h.35M217.6 59.8h.35M194.1 63.8h.35M196.6 74.6h.35M202.9 75.3h.35M212.2 76.3h.35M206.8 67.8h.35M218.6 66.3h.35M214.6 62.2h.35M230.8 61.2h.35M192.1 80.8h.35M198.9 70.6h.35M207.7 76.6h.35M198.8 78.4h.35M189.6 77.1h.35M210.4 73.5h.35M197.0 68.7h.35M191.0 74.0h.35M188.9 71.7h.35M205.7 78.4h.35M198.6 74.0h.35M204.0 64.7h.35M193.1 76.3h.35M195.6 63.4h.35M195.5 71.6h.35M189.0 82.4h.35M193.8 74.0h.35M190.0 70.1h.35M190.9 78.4h.35M228.1 64.3h.35M191.1 76.5h.35M196.6 82.9h.35M213.3 80.3h.35M191.7 68.7h.35M208.5 70.6h.35M206.9 60.4h.35M200.6 74.1h.35M194.7 80.4h.35M206.4 71.8h.35M225.1 70.0h.35M194.4 62.7h.35M202.0 77.7h.35M192.8 73.5h.35M200.3 60.7h.35M190.0 77.5h.35M198.2 68.6h.35M192.7 74.8h.35M217.2 59.6h.35M206.7 71.4h.35M195.9 60.0h.35M192.5 75.4h.35M196.4 68.7h.35M189.0 81.4h.35M193.9 75.6h.35M207.2 77.8h.35M193.5 82.9h.35M230.5 62.0h.35M198.5 67.3h.35M200.0 80.3h.35M197.7 63.8h.35M195.2 75.6h.35M190.3 71.3h.35M205.5 68.0h.35M210.5 60.4h.35M212.2 71.3h.35M193.2 71.8h.35M220.3 64.5h.35M188.6 75.4h.35M213.0 61.5h.35M221.9 59.8h.35M190.5 83.6h.35M219.9 65.8h.35M219.8 69.5h.35M202.9 60.3h.35M204.8 65.5h.35M213.8 67.6h.35M203.1 73.4h.35M190.3 75.4h.35M195.0 70.9h.35M227.3 71.3h.35M208.1 63.6h.35M191.7 62.4h.35M197.5 76.7h.35M208.2 63.7h.35M188.5 71.0h.35M190.7 65.6h.35M199.5 82.5h.35M209.6 66.5h.35M196.2 82.8h.35M202.0 62.4h.35M219.4 62.8h.35M209.4 75.4h.35M202.9 65.3h.35M207.4 59.8h.35M194.5 74.9h.35M196.2 60.6h.35M197.0 73.1h.35M200.2 69.1h.35M196.3 79.9h.35M213.8 61.1h.35M201.4 79.9h.35M223.8 61.9h.35M220.7 65.0h.35M206.1 76.7h.35M194.0 66.4h.35M214.9 65.8h.35M197.9 75.1h.35M195.8 82.6h.35M200.1 70.7h.35M199.1 73.3h.35M193.3 76.8h.35M208.7 76.5h.35M198.0 60.0h.35M225.8 71.2h.35M191.0 74.9h.35M190.1 73.0h.35M208.4 64.2h.35M226.0 63.4h.35M190.5 75.9h.35M199.3 82.9h.35M209.0 67.2h.35M191.9 77.7h.35M190.3 76.0h.35M206.2 64.7h.35M191.0 78.2h.35M192.4 82.1h.35M199.7 74.0h.35M206.9 70.1h.35M188.5 82.1h.35M207.0 63.0h.35M199.8 65.8h.35M208.7 63.8h.35M196.8 71.6h.35M195.6 82.8h.35M197.7 62.7h.35M211.3 72.2h.35M200.8 74.9h.35M223.3 66.3h.35M200.8 78.9h.35M202.4 66.4h.35M199.7 73.7h.35M191.7 79.9h.35M212.1 62.0h.35M192.0 82.7h.35M196.7 77.5h.35M215.1 67.4h.35M203.4 82.1h.35M195.9 67.3h.35M196.8 60.0h.35M221.5 65.3h.35M197.2 63.3h.35M191.0 69.1h.35M204.7 61.3h.35M188.3 83.6h.35M209.1 64.6h.35M190.2 61.9h.35M211.2 64.0h.35M199.7 60.7h.35M190.9 78.9h.35M190.8 62.4h.35M201.4 65.7h.35M206.5 78.1h.35M195.0 68.0h.35M194.9 60.5h.35M189.7 76.7h.35M191.7 69.8h.35M196.6 67.5h.35M206.0 82.8h.35M198.1 72.4h.35M197.6 61.9h.35M208.2 64.7h.35M192.3 69.2h.35M200.4 77.8h.35M220.9 65.9h.35M190.4 73.0h.35M190.5 80.7h.35M190.9 71.3h.35M215.8 74.6h.35M197.2 79.8h.35M205.7 66.6h.35M210.0 65.1h.35M193.3 71.3h.35M216.3 60.3h.35M213.0 66.3h.35M214.6 65.9h.35M206.5 63.1h.35M198.3 69.9h.35M199.5 71.4h.35M202.6 76.7h.35M201.2 60.7h.35M201.4 60.7h.35M209.4 80.3h.35M194.4 78.7h.35M207.8 61.6h.35M209.7 74.7h.35M207.0 65.8h.35M191.7 69.9h.35M202.3 74.0h.35M192.7 69.6h.35M196.2 70.0h.35M212.7 67.2h.35M203.4 82.2h.35M213.7 63.2h.35M204.1 71.5h.35M202.0 80.8h.35M210.8 61.3h.35M189.8 78.3h.35M209.0 64.4h.35M202.4 67.3h.35M191.3 74.6h.35M204.1 67.0h.35M194.7 76.2h.35M204.0 83.0h.35M199.7 69.4h.35M198.9 73.9h.35M189.9 72.0h.35M212.2 61.7h.35M204.8 69.9h.35M193.8 60.6h.35M201.7 71.2h.35M209.1 76.5h.35M214.0 63.4h.35M195.8 80.4h.35M202.4 61.2h.35M200.0 63.8h.35M198.7 72.1h.35M209.9 70.0h.35M195.5 73.1h.35M199.0 67.8h.35M216.5 79.9h.35M199.8 64.7h.35M196.2 65.1h.35M195.2 64.0h.35M214.4 71.7h.35M209.2 61.0h.35M199.3 59.5h.35M192.9 61.1h.35M210.5 77.9h.35M199.6 79.6h.35M212.7 69.8h.35M201.3 65.9h.35M207.2 64.1h.35M233.1 67.2h.35M205.1 73.0h.35M192.2 75.1h.35M205.3 76.3h.35M213.4 60.5h.35M205.5 73.0h.35M217.6 62.4h.35M204.7 69.0h.35M200.3 73.7h.35M198.3 62.6h.35M198.7 79.0h.35M196.8 67.1h.35M188.7 76.7h.35M208.9 65.7h.35M206.2 63.5h.35M214.2 59.7h.35M193.6 74.5h.35M199.3 66.2h.35M231.1 62.8h.35M189.3 76.2h.35M198.4 66.4h.35M214.5 62.2h.35M207.1 65.0h.35M209.3 61.6h.35M209.3 78.3h.35M191.4 70.0h.35M201.5 63.1h.35M192.4 67.5h.35M188.9 62.6h.35M202.7 75.7h.35M218.0 64.5h.35M200.1 78.0h.35M210.2 62.6h.35M208.6 61.1h.35M195.8 61.9h.35M194.2 73.6h.35M202.4 64.1h.35M204.2 66.4h.35M202.2 68.7h.35M192.1 77.5h.35M207.7 82.6h.35M210.7 64.8h.35M209.8 66.3h.35M216.3 70.7h.35M194.5 76.8h.35M203.2 77.5h.35M212.6 60.3h.35M200.7 66.4h.35M208.4 74.9h.35M206.2 69.1h.35M198.8 79.1h.35M202.6 75.0h.35M202.5 61.0h.35M196.7 82.2h.35M204.1 65.9h.35M207.7 66.8h.35M199.8 60.8h.35M199.9 59.7h.35M206.8 61.5h.35M196.1 72.0h.35M211.4 63.5h.35M236.7 77.7h.35M201.6 69.2h.35M200.2 68.7h.35M209.6 77.2h.35M190.7 74.4h.35M198.9 69.7h.35M199.6 69.2h.35M218.3 59.9h.35M199.5 74.1h.35M217.1 62.5h.35M220.1 62.7h.35M195.9 82.3h.35M192.4 80.0h.35M210.2 67.7h.35M190.2 63.9h.35M205.0 64.4h.35M195.5 81.9h.35M195.0 70.1h.35M206.6 67.0h.35M195.7 64.1h.35M205.5 68.9h.35M196.0 79.0h.35M204.4 65.4h.35M200.3 78.9h.35M188.9 78.6h.35" stroke="#b5b1ac" stroke-width=".4" opacity=".8" fill="none"/>
</g>
<line x1="285.20" y1="106.00" x2="331.80" y2="58.00" stroke="#6a2a8a" stroke-width="0.8" stroke-dasharray="2 1.4"/>
<line x1="253.00" y1="66.00" x2="261.00" y2="58.00" stroke="#333" stroke-width="0.8" stroke-dasharray="2 1.4"/>
<circle cx="299.1" cy="93.2" r=".75" fill="none" stroke="#a070b8" stroke-width=".28"/>
<circle cx="312.6" cy="87.1" r=".75" fill="none" stroke="#a070b8" stroke-width=".28"/>
<circle cx="315.9" cy="83.6" r=".75" fill="none" stroke="#a070b8" stroke-width=".28"/>
<circle cx="310.6" cy="91.7" r=".75" fill="none" stroke="#a070b8" stroke-width=".28"/>
<circle cx="307.9" cy="89.0" r=".75" fill="none" stroke="#a070b8" stroke-width=".28"/>
<circle cx="308.3" cy="82.5" r=".75" fill="none" stroke="#a070b8" stroke-width=".28"/>
<circle cx="302.2" cy="98.3" r=".75" fill="none" stroke="#a070b8" stroke-width=".28"/>
<circle cx="324.4" cy="66.8" r=".75" fill="none" stroke="#a070b8" stroke-width=".28"/>
<circle cx="301.3" cy="94.2" r=".75" fill="none" stroke="#a070b8" stroke-width=".28"/>
<circle cx="323.8" cy="68.2" r=".75" fill="none" stroke="#a070b8" stroke-width=".28"/>
<circle cx="319.9" cy="75.1" r=".75" fill="none" stroke="#a070b8" stroke-width=".28"/>
<circle cx="311.9" cy="84.9" r=".75" fill="none" stroke="#a070b8" stroke-width=".28"/>
<circle cx="321.6" cy="77.0" r=".75" fill="none" stroke="#a070b8" stroke-width=".28"/>
<circle cx="319.8" cy="80.9" r=".75" fill="none" stroke="#a070b8" stroke-width=".28"/>
<circle cx="307.1" cy="94.5" r=".75" fill="none" stroke="#a070b8" stroke-width=".28"/>
<circle cx="333.0" cy="68.5" r=".75" fill="none" stroke="#a070b8" stroke-width=".28"/>
<circle cx="307.1" cy="88.1" r=".75" fill="none" stroke="#a070b8" stroke-width=".28"/>
<circle cx="321.6" cy="80.4" r=".75" fill="none" stroke="#a070b8" stroke-width=".28"/>
<circle cx="330.5" cy="79.0" r=".75" fill="none" stroke="#a070b8" stroke-width=".28"/>
<circle cx="328.6" cy="71.6" r=".75" fill="none" stroke="#a070b8" stroke-width=".28"/>
<circle cx="333.8" cy="69.9" r=".75" fill="none" stroke="#a070b8" stroke-width=".28"/>
<circle cx="325.3" cy="73.6" r=".75" fill="none" stroke="#a070b8" stroke-width=".28"/>
<circle cx="335.8" cy="63.8" r=".75" fill="none" stroke="#a070b8" stroke-width=".28"/>
<circle cx="321.8" cy="70.3" r=".75" fill="none" stroke="#a070b8" stroke-width=".28"/>
<circle cx="300.6" cy="97.3" r=".75" fill="none" stroke="#a070b8" stroke-width=".28"/>
<circle cx="325.2" cy="71.9" r=".75" fill="none" stroke="#a070b8" stroke-width=".28"/>
<circle cx="326.5" cy="73.7" r=".75" fill="none" stroke="#a070b8" stroke-width=".28"/>
<circle cx="301.4" cy="97.5" r=".75" fill="none" stroke="#a070b8" stroke-width=".28"/>
<circle cx="299.9" cy="94.1" r=".75" fill="none" stroke="#a070b8" stroke-width=".28"/>
<circle cx="328.0" cy="66.9" r=".75" fill="none" stroke="#a070b8" stroke-width=".28"/>
</g>
<circle cx="330.3" cy="74.8" r=".9" fill="#4a1060"/>
<circle cx="324.3" cy="80.7" r=".9" fill="#4a1060"/>
<circle cx="328" cy="81.3" r=".9" fill="#4a1060"/>
<circle cx="322.9" cy="83.2" r=".9" fill="#4a1060"/>
<circle cx="267.8" cy="82.5" r=".6" fill="#555"/><circle cx="263.5" cy="86.6" r=".6" fill="none" stroke="#555" stroke-width=".3"/>
<rect x="253" y="58" width="93.5" height="48" fill="none" stroke="#a03a48" stroke-width=".8" stroke-dasharray="1 .8"/>
<text x="270.80" y="84.06" font-size="6">cg06329735</text>
<text x="263.60" y="91.36" font-size="6">cg05382497</text>
<text x="332.20" y="76.76" font-size="6">cg00711896</text>
<text x="330.70" y="83.86" font-size="6">cg00776364</text>
<text x="320.10" y="91.36" font-size="6">cg00058449</text>
<text x="456.00" y="33.18" font-size="6.9" text-anchor="middle" font-weight="bold">RUNX1 motif</text>
<line x1="403.70" y1="114.90" x2="508.80" y2="114.90" stroke="#000" stroke-width="1.1"/>
<polyline points="408.8,112.4 410.0,129.0 412.8,110.2 415.9,100.3 417.7,108.0 418.8,104.7 420.4,116.9 422.1,105.8 423.9,120.2 425.4,106.9 427.7,130.1 429.9,119.1 431.0,121.3 433.2,109.1 435.0,110.2 436.1,121.3 437.2,111.3 439.4,113.5 442.7,104.7 444.2,114.6 445.4,123.5 447.1,139.0 449.1,112.4 450.4,110.2 452.4,96.9 454.2,118.0 456.4,53.8 458.0,99.2 459.3,90.3 460.8,101.4 463.1,115.8 464.2,108.0 465.3,122.4 466.8,104.7 468.6,131.2 469.7,123.5 470.8,127.9 471.9,118.0 473.0,121.3 474.1,105.8 475.9,125.7 477.4,105.8 479.2,120.2 480.8,99.2 482.3,95.8 484.1,119.1 485.2,110.2 486.7,123.5 488.1,119.1 489.6,127.9 490.7,109.1 492.5,118.0 494.7,105.8 495.6,112.4 496.7,108.0 498.5,120.2 499.6,115.8 501.1,129.0 502.9,119.1 504.0,124.6" fill="none" stroke="#6c1f80" stroke-width="1.3" stroke-linejoin="round"/>
<rect x="403.7" y="38" width="105.1" height="106.7" fill="none" stroke="#000" stroke-width="1.3"/>
<line x1="408.00" y1="144.70" x2="408.00" y2="147.70" stroke="#000" stroke-width="1"/>
<text x="0" y="0" transform="translate(408.00 155.30) scale(1.15 1)" font-size="6.1" text-anchor="middle">−5000</text>
<line x1="432.00" y1="144.70" x2="432.00" y2="147.70" stroke="#000" stroke-width="1"/>
<text x="0" y="0" transform="translate(432.00 155.30) scale(1.15 1)" font-size="6.1" text-anchor="middle">−2500</text>
<line x1="456.00" y1="144.70" x2="456.00" y2="147.70" stroke="#000" stroke-width="1"/>
<text x="0" y="0" transform="translate(456.00 155.30) scale(1.15 1)" font-size="6.1" text-anchor="middle">0</text>
<line x1="480.00" y1="144.70" x2="480.00" y2="147.70" stroke="#000" stroke-width="1"/>
<text x="0" y="0" transform="translate(480.00 155.30) scale(1.15 1)" font-size="6.1" text-anchor="middle">2500</text>
<line x1="504.00" y1="144.70" x2="504.00" y2="147.70" stroke="#000" stroke-width="1"/>
<text x="0" y="0" transform="translate(504.00 155.30) scale(1.15 1)" font-size="6.1" text-anchor="middle">5000</text>
<line x1="400.50" y1="74.50" x2="403.70" y2="74.50" stroke="#000" stroke-width="1"/>
<text x="397.50" y="76.66" font-size="6" text-anchor="end">0.1</text>
<line x1="400.50" y1="114.90" x2="403.70" y2="114.90" stroke="#000" stroke-width="1"/>
<text x="397.50" y="117.06" font-size="6" text-anchor="end">0.0</text>
<text transform="translate(456 165) scale(.707 1)" font-size="8.5" text-anchor="middle" stroke="#000" stroke-width=".15">Distance from CpG (bp)</text>
<text transform="translate(383.6 92.4) rotate(-90) scale(.738 1)" font-size="8.5" text-anchor="middle" stroke="#000" stroke-width=".15">Enrichment score</text>
<rect x="69.4" y="188.4" width="4.5" height="29.6" fill="#757075" stroke="#4c4c4c" stroke-width=".6"/>
<rect x="69.4" y="221.2" width="4.5" height="20.2" fill="#757075" stroke="#4c4c4c" stroke-width=".6"/>
<rect x="69.4" y="243.8" width="4.5" height="11.4" fill="#757075" stroke="#4c4c4c" stroke-width=".6"/>
<rect x="69.4" y="258.0" width="4.5" height="14.8" fill="#757075" stroke="#4c4c4c" stroke-width=".6"/>
<rect x="69.4" y="276.0" width="4.5" height="46.8" fill="#757075" stroke="#4c4c4c" stroke-width=".6"/>
<rect x="74.60" y="188.40" width="207.20" height="29.60" fill="#f3f3f3"/>
<rect x="74.60" y="188.40" width="207.20" height="5.80" fill="#d6d6d6"/>
<path d="M77.0 189.6h4.4l-2.2 3.4z" fill="#3c3c3c"/>
<text x="83.20" y="193.70" font-size="6.4" fill="#2e2e2e" textLength="135.1" lengthAdjust="spacingAndGlyphs">hg19 chr1 25276053..25374563+ [len 98.5kb ]</text>
<rect x="81.7" y="196" width="5.4" height="5.6" fill="#909090" stroke="#555" stroke-width=".4"/>
<text x="82.20" y="201.07" font-size="6.3" fill="#fff" textLength="4.4" lengthAdjust="spacingAndGlyphs">p3</text>
<text x="87.70" y="201.10" font-size="6.4">p</text>
<rect x="94.5" y="196" width="2.9" height="5.6" fill="#bdbdbd" stroke="#555" stroke-width=".4"/>
<text x="98.20" y="201.10" font-size="6.4">p3</text>
<rect x="109.0" y="196" width="8.8" height="5.6" fill="#4a4a4a" stroke="#555" stroke-width=".4"/>
<text x="109.50" y="201.07" font-size="6.3" fill="#fff" textLength="6.3" lengthAdjust="spacingAndGlyphs">p3</text>
<text x="118.60" y="201.10" font-size="6.4">p36</text>
<rect x="128.6" y="196" width="8.8" height="5.6" fill="#909090" stroke="#555" stroke-width=".4"/>
<text x="129.10" y="201.07" font-size="6.3" fill="#fff" textLength="6.3" lengthAdjust="spacingAndGlyphs">p3</text>
<text x="138.40" y="201.10" font-size="6.4" fill="#b03030">p</text>
<text x="142.40" y="201.10" font-size="6.4">36</text>
<rect x="147.2" y="196" width="4.8" height="5.6" fill="#bdbdbd" stroke="#555" stroke-width=".4"/>
<text x="152.50" y="201.10" font-size="6.4">p</text>
<rect x="159.5" y="196" width="5.5" height="5.6" fill="#bdbdbd" stroke="#555" stroke-width=".4"/>
<text x="167.30" y="201.10" font-size="6.4">p34.</text>
<rect x="180.7" y="196" width="9.3" height="5.6" fill="#909090" stroke="#555" stroke-width=".4"/>
<text x="190.80" y="201.10" font-size="6.4">p</text>
<rect x="198.7" y="196" width="9.3" height="5.6" fill="#4a4a4a" stroke="#555" stroke-width=".4"/>
<text x="199.20" y="201.07" font-size="6.3" fill="#fff" textLength="8.3" lengthAdjust="spacingAndGlyphs">p33</text>
<text x="210.00" y="201.10" font-size="6.4">p32.</text>
<rect x="222.5" y="196" width="6.2" height="5.6" fill="#909090" stroke="#555" stroke-width=".4"/>
<text x="229.50" y="201.10" font-size="6.4">p</text>
<rect x="236.0" y="196" width="19.3" height="5.6" fill="#111" stroke="#555" stroke-width=".4"/>
<text x="236.50" y="201.07" font-size="6.3" fill="#fff" textLength="15.8" lengthAdjust="spacingAndGlyphs">p31.3</text>
<rect x="258.0" y="196" width="23.4" height="5.6" fill="#111" stroke="#555" stroke-width=".4"/>
<text x="258.50" y="201.07" font-size="6.3" fill="#fff" textLength="15.8" lengthAdjust="spacingAndGlyphs">p31.1</text>
<path d="M140.2 195.8v6M141.6 196l-1.2 2.8l1.2 2.8" stroke="#b03030" stroke-width=".5" fill="none"/>
<line x1="74.60" y1="207.60" x2="281.80" y2="207.60" stroke="#555" stroke-width="0.5"/>
<line x1="75.92" y1="206.20" x2="75.92" y2="209.00" stroke="#555" stroke-width="0.4"/>
<line x1="82.54" y1="206.20" x2="82.54" y2="209.00" stroke="#555" stroke-width="0.4"/>
<line x1="89.16" y1="206.20" x2="89.16" y2="209.00" stroke="#555" stroke-width="0.4"/>
<line x1="95.78" y1="206.20" x2="95.78" y2="209.00" stroke="#555" stroke-width="0.4"/>
<line x1="102.40" y1="206.20" x2="102.40" y2="209.00" stroke="#555" stroke-width="0.4"/>
<line x1="109.02" y1="206.20" x2="109.02" y2="209.00" stroke="#555" stroke-width="0.4"/>
<line x1="115.64" y1="206.20" x2="115.64" y2="209.00" stroke="#555" stroke-width="0.4"/>
<line x1="122.26" y1="206.20" x2="122.26" y2="209.00" stroke="#555" stroke-width="0.4"/>
<line x1="128.88" y1="206.20" x2="128.88" y2="209.00" stroke="#555" stroke-width="0.4"/>
<line x1="135.50" y1="206.20" x2="135.50" y2="209.00" stroke="#555" stroke-width="0.4"/>
<line x1="142.12" y1="206.20" x2="142.12" y2="209.00" stroke="#555" stroke-width="0.4"/>
<line x1="148.74" y1="206.20" x2="148.74" y2="209.00" stroke="#555" stroke-width="0.4"/>
<line x1="155.36" y1="206.20" x2="155.36" y2="209.00" stroke="#555" stroke-width="0.4"/>
<line x1="161.98" y1="206.20" x2="161.98" y2="209.00" stroke="#555" stroke-width="0.4"/>
<line x1="168.60" y1="206.20" x2="168.60" y2="209.00" stroke="#555" stroke-width="0.4"/>
<line x1="175.22" y1="206.20" x2="175.22" y2="209.00" stroke="#555" stroke-width="0.4"/>
<line x1="181.84" y1="206.20" x2="181.84" y2="209.00" stroke="#555" stroke-width="0.4"/>
<line x1="188.46" y1="206.20" x2="188.46" y2="209.00" stroke="#555" stroke-width="0.4"/>
<line x1="195.08" y1="206.20" x2="195.08" y2="209.00" stroke="#555" stroke-width="0.4"/>
<line x1="201.70" y1="206.20" x2="201.70" y2="209.00" stroke="#555" stroke-width="0.4"/>
<line x1="208.32" y1="206.20" x2="208.32" y2="209.00" stroke="#555" stroke-width="0.4"/>
<line x1="214.94" y1="206.20" x2="214.94" y2="209.00" stroke="#555" stroke-width="0.4"/>
<line x1="221.56" y1="206.20" x2="221.56" y2="209.00" stroke="#555" stroke-width="0.4"/>
<line x1="228.18" y1="206.20" x2="228.18" y2="209.00" stroke="#555" stroke-width="0.4"/>
<line x1="234.80" y1="206.20" x2="234.80" y2="209.00" stroke="#555" stroke-width="0.4"/>
<line x1="241.42" y1="206.20" x2="241.42" y2="209.00" stroke="#555" stroke-width="0.4"/>
<line x1="248.04" y1="206.20" x2="248.04" y2="209.00" stroke="#555" stroke-width="0.4"/>
<line x1="254.66" y1="206.20" x2="254.66" y2="209.00" stroke="#555" stroke-width="0.4"/>
<line x1="261.28" y1="206.20" x2="261.28" y2="209.00" stroke="#555" stroke-width="0.4"/>
<line x1="267.90" y1="206.20" x2="267.90" y2="209.00" stroke="#555" stroke-width="0.4"/>
<line x1="274.52" y1="206.20" x2="274.52" y2="209.00" stroke="#555" stroke-width="0.4"/>
<line x1="281.14" y1="206.20" x2="281.14" y2="209.00" stroke="#555" stroke-width="0.4"/>
<line x1="102.40" y1="204.50" x2="102.40" y2="212.00" stroke="#333" stroke-width="0.7"/>
<text x="102.80" y="217.74" font-size="6.5">25280000</text>
<line x1="168.60" y1="204.50" x2="168.60" y2="212.00" stroke="#333" stroke-width="0.7"/>
<text x="169.00" y="217.74" font-size="6.5">25290000</text>
<line x1="234.80" y1="204.50" x2="234.80" y2="212.00" stroke="#333" stroke-width="0.7"/>
<text x="235.20" y="217.74" font-size="6.5">25300000</text>
<rect x="74.60" y="221.20" width="207.20" height="20.20" fill="#f3f3f3"/>
<rect x="74.60" y="221.20" width="207.20" height="6.20" fill="#d6d6d6"/>
<path d="M77.0 222.5h4.4l-2.2 3.4z" fill="#3c3c3c"/>
<text x="83.20" y="226.70" font-size="6.4" fill="#2e2e2e" textLength="48.8" lengthAdjust="spacingAndGlyphs">Entrez gene hg19</text>
<rect x="76.00" y="230.30" width="205.80" height="2.70" fill="#6a1a78"/>
<rect x="76.00" y="236.80" width="102.70" height="2.70" fill="#6a1a78"/>
<text x="180.50" y="239.93" font-size="6.2">RUNX3</text>
<rect x="74.60" y="243.80" width="207.20" height="11.40" fill="#f3f3f3"/>
<rect x="74.60" y="243.80" width="207.20" height="7.20" fill="#d6d6d6"/>
<path d="M77.0 245.3h4.4l-2.2 3.4z" fill="#3c3c3c"/>
<text x="83.20" y="249.60" font-size="6.4" fill="#2e2e2e" textLength="56.5" lengthAdjust="spacingAndGlyphs">Demethylated Probe</text>
<line x1="175.10" y1="252.20" x2="175.10" y2="255.60" stroke="#111" stroke-width="0.7"/>
<path d="M179.4 254.2h4" stroke="#111" stroke-width=".7" fill="none"/><path d="M178.4 254.2l2.2 -1.5v3z" fill="#111"/>
<text x="185.00" y="257.28" font-size="6.6">cg07236781</text>
<rect x="74.60" y="258.00" width="207.20" height="14.80" fill="#f3f3f3"/>
<rect x="74.60" y="258.00" width="207.20" height="6.60" fill="#d6d6d6"/>
<path d="M77.0 259.3h4.4l-2.2 3.4z" fill="#3c3c3c"/>
<text x="83.20" y="263.60" font-size="6.4" fill="#2e2e2e" textLength="69.2" lengthAdjust="spacingAndGlyphs">RUNX1 Peaks (p&lt;10^5)</text>
<rect x="77.40" y="266.40" width="0.80" height="3.30" fill="#457a40"/>
<rect x="132.40" y="266.40" width="0.90" height="3.30" fill="#457a40"/>
<rect x="138.20" y="266.40" width="4.00" height="3.30" fill="#457a40"/>
<rect x="163.10" y="266.40" width="0.90" height="3.30" fill="#457a40"/>
<rect x="172.10" y="266.40" width="1.10" height="3.30" fill="#457a40"/>
<rect x="177.80" y="266.40" width="1.70" height="3.30" fill="#457a40"/>
<rect x="173.70" y="270.30" width="1.10" height="3.30" fill="#457a40"/>
<rect x="180.90" y="270.30" width="3.30" height="3.30" fill="#457a40"/>
<rect x="74.60" y="276.00" width="207.20" height="46.80" fill="#f5f5f5"/>
<rect x="74.60" y="276.00" width="207.20" height="7.00" fill="#dccdb6"/>
<rect x="74.60" y="321.60" width="207.20" height="1.20" fill="#fff"/>
<path d="M77.0 277.4h4.4l-2.2 3.4z" fill="#3c3c3c"/>
<text x="83.20" y="281.70" font-size="6.4" fill="#2e2e2e" textLength="156.0" lengthAdjust="spacingAndGlyphs">RUNX1 ChIP-seq [rev:0 fwd:1.1 scale:1.10] (mean) tpm</text>
<path d="M76.6 317.0v-8.3M77.2 317.0v-16.7M77.8 317.0v-19.0M78.4 317.0v-9.7M79.0 317.0v-12.0M79.6 317.0v-8.0M80.2 317.0v-6.6M80.8 317.0v-2.6M81.4 317.0v-1.9M82.0 317.0v-5.4M82.6 317.0v-8.0M83.2 317.0v-3.6M83.8 317.0v-3.0M84.4 317.0v-3.8M85.0 317.0v-4.2M85.6 317.0v-5.0M86.2 317.0v-4.7M86.8 317.0v-3.8M87.4 317.0v-2.6M88.0 317.0v-2.0M88.6 317.0v-1.3M89.2 317.0v-2.1M89.8 317.0v-3.0M90.4 317.0v-3.7M91.0 317.0v-4.0M91.6 317.0v-3.5M92.2 317.0v-2.5M92.8 317.0v-2.0M93.4 317.0v-1.4M94.0 317.0v-0.6M94.6 317.0v-1.3M96.4 317.0v-1.6M97.0 317.0v-1.5M98.2 317.0v-1.9M98.8 317.0v-6.7M99.4 317.0v-18.0M100.0 317.0v-12.4M100.6 317.0v-4.7M101.2 317.0v-7.0M101.8 317.0v-3.7M102.4 317.0v-1.5M103.0 317.0v-1.3M104.2 317.0v-0.5M104.8 317.0v-1.9M105.4 317.0v-0.6M106.0 317.0v-1.1M106.6 317.0v-1.5M107.2 317.0v-0.7M107.8 317.0v-1.1M109.0 317.0v-0.5M110.2 317.0v-1.2M110.8 317.0v-1.6M116.8 317.0v-1.5M117.4 317.0v-1.2M118.0 317.0v-1.5M118.6 317.0v-2.5M119.2 317.0v-4.4M119.8 317.0v-5.5M120.4 317.0v-5.0M121.0 317.0v-3.4M121.6 317.0v-2.0M122.2 317.0v-1.3M122.8 317.0v-0.9M124.6 317.0v-0.4M125.8 317.0v-0.6M126.4 317.0v-1.4M128.2 317.0v-1.3M128.8 317.0v-1.0M129.4 317.0v-0.8M130.6 317.0v-1.7M131.2 317.0v-7.5M131.8 317.0v-14.6M132.4 317.0v-18.0M133.0 317.0v-9.1M133.6 317.0v-12.0M134.2 317.0v-9.8M134.8 317.0v-5.7M135.4 317.0v-2.9M136.0 317.0v-1.5M136.6 317.0v-3.5M137.2 317.0v-6.5M137.8 317.0v-9.6M138.4 317.0v-14.0M139.0 317.0v-11.0M139.6 317.0v-25.0M140.2 317.0v-34.0M140.8 317.0v-20.2M141.4 317.0v-13.3M142.0 317.0v-18.0M142.6 317.0v-13.1M143.2 317.0v-7.8M143.8 317.0v-6.0M144.4 317.0v-2.5M145.0 317.0v-0.9M146.2 317.0v-0.9M146.8 317.0v-1.4M147.4 317.0v-1.5M148.0 317.0v-2.4M150.4 317.0v-1.4M152.8 317.0v-0.8M154.0 317.0v-1.9M154.6 317.0v-0.8M155.8 317.0v-0.8M158.2 317.0v-0.8M159.4 317.0v-1.3M161.2 317.0v-1.1M161.8 317.0v-5.4M162.4 317.0v-14.6M163.0 317.0v-14.6M163.6 317.0v-5.4M164.2 317.0v-6.0M164.8 317.0v-3.2M165.4 317.0v-2.4M166.0 317.0v-8.0M166.6 317.0v-8.0M167.2 317.0v-3.0M167.8 317.0v-1.0M169.0 317.0v-1.2M169.6 317.0v-1.4M170.2 317.0v-4.9M170.8 317.0v-8.0M171.4 317.0v-3.9M172.0 317.0v-14.0M172.6 317.0v-14.6M173.2 317.0v-28.0M173.8 317.0v-28.0M174.4 317.0v-14.4M175.0 317.0v-15.0M175.6 317.0v-11.9M176.2 317.0v-7.3M176.8 317.0v-13.0M177.4 317.0v-12.4M178.0 317.0v-27.0M178.6 317.0v-19.5M179.2 317.0v-22.1M179.8 317.0v-28.0M180.4 317.0v-14.8M181.0 317.0v-20.0M181.6 317.0v-27.0M182.2 317.0v-21.2M182.8 317.0v-29.0M183.4 317.0v-14.2M184.0 317.0v-14.0M184.6 317.0v-1.0M185.2 317.0v-1.5M187.6 317.0v-1.1M188.2 317.0v-1.5M190.0 317.0v-1.5M192.4 317.0v-1.3M193.0 317.0v-0.7M193.6 317.0v-1.3M194.8 317.0v-1.6M195.4 317.0v-1.5M196.6 317.0v-1.0M199.6 317.0v-0.5M200.2 317.0v-0.9M203.8 317.0v-1.5M205.0 317.0v-1.2M206.8 317.0v-1.6M207.4 317.0v-1.3M208.0 317.0v-2.2M208.6 317.0v-3.9M209.2 317.0v-5.0M209.8 317.0v-2.7M210.4 317.0v-1.6M211.0 317.0v-2.4M211.6 317.0v-4.2M212.2 317.0v-6.0M212.8 317.0v-3.5M213.4 317.0v-1.3M214.0 317.0v-2.4M214.6 317.0v-3.8M215.2 317.0v-5.0M215.8 317.0v-3.3M216.4 317.0v-1.5M217.0 317.0v-0.5M217.6 317.0v-1.1M218.2 317.0v-4.2M218.8 317.0v-13.0M219.4 317.0v-7.7M220.0 317.0v-2.2M220.6 317.0v-4.9M221.2 317.0v-6.0M221.8 317.0v-3.1M222.4 317.0v-1.2M223.0 317.0v-4.6M223.6 317.0v-10.0M224.2 317.0v-1.9M229.6 317.0v-0.4M232.6 317.0v-0.5M234.4 317.0v-0.7M235.0 317.0v-1.9M235.6 317.0v-3.0M236.2 317.0v-3.5M236.8 317.0v-2.1M237.4 317.0v-1.1M238.0 317.0v-0.4M238.6 317.0v-0.5M239.2 317.0v-1.1M239.8 317.0v-2.3M240.4 317.0v-3.4M241.0 317.0v-4.0M241.6 317.0v-3.2M242.2 317.0v-2.3M242.8 317.0v-1.1M243.4 317.0v-0.4M244.0 317.0v-1.4M244.6 317.0v-2.1M245.2 317.0v-3.0M245.8 317.0v-1.4M246.4 317.0v-0.6M247.0 317.0v-1.0M248.2 317.0v-0.6M248.8 317.0v-1.3M249.4 317.0v-0.6M250.0 317.0v-1.3M252.4 317.0v-1.1M253.6 317.0v-1.5M256.0 317.0v-0.7M256.6 317.0v-1.3M257.2 317.0v-2.3M257.8 317.0v-3.0M258.4 317.0v-2.3M259.0 317.0v-1.9M259.6 317.0v-1.3M260.2 317.0v-1.9M260.8 317.0v-4.0M261.4 317.0v-3.4M262.0 317.0v-1.4M262.6 317.0v-0.4M266.8 317.0v-1.4M267.4 317.0v-1.6M268.0 317.0v-2.5M268.6 317.0v-1.8M269.2 317.0v-0.9M271.6 317.0v-1.1M272.2 317.0v-1.6M272.8 317.0v-1.1M274.0 317.0v-0.9M274.6 317.0v-1.7M275.2 317.0v-2.6M275.8 317.0v-4.0M276.4 317.0v-3.4M277.0 317.0v-2.4M277.6 317.0v-1.3M278.2 317.0v-2.0M278.8 317.0v-6.0M279.4 317.0v-4.5M280.0 317.0v-1.0M280.6 317.0v-2.2M281.2 317.0v-4.0" stroke="#30702b" stroke-width=".8" fill="none"/>
<text x="65.50" y="252.30" font-size="6.4" text-anchor="end">demethylated CpG</text>
<text x="65.50" y="269.90" font-size="6.4" text-anchor="end">ChIP-seq peaks</text>
<text x="65.50" y="306.10" font-size="6.4" text-anchor="end">RUNX1 ChIP-seq</text>
<rect x="293.2" y="188.4" width="4.6" height="29.6" fill="#757075" stroke="#4c4c4c" stroke-width=".6"/>
<rect x="293.2" y="221.2" width="4.6" height="20.2" fill="#757075" stroke="#4c4c4c" stroke-width=".6"/>
<rect x="293.2" y="243.8" width="4.6" height="11.4" fill="#757075" stroke="#4c4c4c" stroke-width=".6"/>
<rect x="293.2" y="258.0" width="4.6" height="12.4" fill="#757075" stroke="#4c4c4c" stroke-width=".6"/>
<rect x="293.2" y="272.6" width="4.6" height="50.0" fill="#757075" stroke="#4c4c4c" stroke-width=".6"/>
<rect x="299.00" y="188.40" width="205.00" height="29.60" fill="#f3f3f3"/>
<rect x="299.00" y="188.40" width="205.00" height="5.80" fill="#d6d6d6"/>
<path d="M300.9 189.6h4.4l-2.2 3.4z" fill="#3c3c3c"/>
<text x="307.00" y="193.70" font-size="6.4" fill="#2e2e2e" textLength="140.5" lengthAdjust="spacingAndGlyphs">hg19 chr12 52468805..52518065+ [len 49.3kb ]</text>
<text x="301.00" y="201.10" font-size="6.4">p13.3</text>
<rect x="316.7" y="196" width="9.3" height="5.6" fill="#909090" stroke="#555" stroke-width=".4"/>
<text x="317.20" y="201.07" font-size="6.3" fill="#fff" textLength="8.3" lengthAdjust="spacingAndGlyphs">p13</text>
<text x="327.50" y="201.10" font-size="6.4">p13.31</text>
<rect x="348.7" y="196" width="13.0" height="5.6" fill="#111" stroke="#555" stroke-width=".4"/>
<text x="349.20" y="201.07" font-size="6.3" fill="#fff" textLength="9.4" lengthAdjust="spacingAndGlyphs">p13</text>
<text x="363.00" y="201.10" font-size="6.4">p1</text>
<rect x="372.5" y="196" width="23.2" height="5.6" fill="#111" stroke="#555" stroke-width=".4"/>
<text x="373.00" y="201.07" font-size="6.3" fill="#fff" textLength="15.8" lengthAdjust="spacingAndGlyphs">p12.3</text>
<text x="398.00" y="201.10" font-size="6.4">p</text>
<rect x="403.0" y="196" width="27.0" height="5.6" fill="#111" stroke="#555" stroke-width=".4"/>
<text x="403.50" y="201.07" font-size="6.3" fill="#fff" textLength="15.8" lengthAdjust="spacingAndGlyphs">p12.1</text>
<text x="432.30" y="201.10" font-size="6.4">p</text>
<rect x="436.0" y="196" width="12.7" height="5.6" fill="#4a4a4a" stroke="#555" stroke-width=".4"/>
<text x="436.50" y="201.07" font-size="6.3" fill="#fff" textLength="11.7" lengthAdjust="spacingAndGlyphs">p11.</text>
<text x="449.20" y="201.10" font-size="6.4">p11.</text>
<rect x="461.0" y="196" width="24.0" height="5.6" fill="#9a2a38" stroke="#555" stroke-width=".4"/>
<text x="461.50" y="201.07" font-size="6.3" fill="#fff" textLength="22.1" lengthAdjust="spacingAndGlyphs">q11.q11</text>
<rect x="485.0" y="196" width="18.8" height="5.6" fill="#111" stroke="#555" stroke-width=".4"/>
<text x="485.50" y="201.07" font-size="6.3" fill="#fff" textLength="9.4" lengthAdjust="spacingAndGlyphs">q12</text>
<line x1="299.00" y1="207.80" x2="504.00" y2="207.80" stroke="#555" stroke-width="0.5"/>
<line x1="302.52" y1="206.30" x2="302.52" y2="209.20" stroke="#555" stroke-width="0.4"/>
<line x1="315.70" y1="206.30" x2="315.70" y2="209.20" stroke="#555" stroke-width="0.4"/>
<line x1="328.88" y1="206.30" x2="328.88" y2="209.20" stroke="#555" stroke-width="0.4"/>
<line x1="342.06" y1="206.30" x2="342.06" y2="209.20" stroke="#555" stroke-width="0.4"/>
<line x1="355.24" y1="206.30" x2="355.24" y2="209.20" stroke="#555" stroke-width="0.4"/>
<line x1="368.42" y1="206.30" x2="368.42" y2="209.20" stroke="#555" stroke-width="0.4"/>
<line x1="381.60" y1="206.30" x2="381.60" y2="209.20" stroke="#555" stroke-width="0.4"/>
<line x1="394.78" y1="206.30" x2="394.78" y2="209.20" stroke="#555" stroke-width="0.4"/>
<line x1="407.96" y1="206.30" x2="407.96" y2="209.20" stroke="#555" stroke-width="0.4"/>
<line x1="421.14" y1="206.30" x2="421.14" y2="209.20" stroke="#555" stroke-width="0.4"/>
<line x1="434.32" y1="206.30" x2="434.32" y2="209.20" stroke="#555" stroke-width="0.4"/>
<line x1="447.50" y1="206.30" x2="447.50" y2="209.20" stroke="#555" stroke-width="0.4"/>
<line x1="460.68" y1="206.30" x2="460.68" y2="209.20" stroke="#555" stroke-width="0.4"/>
<line x1="473.86" y1="206.30" x2="473.86" y2="209.20" stroke="#555" stroke-width="0.4"/>
<line x1="487.04" y1="206.30" x2="487.04" y2="209.20" stroke="#555" stroke-width="0.4"/>
<line x1="500.22" y1="206.30" x2="500.22" y2="209.20" stroke="#555" stroke-width="0.4"/>
<line x1="315.70" y1="204.50" x2="315.70" y2="212.00" stroke="#333" stroke-width="0.7"/>
<text x="316.10" y="217.74" font-size="6.5">52470000</text>
<line x1="447.50" y1="204.50" x2="447.50" y2="212.00" stroke="#333" stroke-width="0.7"/>
<text x="447.90" y="217.74" font-size="6.5">52480000</text>
<rect x="299.00" y="221.20" width="205.00" height="20.20" fill="#f3f3f3"/>
<rect x="299.00" y="221.20" width="205.00" height="6.20" fill="#d6d6d6"/>
<path d="M300.9 222.5h4.4l-2.2 3.4z" fill="#3c3c3c"/>
<text x="307.00" y="226.70" font-size="6.4" fill="#2e2e2e" textLength="49.2" lengthAdjust="spacingAndGlyphs">Entrez gene hg19</text>
<rect x="300.50" y="230.20" width="26.50" height="2.10" fill="#30702b"/>
<path d="M325.6 227.6l7.4 3.6l-7.4 3.6z" fill="#30702b"/>
<text x="334.50" y="233.63" font-size="6.2">ATG101</text>
<text x="370.00" y="240.94" font-size="6.5">LOC100509541</text>
<rect x="417.80" y="236.80" width="86.20" height="2.70" fill="#30702b"/>
<rect x="299.00" y="243.80" width="205.00" height="11.40" fill="#f3f3f3"/>
<rect x="299.00" y="243.80" width="205.00" height="7.20" fill="#d6d6d6"/>
<path d="M300.9 245.3h4.4l-2.2 3.4z" fill="#3c3c3c"/>
<text x="307.00" y="249.60" font-size="6.4" fill="#2e2e2e" textLength="56.6" lengthAdjust="spacingAndGlyphs">Demethylated Probe</text>
<line x1="365.00" y1="252.20" x2="365.00" y2="255.60" stroke="#111" stroke-width="0.7"/>
<path d="M369.4 254.2h3.6" stroke="#111" stroke-width=".7" fill="none"/><path d="M368.4 254.2l2.2 -1.5v3z" fill="#111"/>
<text x="375.40" y="256.93" font-size="6.75">cg03333149</text>
<rect x="299.00" y="258.00" width="205.00" height="12.40" fill="#f3f3f3"/>
<rect x="299.00" y="258.00" width="205.00" height="6.60" fill="#d6d6d6"/>
<path d="M300.9 259.3h4.4l-2.2 3.4z" fill="#3c3c3c"/>
<text x="307.00" y="263.60" font-size="6.4" fill="#2e2e2e" textLength="69.3" lengthAdjust="spacingAndGlyphs">RUNX1 Peaks (p&lt;10^5)</text>
<rect x="361.00" y="266.00" width="5.20" height="4.00" fill="#457a40"/>
<rect x="383.60" y="266.00" width="3.00" height="4.00" fill="#457a40"/>
<rect x="405.90" y="266.00" width="3.30" height="4.00" fill="#457a40"/>
<rect x="299.00" y="272.60" width="205.00" height="50.00" fill="#f5f5f5"/>
<rect x="299.00" y="272.60" width="205.00" height="6.90" fill="#dccdb6"/>
<rect x="299.00" y="321.30" width="205.00" height="1.30" fill="#fff"/>
<path d="M300.9 274.0h4.4l-2.2 3.4z" fill="#3c3c3c"/>
<text x="307.00" y="278.30" font-size="6.4" fill="#2e2e2e" textLength="160.7" lengthAdjust="spacingAndGlyphs">RUNX1 ChIP-seq [rev:0 fwd:0.49 scale:0.49] (mean) tpm</text>
<path d="M301.1 312.8v-1.7M302.3 312.8v-1.4M302.9 312.8v-0.5M304.7 312.8v-0.5M306.5 312.8v-2.1M307.7 312.8v-0.6M308.9 312.8v-1.8M309.5 312.8v-1.1M310.1 312.8v-0.7M311.3 312.8v-1.0M313.1 312.8v-1.6M314.3 312.8v-3.0M316.1 312.8v-2.5M316.7 312.8v-1.4M321.5 312.8v-1.3M323.9 312.8v-1.6M325.1 312.8v-1.6M325.7 312.8v-2.3M326.3 312.8v-1.4M328.1 312.8v-3.2M328.7 312.8v-2.1M329.3 312.8v-1.1M330.5 312.8v-2.2M331.1 312.8v-1.1M332.3 312.8v-0.7M333.5 312.8v-2.6M334.7 312.8v-2.8M337.1 312.8v-1.7M337.7 312.8v-2.0M338.9 312.8v-3.1M339.5 312.8v-1.1M340.1 312.8v-6.0M340.7 312.8v-6.0M341.3 312.8v-2.4M341.9 312.8v-1.2M342.5 312.8v-1.3M343.7 312.8v-1.1M344.9 312.8v-1.9M348.5 312.8v-0.5M349.1 312.8v-1.2M349.7 312.8v-1.3M351.5 312.8v-1.7M353.3 312.8v-1.4M355.7 312.8v-1.2M356.3 312.8v-1.0M356.9 312.8v-1.3M357.5 312.8v-3.4M358.1 312.8v-5.1M358.7 312.8v-10.0M359.3 312.8v-13.0M359.9 312.8v-12.0M360.5 312.8v-13.1M361.1 312.8v-22.0M361.7 312.8v-26.7M362.3 312.8v-33.0M362.9 312.8v-20.8M363.5 312.8v-27.0M364.1 312.8v-27.0M364.7 312.8v-14.4M365.3 312.8v-23.0M365.9 312.8v-27.0M366.5 312.8v-16.5M367.1 312.8v-18.5M367.7 312.8v-21.0M368.3 312.8v-15.5M368.9 312.8v-21.0M369.5 312.8v-21.0M370.1 312.8v-10.9M370.7 312.8v-11.1M371.3 312.8v-15.0M371.9 312.8v-13.0M372.5 312.8v-11.0M373.1 312.8v-7.6M373.7 312.8v-15.0M374.3 312.8v-15.0M374.9 312.8v-7.3M375.5 312.8v-8.4M376.1 312.8v-10.0M376.7 312.8v-6.2M377.3 312.8v-3.1M377.9 312.8v-5.6M378.5 312.8v-8.1M379.1 312.8v-12.0M379.7 312.8v-6.8M380.3 312.8v-4.5M380.9 312.8v-5.4M381.5 312.8v-7.0M382.1 312.8v-5.1M382.7 312.8v-3.1M383.3 312.8v-3.1M383.9 312.8v-6.5M384.5 312.8v-13.0M385.1 312.8v-9.7M385.7 312.8v-10.0M386.3 312.8v-10.0M386.9 312.8v-4.6M387.5 312.8v-8.0M388.1 312.8v-6.4M388.7 312.8v-2.2M389.3 312.8v-1.8M389.9 312.8v-0.7M390.5 312.8v-0.8M391.1 312.8v-1.4M391.7 312.8v-2.1M392.3 312.8v-2.4M392.9 312.8v-3.0M393.5 312.8v-2.7M394.1 312.8v-2.3M394.7 312.8v-1.7M395.3 312.8v-0.9M395.9 312.8v-1.3M397.1 312.8v-1.1M398.9 312.8v-1.5M400.1 312.8v-1.4M401.3 312.8v-2.1M401.9 312.8v-0.7M402.5 312.8v-5.0M403.1 312.8v-5.0M403.7 312.8v-2.5M404.3 312.8v-4.6M404.9 312.8v-7.0M405.5 312.8v-4.8M406.1 312.8v-7.4M406.7 312.8v-13.0M407.3 312.8v-13.0M407.9 312.8v-7.1M408.5 312.8v-8.0M409.1 312.8v-8.0M409.7 312.8v-3.4M410.3 312.8v-4.0M410.9 312.8v-3.0M411.5 312.8v-1.1M412.7 312.8v-1.0M413.3 312.8v-1.0M413.9 312.8v-1.3M415.7 312.8v-0.6M416.3 312.8v-2.2M417.5 312.8v-1.5M418.1 312.8v-2.1M418.7 312.8v-0.6M419.3 312.8v-1.3M419.9 312.8v-1.8M420.5 312.8v-3.0M421.1 312.8v-3.5M421.7 312.8v-2.7M422.3 312.8v-1.5M422.9 312.8v-1.0M423.5 312.8v-1.2M424.1 312.8v-0.6M424.7 312.8v-1.4M427.1 312.8v-3.0M427.7 312.8v-5.0M428.3 312.8v-0.7M430.1 312.8v-1.3M431.3 312.8v-0.8M432.5 312.8v-2.0M433.1 312.8v-2.2M434.3 312.8v-1.3M436.1 312.8v-1.1M436.7 312.8v-2.1M437.3 312.8v-1.9M437.9 312.8v-1.5M438.5 312.8v-0.6M439.1 312.8v-2.0M440.9 312.8v-1.7M441.5 312.8v-1.0M443.9 312.8v-1.0M444.5 312.8v-4.0M445.1 312.8v-1.0M446.9 312.8v-1.6M448.1 312.8v-0.5M448.7 312.8v-1.6M449.3 312.8v-4.9M449.9 312.8v-8.0M450.5 312.8v-6.0M451.1 312.8v-5.3M451.7 312.8v-11.0M452.3 312.8v-11.0M452.9 312.8v-9.7M453.5 312.8v-15.0M454.1 312.8v-4.5M454.7 312.8v-8.0M455.3 312.8v-8.0M455.9 312.8v-4.0M456.5 312.8v-2.2M457.1 312.8v-4.2M457.7 312.8v-6.0M458.3 312.8v-2.8M458.9 312.8v-1.0M459.5 312.8v-2.9M460.1 312.8v-4.0M460.7 312.8v-1.7M461.3 312.8v-0.7M461.9 312.8v-1.4M462.5 312.8v-9.0M463.1 312.8v-1.8M463.7 312.8v-5.0M464.3 312.8v-5.0M464.9 312.8v-1.5M466.1 312.8v-3.3M466.7 312.8v-6.0M467.3 312.8v-0.8M469.7 312.8v-1.8M470.9 312.8v-2.0M472.7 312.8v-0.7M473.9 312.8v-0.8M474.5 312.8v-1.3M475.1 312.8v-1.6M475.7 312.8v-1.4M476.3 312.8v-1.0M476.9 312.8v-1.3M477.5 312.8v-1.7M478.1 312.8v-1.7M478.7 312.8v-2.1M479.3 312.8v-2.2M479.9 312.8v-3.0M480.5 312.8v-2.6M481.1 312.8v-2.0M481.7 312.8v-1.9M482.3 312.8v-1.5M482.9 312.8v-2.2M483.5 312.8v-2.0M484.7 312.8v-1.7M485.9 312.8v-1.0M486.5 312.8v-3.0M487.1 312.8v-5.0M487.7 312.8v-2.6M488.3 312.8v-0.5M489.5 312.8v-0.5M490.1 312.8v-0.9M490.7 312.8v-1.7M491.3 312.8v-3.0M491.9 312.8v-4.0M492.5 312.8v-2.9M493.1 312.8v-2.3M493.7 312.8v-1.5M494.3 312.8v-0.6M494.9 312.8v-2.0M495.5 312.8v-1.9M496.1 312.8v-0.8M496.7 312.8v-1.4M497.3 312.8v-2.3M497.9 312.8v-3.0M498.5 312.8v-2.6M499.1 312.8v-1.6M499.7 312.8v-0.9M500.3 312.8v-0.4M500.9 312.8v-1.5M501.5 312.8v-1.2M502.7 312.8v-1.6M503.3 312.8v-6.0" stroke="#30702b" stroke-width=".8" fill="none"/>
<path d="M51.80 500.00V480.24H54.95V465.42H58.11V465.42H61.26V470.36H64.42V470.36H67.57V490.12H70.72V460.48H73.88V480.24H77.03V460.48H80.19V460.48H83.34V445.66H86.49V450.60H89.65V455.54H92.80V465.42H95.96V455.54H99.11V450.60H102.26V465.42H105.42V480.24H108.57V460.48H111.73V485.18H114.88V450.60H118.03V465.42H121.19V475.30H124.34V450.60H127.50V371.56H130.65V386.38H133.80V420.96H136.96V386.38H140.11V445.66H143.27V470.36H146.42V440.72H149.57V430.84H152.73V470.36H155.88V475.30H159.04V470.36H162.19V450.60H165.34V495.06H168.50V480.24H171.65V480.24H174.81V480.24H177.96V490.12H181.11V475.30H184.27V470.36H187.42V470.36H190.58V475.30H193.73V495.06H196.88V495.06H200.04V450.60H203.19V475.30H206.35V480.24H209.50V500.00Z" fill="#dbb6d9"/>
<path d="M51.80 500.00V490.12H54.95V480.24H58.11V470.36H61.26V485.18H64.42V480.24H67.57V465.42H70.72V475.30H73.88V495.06H77.03V475.30H80.19V475.30H83.34V490.12H86.49V470.36H89.65V475.30H92.80V465.42H95.96V485.18H99.11V465.42H102.26V485.18H105.42V480.24H108.57V475.30H111.73V480.24H114.88V475.30H118.03V450.60H121.19V475.30H124.34V460.48H127.50V455.54H130.65V425.90H133.80V445.66H136.96V445.66H140.11V445.66H143.27V470.36H146.42V475.30H149.57V470.36H152.73V460.48H155.88V460.48H159.04V475.30H162.19V475.30H165.34V485.18H168.50V480.24H171.65V475.30H174.81V460.48H177.96V485.18H181.11V470.36H184.27V465.42H187.42V490.12H190.58V495.06H193.73V465.42H196.88V465.42H200.04V495.06H203.19V485.18H206.35V480.24H209.50V500.00Z" fill="#a7add7"/>
<path d="M51.80 500.00V490.12H54.95V480.24H58.11V470.36H61.26V485.18H64.42V480.24H67.57V490.12H70.72V475.30H73.88V495.06H77.03V475.30H80.19V475.30H83.34V490.12H86.49V470.36H89.65V475.30H92.80V465.42H95.96V485.18H99.11V465.42H102.26V485.18H105.42V480.24H108.57V475.30H111.73V485.18H114.88V475.30H118.03V465.42H121.19V475.30H124.34V460.48H127.50V455.54H130.65V425.90H133.80V445.66H136.96V445.66H140.11V445.66H143.27V470.36H146.42V475.30H149.57V470.36H152.73V470.36H155.88V475.30H159.04V475.30H162.19V475.30H165.34V495.06H168.50V480.24H171.65V480.24H174.81V480.24H177.96V490.12H181.11V475.30H184.27V470.36H187.42V490.12H190.58V495.06H193.73V495.06H196.88V495.06H200.04V495.06H203.19V485.18H206.35V480.24H209.50V500.00Z" fill="#9985c0"/>
<line x1="45.10" y1="374.80" x2="45.10" y2="500.30" stroke="#000" stroke-width="1.1"/>
<line x1="42.00" y1="500.00" x2="45.10" y2="500.00" stroke="#000" stroke-width="1"/>
<text x="39.50" y="502.16" font-size="6" text-anchor="end">0</text>
<line x1="42.00" y1="475.30" x2="45.10" y2="475.30" stroke="#000" stroke-width="1"/>
<text x="39.50" y="477.46" font-size="6" text-anchor="end">5</text>
<line x1="42.00" y1="450.60" x2="45.10" y2="450.60" stroke="#000" stroke-width="1"/>
<text x="39.50" y="452.76" font-size="6" text-anchor="end">10</text>
<line x1="42.00" y1="425.90" x2="45.10" y2="425.90" stroke="#000" stroke-width="1"/>
<text x="39.50" y="428.06" font-size="6" text-anchor="end">15</text>
<line x1="42.00" y1="401.20" x2="45.10" y2="401.20" stroke="#000" stroke-width="1"/>
<text x="39.50" y="403.36" font-size="6" text-anchor="end">20</text>
<line x1="42.00" y1="376.50" x2="45.10" y2="376.50" stroke="#000" stroke-width="1"/>
<text x="39.50" y="378.66" font-size="6" text-anchor="end">25</text>
<line x1="66.60" y1="505.00" x2="194.20" y2="505.00" stroke="#000" stroke-width="1.1"/>
<line x1="66.60" y1="505.00" x2="66.60" y2="508.00" stroke="#000" stroke-width="1"/>
<text x="0" y="0" transform="translate(66.60 516.32) scale(1.1 1)" font-size="5.9" text-anchor="middle">−4000</text>
<line x1="98.50" y1="505.00" x2="98.50" y2="508.00" stroke="#000" stroke-width="1"/>
<text x="0" y="0" transform="translate(98.50 516.32) scale(1.1 1)" font-size="5.9" text-anchor="middle">−2000</text>
<line x1="130.40" y1="505.00" x2="130.40" y2="508.00" stroke="#000" stroke-width="1"/>
<text x="0" y="0" transform="translate(130.40 516.32) scale(1.1 1)" font-size="5.9" text-anchor="middle">0</text>
<line x1="162.30" y1="505.00" x2="162.30" y2="508.00" stroke="#000" stroke-width="1"/>
<text x="0" y="0" transform="translate(162.30 516.32) scale(1.1 1)" font-size="5.9" text-anchor="middle">2000</text>
<line x1="194.20" y1="505.00" x2="194.20" y2="508.00" stroke="#000" stroke-width="1"/>
<text x="0" y="0" transform="translate(194.20 516.32) scale(1.1 1)" font-size="5.9" text-anchor="middle">4000</text>
<text transform="translate(130.5 526.5) scale(.717 1)" font-size="8.5" text-anchor="middle" stroke="#000" stroke-width=".15">Distance from CpG (bp)</text>
<text transform="translate(25.8 438.4) rotate(-90) scale(.673 1)" font-size="8.5" text-anchor="middle" stroke="#000" stroke-width=".15">Frequency</text>
<rect x="148.00" y="369.20" width="2.80" height="5.00" fill="#dbb6d9"/>
<text x="153.00" y="373.92" font-size="5.9">demethylated CpG</text>
<rect x="148.00" y="379.00" width="2.80" height="5.00" fill="#a7add7"/>
<text x="153.00" y="383.89" font-size="5.8">randomly selected probe</text>
<text x="318.20" y="360.30" font-size="6.4" text-anchor="middle" font-weight="bold">PTPN22</text>
<text x="420.00" y="361.00" font-size="6.4" text-anchor="middle" font-weight="bold">RUNX3</text>
<text x="308.50" y="371.16" font-size="6">cg00041401</text>
<line x1="323.60" y1="372.00" x2="323.60" y2="378.00" stroke="#000" stroke-width="0.6" stroke-dasharray="1.2 .8"/>
<text x="284.00" y="408.46" font-size="6" text-anchor="end">293T-mock</text>
<text x="283.00" y="484.16" font-size="6" text-anchor="end">293T-RUNX1</text>
<path d="M287.0 379.50H349.8M287.0 382.51H349.8M287.0 385.53H349.8M287.0 388.54H349.8M287.0 391.56H349.8M287.0 394.57H349.8M287.0 397.59H349.8M287.0 400.60H349.8M287.0 403.61H349.8M287.0 406.63H349.8M287.0 409.64H349.8M287.0 412.66H349.8M287.0 415.67H349.8M287.0 418.69H349.8M287.0 421.70H349.8M287.0 424.71H349.8M287.0 427.73H349.8M287.0 430.74H349.8M287.0 433.76H349.8M287.0 436.77H349.8M287.0 439.79H349.8M287.0 442.80H349.8" stroke="#111" stroke-width=".5" fill="none"/>
<circle cx="305.6" cy="379.50" r="0.93" fill="#fff" stroke="#333" stroke-width=".4"/>
<circle cx="305.6" cy="382.51" r="0.93" fill="#fff" stroke="#333" stroke-width=".4"/>
<circle cx="305.6" cy="385.53" r="1.08" fill="#000"/>
<circle cx="305.6" cy="388.54" r="1.08" fill="#000"/>
<circle cx="305.6" cy="391.56" r="1.08" fill="#000"/>
<circle cx="305.6" cy="394.57" r="1.08" fill="#000"/>
<circle cx="305.6" cy="397.59" r="1.08" fill="#000"/>
<circle cx="305.6" cy="400.60" r="1.08" fill="#000"/>
<circle cx="305.6" cy="403.61" r="1.08" fill="#000"/>
<circle cx="305.6" cy="406.63" r="1.08" fill="#000"/>
<circle cx="305.6" cy="409.64" r="1.08" fill="#000"/>
<circle cx="305.6" cy="412.66" r="1.08" fill="#000"/>
<circle cx="305.6" cy="415.67" r="1.08" fill="#000"/>
<circle cx="305.6" cy="418.69" r="1.08" fill="#000"/>
<circle cx="305.6" cy="421.70" r="1.08" fill="#000"/>
<circle cx="305.6" cy="424.71" r="1.08" fill="#000"/>
<circle cx="305.6" cy="427.73" r="1.08" fill="#000"/>
<circle cx="305.6" cy="430.74" r="1.08" fill="#000"/>
<circle cx="305.6" cy="433.76" r="1.08" fill="#000"/>
<circle cx="305.6" cy="436.77" r="1.08" fill="#000"/>
<circle cx="305.6" cy="439.79" r="1.08" fill="#000"/>
<circle cx="305.6" cy="442.80" r="1.08" fill="#000"/>
<circle cx="311.5" cy="379.50" r="0.93" fill="#fff" stroke="#333" stroke-width=".4"/>
<circle cx="311.5" cy="382.51" r="0.93" fill="#fff" stroke="#333" stroke-width=".4"/>
<circle cx="311.5" cy="385.53" r="1.08" fill="#000"/>
<circle cx="311.5" cy="388.54" r="1.08" fill="#000"/>
<circle cx="311.5" cy="391.56" r="1.08" fill="#000"/>
<circle cx="311.5" cy="394.57" r="1.08" fill="#000"/>
<circle cx="311.5" cy="397.59" r="1.08" fill="#000"/>
<circle cx="311.5" cy="400.60" r="1.08" fill="#000"/>
<circle cx="311.5" cy="403.61" r="1.08" fill="#000"/>
<circle cx="311.5" cy="406.63" r="1.08" fill="#000"/>
<circle cx="311.5" cy="409.64" r="1.08" fill="#000"/>
<circle cx="311.5" cy="412.66" r="1.08" fill="#000"/>
<circle cx="311.5" cy="415.67" r="1.08" fill="#000"/>
<circle cx="311.5" cy="418.69" r="1.08" fill="#000"/>
<circle cx="311.5" cy="421.70" r="1.08" fill="#000"/>
<circle cx="311.5" cy="424.71" r="1.08" fill="#000"/>
<circle cx="311.5" cy="427.73" r="1.08" fill="#000"/>
<circle cx="311.5" cy="430.74" r="1.08" fill="#000"/>
<circle cx="311.5" cy="433.76" r="1.08" fill="#000"/>
<circle cx="311.5" cy="436.77" r="1.08" fill="#000"/>
<circle cx="311.5" cy="439.79" r="1.08" fill="#000"/>
<circle cx="311.5" cy="442.80" r="1.08" fill="#000"/>
<circle cx="323.6" cy="379.50" r="1.08" fill="#000"/>
<circle cx="323.6" cy="382.51" r="1.08" fill="#000"/>
<circle cx="323.6" cy="385.53" r="0.93" fill="#fff" stroke="#333" stroke-width=".4"/>
<circle cx="323.6" cy="388.54" r="0.93" fill="#fff" stroke="#333" stroke-width=".4"/>
<circle cx="323.6" cy="391.56" r="0.93" fill="#fff" stroke="#333" stroke-width=".4"/>
<circle cx="323.6" cy="394.57" r="0.93" fill="#fff" stroke="#333" stroke-width=".4"/>
<circle cx="323.6" cy="397.59" r="1.08" fill="#000"/>
<circle cx="323.6" cy="400.60" r="1.08" fill="#000"/>
<circle cx="323.6" cy="403.61" r="1.08" fill="#000"/>
<circle cx="323.6" cy="406.63" r="1.08" fill="#000"/>
<circle cx="323.6" cy="409.64" r="1.08" fill="#000"/>
<circle cx="323.6" cy="412.66" r="1.08" fill="#000"/>
<circle cx="323.6" cy="415.67" r="1.08" fill="#000"/>
<circle cx="323.6" cy="418.69" r="1.08" fill="#000"/>
<circle cx="323.6" cy="421.70" r="1.08" fill="#000"/>
<circle cx="323.6" cy="424.71" r="1.08" fill="#000"/>
<circle cx="323.6" cy="427.73" r="1.08" fill="#000"/>
<circle cx="323.6" cy="430.74" r="1.08" fill="#000"/>
<circle cx="323.6" cy="433.76" r="1.08" fill="#000"/>
<circle cx="323.6" cy="436.77" r="1.08" fill="#000"/>
<circle cx="323.6" cy="439.79" r="1.08" fill="#000"/>
<circle cx="323.6" cy="442.80" r="1.08" fill="#000"/>
<circle cx="344" cy="379.50" r="1.08" fill="#000"/>
<circle cx="344" cy="382.51" r="1.08" fill="#000"/>
<circle cx="344" cy="385.53" r="0.93" fill="#fff" stroke="#333" stroke-width=".4"/>
<circle cx="344" cy="388.54" r="0.93" fill="#fff" stroke="#333" stroke-width=".4"/>
<circle cx="344" cy="391.56" r="1.08" fill="#000"/>
<circle cx="344" cy="394.57" r="1.08" fill="#000"/>
<circle cx="344" cy="397.59" r="0.93" fill="#fff" stroke="#333" stroke-width=".4"/>
<circle cx="344" cy="400.60" r="0.93" fill="#fff" stroke="#333" stroke-width=".4"/>
<circle cx="344" cy="403.61" r="1.08" fill="#000"/>
<circle cx="344" cy="406.63" r="1.08" fill="#000"/>
<circle cx="344" cy="409.64" r="1.08" fill="#000"/>
<circle cx="344" cy="412.66" r="1.08" fill="#000"/>
<circle cx="344" cy="415.67" r="1.08" fill="#000"/>
<circle cx="344" cy="418.69" r="1.08" fill="#000"/>
<circle cx="344" cy="421.70" r="1.08" fill="#000"/>
<circle cx="344" cy="424.71" r="1.08" fill="#000"/>
<circle cx="344" cy="427.73" r="1.08" fill="#000"/>
<circle cx="344" cy="430.74" r="1.08" fill="#000"/>
<circle cx="344" cy="433.76" r="1.08" fill="#000"/>
<circle cx="344" cy="436.77" r="1.08" fill="#000"/>
<circle cx="344" cy="439.79" r="1.08" fill="#000"/>
<circle cx="344" cy="442.80" r="1.08" fill="#000"/>
<text x="352.70" y="440.16" font-size="6">86.3%</text>
<path d="M287.0 452.60H349.8M287.0 455.67H349.8M287.0 458.73H349.8M287.0 461.80H349.8M287.0 464.87H349.8M287.0 467.93H349.8M287.0 471.00H349.8M287.0 474.07H349.8M287.0 477.13H349.8M287.0 480.20H349.8M287.0 483.27H349.8M287.0 486.33H349.8M287.0 489.40H349.8M287.0 492.47H349.8M287.0 495.53H349.8M287.0 498.60H349.8M287.0 501.67H349.8M287.0 504.73H349.8M287.0 507.80H349.8M287.0 510.87H349.8M287.0 513.93H349.8M287.0 517.00H349.8" stroke="#111" stroke-width=".5" fill="none"/>
<circle cx="305.6" cy="452.60" r="0.93" fill="#fff" stroke="#333" stroke-width=".4"/>
<circle cx="305.6" cy="455.67" r="0.93" fill="#fff" stroke="#333" stroke-width=".4"/>
<circle cx="305.6" cy="458.73" r="0.93" fill="#fff" stroke="#333" stroke-width=".4"/>
<circle cx="305.6" cy="461.80" r="0.93" fill="#fff" stroke="#333" stroke-width=".4"/>
<circle cx="305.6" cy="464.87" r="0.93" fill="#fff" stroke="#333" stroke-width=".4"/>
<circle cx="305.6" cy="467.93" r="0.93" fill="#fff" stroke="#333" stroke-width=".4"/>
<circle cx="305.6" cy="471.00" r="0.93" fill="#fff" stroke="#333" stroke-width=".4"/>
<circle cx="305.6" cy="474.07" r="0.93" fill="#fff" stroke="#333" stroke-width=".4"/>
<circle cx="305.6" cy="477.13" r="0.93" fill="#fff" stroke="#333" stroke-width=".4"/>
<circle cx="305.6" cy="480.20" r="0.93" fill="#fff" stroke="#333" stroke-width=".4"/>
<circle cx="305.6" cy="483.27" r="0.93" fill="#fff" stroke="#333" stroke-width=".4"/>
<circle cx="305.6" cy="486.33" r="0.93" fill="#fff" stroke="#333" stroke-width=".4"/>
<circle cx="305.6" cy="489.40" r="0.93" fill="#fff" stroke="#333" stroke-width=".4"/>
<circle cx="305.6" cy="492.47" r="0.93" fill="#fff" stroke="#333" stroke-width=".4"/>
<circle cx="305.6" cy="495.53" r="1.08" fill="#000"/>
<circle cx="305.6" cy="498.60" r="1.08" fill="#000"/>
<circle cx="305.6" cy="501.67" r="1.08" fill="#000"/>
<circle cx="305.6" cy="504.73" r="1.08" fill="#000"/>
<circle cx="305.6" cy="507.80" r="0.93" fill="#fff" stroke="#333" stroke-width=".4"/>
<circle cx="305.6" cy="510.87" r="0.93" fill="#fff" stroke="#333" stroke-width=".4"/>
<circle cx="305.6" cy="513.93" r="1.08" fill="#000"/>
<circle cx="305.6" cy="517.00" r="1.08" fill="#000"/>
<circle cx="311.5" cy="452.60" r="0.93" fill="#fff" stroke="#333" stroke-width=".4"/>
<circle cx="311.5" cy="455.67" r="0.93" fill="#fff" stroke="#333" stroke-width=".4"/>
<circle cx="311.5" cy="458.73" r="0.93" fill="#fff" stroke="#333" stroke-width=".4"/>
<circle cx="311.5" cy="461.80" r="0.93" fill="#fff" stroke="#333" stroke-width=".4"/>
<circle cx="311.5" cy="464.87" r="0.93" fill="#fff" stroke="#333" stroke-width=".4"/>
<circle cx="311.5" cy="467.93" r="0.93" fill="#fff" stroke="#333" stroke-width=".4"/>
<circle cx="311.5" cy="471.00" r="0.93" fill="#fff" stroke="#333" stroke-width=".4"/>
<circle cx="311.5" cy="474.07" r="0.93" fill="#fff" stroke="#333" stroke-width=".4"/>
<circle cx="311.5" cy="477.13" r="0.93" fill="#fff" stroke="#333" stroke-width=".4"/>
<circle cx="311.5" cy="480.20" r="0.93" fill="#fff" stroke="#333" stroke-width=".4"/>
<circle cx="311.5" cy="483.27" r="0.93" fill="#fff" stroke="#333" stroke-width=".4"/>
<circle cx="311.5" cy="486.33" r="0.93" fill="#fff" stroke="#333" stroke-width=".4"/>
<circle cx="311.5" cy="489.40" r="0.93" fill="#fff" stroke="#333" stroke-width=".4"/>
<circle cx="311.5" cy="492.47" r="1.08" fill="#000"/>
<circle cx="311.5" cy="495.53" r="0.93" fill="#fff" stroke="#333" stroke-width=".4"/>
<circle cx="311.5" cy="498.60" r="0.93" fill="#fff" stroke="#333" stroke-width=".4"/>
<circle cx="311.5" cy="501.67" r="0.93" fill="#fff" stroke="#333" stroke-width=".4"/>
<circle cx="311.5" cy="504.73" r="0.93" fill="#fff" stroke="#333" stroke-width=".4"/>
<circle cx="311.5" cy="507.80" r="0.93" fill="#fff" stroke="#333" stroke-width=".4"/>
<circle cx="311.5" cy="510.87" r="1.08" fill="#000"/>
<circle cx="311.5" cy="513.93" r="0.93" fill="#fff" stroke="#333" stroke-width=".4"/>
<circle cx="311.5" cy="517.00" r="1.08" fill="#000"/>
<circle cx="323.6" cy="452.60" r="0.93" fill="#fff" stroke="#333" stroke-width=".4"/>
<circle cx="323.6" cy="455.67" r="0.93" fill="#fff" stroke="#333" stroke-width=".4"/>
<circle cx="323.6" cy="458.73" r="0.93" fill="#fff" stroke="#333" stroke-width=".4"/>
<circle cx="323.6" cy="461.80" r="0.93" fill="#fff" stroke="#333" stroke-width=".4"/>
<circle cx="323.6" cy="464.87" r="0.93" fill="#fff" stroke="#333" stroke-width=".4"/>
<circle cx="323.6" cy="467.93" r="0.93" fill="#fff" stroke="#333" stroke-width=".4"/>
<circle cx="323.6" cy="471.00" r="0.93" fill="#fff" stroke="#333" stroke-width=".4"/>
<circle cx="323.6" cy="474.07" r="0.93" fill="#fff" stroke="#333" stroke-width=".4"/>
<circle cx="323.6" cy="477.13" r="0.93" fill="#fff" stroke="#333" stroke-width=".4"/>
<circle cx="323.6" cy="480.20" r="0.93" fill="#fff" stroke="#333" stroke-width=".4"/>
<circle cx="323.6" cy="483.27" r="0.93" fill="#fff" stroke="#333" stroke-width=".4"/>
<circle cx="323.6" cy="486.33" r="0.93" fill="#fff" stroke="#333" stroke-width=".4"/>
<circle cx="323.6" cy="489.40" r="0.93" fill="#fff" stroke="#333" stroke-width=".4"/>
<circle cx="323.6" cy="492.47" r="0.93" fill="#fff" stroke="#333" stroke-width=".4"/>
<circle cx="323.6" cy="495.53" r="0.93" fill="#fff" stroke="#333" stroke-width=".4"/>
<circle cx="323.6" cy="498.60" r="0.93" fill="#fff" stroke="#333" stroke-width=".4"/>
<circle cx="323.6" cy="501.67" r="0.93" fill="#fff" stroke="#333" stroke-width=".4"/>
<circle cx="323.6" cy="504.73" r="0.93" fill="#fff" stroke="#333" stroke-width=".4"/>
<circle cx="323.6" cy="507.80" r="1.08" fill="#000"/>
<circle cx="323.6" cy="510.87" r="1.08" fill="#000"/>
<circle cx="323.6" cy="513.93" r="1.08" fill="#000"/>
<circle cx="323.6" cy="517.00" r="1.08" fill="#000"/>
<circle cx="344" cy="452.60" r="0.93" fill="#fff" stroke="#333" stroke-width=".4"/>
<circle cx="344" cy="455.67" r="0.93" fill="#fff" stroke="#333" stroke-width=".4"/>
<circle cx="344" cy="458.73" r="0.93" fill="#fff" stroke="#333" stroke-width=".4"/>
<circle cx="344" cy="461.80" r="1.08" fill="#000"/>
<circle cx="344" cy="464.87" r="1.08" fill="#000"/>
<circle cx="344" cy="467.93" r="1.08" fill="#000"/>
<circle cx="344" cy="471.00" r="1.08" fill="#000"/>
<circle cx="344" cy="474.07" r="1.08" fill="#000"/>
<circle cx="344" cy="477.13" r="1.08" fill="#000"/>
<circle cx="344" cy="480.20" r="1.08" fill="#000"/>
<circle cx="344" cy="483.27" r="1.08" fill="#000"/>
<circle cx="344" cy="486.33" r="1.08" fill="#000"/>
<circle cx="344" cy="489.40" r="1.08" fill="#000"/>
<circle cx="344" cy="492.47" r="1.08" fill="#000"/>
<circle cx="344" cy="495.53" r="1.08" fill="#000"/>
<circle cx="344" cy="498.60" r="1.08" fill="#000"/>
<circle cx="344" cy="501.67" r="1.08" fill="#000"/>
<circle cx="344" cy="504.73" r="1.08" fill="#000"/>
<circle cx="344" cy="507.80" r="1.08" fill="#000"/>
<circle cx="344" cy="510.87" r="1.08" fill="#000"/>
<circle cx="344" cy="513.93" r="1.08" fill="#000"/>
<circle cx="344" cy="517.00" r="1.08" fill="#000"/>
<line x1="305.60" y1="447.00" x2="305.60" y2="450.60" stroke="#000" stroke-width="0.6" stroke-dasharray="1.2 .6"/>
<line x1="311.50" y1="447.00" x2="311.50" y2="450.60" stroke="#000" stroke-width="0.6" stroke-dasharray="1.2 .6"/>
<line x1="323.60" y1="447.00" x2="323.60" y2="450.60" stroke="#000" stroke-width="0.6" stroke-dasharray="1.2 .6"/>
<text x="332.5" y="523.4" font-size="6">36.4% (p&lt;10<tspan font-size="4" dy="-2.2">-11</tspan><tspan dy="2.2">)</tspan></text>
<text x="357.50" y="369.66" font-size="6">cg07236781</text>
<line x1="375.70" y1="370.30" x2="375.70" y2="377.60" stroke="#000" stroke-width="0.6" stroke-dasharray="1.2 .7"/>
<path d="M375.7 376.3H391.2M375.7 376.3l1.5 -1M375.7 376.3l1.5 1" stroke="#000" stroke-width=".5" fill="none"/>
<line x1="391.30" y1="370.50" x2="391.30" y2="378.50" stroke="#000" stroke-width="0.6"/>
<text x="379.50" y="375.36" font-size="6">302 bp</text>
<path d="M383.7 379.70H456.3M383.7 382.72H456.3M383.7 385.75H456.3M383.7 388.77H456.3M383.7 391.80H456.3M383.7 394.82H456.3M383.7 397.85H456.3M383.7 400.88H456.3M383.7 403.90H456.3M383.7 406.93H456.3M383.7 409.95H456.3M383.7 412.98H456.3M383.7 416.00H456.3M383.7 419.03H456.3M383.7 422.05H456.3M383.7 425.08H456.3M383.7 428.10H456.3" stroke="#111" stroke-width=".5" fill="none"/>
<circle cx="391.4" cy="379.70" r="0.93" fill="#fff" stroke="#333" stroke-width=".4"/>
<circle cx="391.4" cy="382.72" r="0.93" fill="#fff" stroke="#333" stroke-width=".4"/>
<circle cx="391.4" cy="385.75" r="1.08" fill="#000"/>
<circle cx="391.4" cy="388.77" r="1.08" fill="#000"/>
<circle cx="391.4" cy="391.80" r="1.08" fill="#000"/>
<circle cx="391.4" cy="394.82" r="1.08" fill="#000"/>
<circle cx="391.4" cy="397.85" r="1.08" fill="#000"/>
<circle cx="391.4" cy="400.88" r="1.08" fill="#000"/>
<circle cx="391.4" cy="403.90" r="1.08" fill="#000"/>
<circle cx="391.4" cy="406.93" r="1.08" fill="#000"/>
<circle cx="391.4" cy="409.95" r="1.08" fill="#000"/>
<circle cx="391.4" cy="412.98" r="1.08" fill="#000"/>
<circle cx="391.4" cy="416.00" r="1.08" fill="#000"/>
<circle cx="391.4" cy="419.03" r="1.08" fill="#000"/>
<circle cx="391.4" cy="422.05" r="1.08" fill="#000"/>
<circle cx="391.4" cy="425.08" r="1.08" fill="#000"/>
<circle cx="391.4" cy="428.10" r="1.08" fill="#000"/>
<circle cx="399.4" cy="379.70" r="1.08" fill="#000"/>
<circle cx="399.4" cy="382.72" r="1.08" fill="#000"/>
<circle cx="399.4" cy="385.75" r="1.08" fill="#000"/>
<circle cx="399.4" cy="388.77" r="0.93" fill="#fff" stroke="#333" stroke-width=".4"/>
<circle cx="399.4" cy="391.80" r="0.93" fill="#fff" stroke="#333" stroke-width=".4"/>
<circle cx="399.4" cy="394.82" r="1.08" fill="#000"/>
<circle cx="399.4" cy="397.85" r="1.08" fill="#000"/>
<circle cx="399.4" cy="400.88" r="1.08" fill="#000"/>
<circle cx="399.4" cy="403.90" r="1.08" fill="#000"/>
<circle cx="399.4" cy="406.93" r="1.08" fill="#000"/>
<circle cx="399.4" cy="409.95" r="1.08" fill="#000"/>
<circle cx="399.4" cy="412.98" r="1.08" fill="#000"/>
<circle cx="399.4" cy="416.00" r="1.08" fill="#000"/>
<circle cx="399.4" cy="419.03" r="1.08" fill="#000"/>
<circle cx="399.4" cy="422.05" r="1.08" fill="#000"/>
<circle cx="399.4" cy="425.08" r="1.08" fill="#000"/>
<circle cx="399.4" cy="428.10" r="1.08" fill="#000"/>
<circle cx="405" cy="379.70" r="1.08" fill="#000"/>
<circle cx="405" cy="382.72" r="1.08" fill="#000"/>
<circle cx="405" cy="385.75" r="1.08" fill="#000"/>
<circle cx="405" cy="388.77" r="1.08" fill="#000"/>
<circle cx="405" cy="391.80" r="1.08" fill="#000"/>
<circle cx="405" cy="394.82" r="1.08" fill="#000"/>
<circle cx="405" cy="397.85" r="1.08" fill="#000"/>
<circle cx="405" cy="400.88" r="1.08" fill="#000"/>
<circle cx="405" cy="403.90" r="1.08" fill="#000"/>
<circle cx="405" cy="406.93" r="1.08" fill="#000"/>
<circle cx="405" cy="409.95" r="1.08" fill="#000"/>
<circle cx="405" cy="412.98" r="1.08" fill="#000"/>
<circle cx="405" cy="416.00" r="1.08" fill="#000"/>
<circle cx="405" cy="419.03" r="1.08" fill="#000"/>
<circle cx="405" cy="422.05" r="1.08" fill="#000"/>
<circle cx="405" cy="425.08" r="1.08" fill="#000"/>
<circle cx="405" cy="428.10" r="1.08" fill="#000"/>
<circle cx="408.2" cy="379.70" r="1.08" fill="#000"/>
<circle cx="408.2" cy="382.72" r="1.08" fill="#000"/>
<circle cx="408.2" cy="385.75" r="1.08" fill="#000"/>
<circle cx="408.2" cy="388.77" r="1.08" fill="#000"/>
<circle cx="408.2" cy="391.80" r="1.08" fill="#000"/>
<circle cx="408.2" cy="394.82" r="1.08" fill="#000"/>
<circle cx="408.2" cy="397.85" r="1.08" fill="#000"/>
<circle cx="408.2" cy="400.88" r="1.08" fill="#000"/>
<circle cx="408.2" cy="403.90" r="1.08" fill="#000"/>
<circle cx="408.2" cy="406.93" r="1.08" fill="#000"/>
<circle cx="408.2" cy="409.95" r="1.08" fill="#000"/>
<circle cx="408.2" cy="412.98" r="1.08" fill="#000"/>
<circle cx="408.2" cy="416.00" r="1.08" fill="#000"/>
<circle cx="408.2" cy="419.03" r="1.08" fill="#000"/>
<circle cx="408.2" cy="422.05" r="1.08" fill="#000"/>
<circle cx="408.2" cy="425.08" r="1.08" fill="#000"/>
<circle cx="408.2" cy="428.10" r="1.08" fill="#000"/>
<circle cx="414.2" cy="379.70" r="0.93" fill="#fff" stroke="#333" stroke-width=".4"/>
<circle cx="414.2" cy="382.72" r="1.08" fill="#000"/>
<circle cx="414.2" cy="385.75" r="1.08" fill="#000"/>
<circle cx="414.2" cy="388.77" r="1.08" fill="#000"/>
<circle cx="414.2" cy="391.80" r="1.08" fill="#000"/>
<circle cx="414.2" cy="394.82" r="0.93" fill="#fff" stroke="#333" stroke-width=".4"/>
<circle cx="414.2" cy="397.85" r="1.08" fill="#000"/>
<circle cx="414.2" cy="400.88" r="1.08" fill="#000"/>
<circle cx="414.2" cy="403.90" r="1.08" fill="#000"/>
<circle cx="414.2" cy="406.93" r="1.08" fill="#000"/>
<circle cx="414.2" cy="409.95" r="1.08" fill="#000"/>
<circle cx="414.2" cy="412.98" r="1.08" fill="#000"/>
<circle cx="414.2" cy="416.00" r="1.08" fill="#000"/>
<circle cx="414.2" cy="419.03" r="1.08" fill="#000"/>
<circle cx="414.2" cy="422.05" r="1.08" fill="#000"/>
<circle cx="414.2" cy="425.08" r="1.08" fill="#000"/>
<circle cx="414.2" cy="428.10" r="1.08" fill="#000"/>
<circle cx="419.6" cy="379.70" r="1.08" fill="#000"/>
<circle cx="419.6" cy="382.72" r="1.08" fill="#000"/>
<circle cx="419.6" cy="385.75" r="1.08" fill="#000"/>
<circle cx="419.6" cy="388.77" r="1.08" fill="#000"/>
<circle cx="419.6" cy="391.80" r="1.08" fill="#000"/>
<circle cx="419.6" cy="394.82" r="1.08" fill="#000"/>
<circle cx="419.6" cy="397.85" r="1.08" fill="#000"/>
<circle cx="419.6" cy="400.88" r="1.08" fill="#000"/>
<circle cx="419.6" cy="403.90" r="1.08" fill="#000"/>
<circle cx="419.6" cy="406.93" r="1.08" fill="#000"/>
<circle cx="419.6" cy="409.95" r="1.08" fill="#000"/>
<circle cx="419.6" cy="412.98" r="1.08" fill="#000"/>
<circle cx="419.6" cy="416.00" r="1.08" fill="#000"/>
<circle cx="419.6" cy="419.03" r="1.08" fill="#000"/>
<circle cx="419.6" cy="422.05" r="1.08" fill="#000"/>
<circle cx="419.6" cy="425.08" r="1.08" fill="#000"/>
<circle cx="419.6" cy="428.10" r="1.08" fill="#000"/>
<circle cx="422.8" cy="379.70" r="1.08" fill="#000"/>
<circle cx="422.8" cy="382.72" r="1.08" fill="#000"/>
<circle cx="422.8" cy="385.75" r="1.08" fill="#000"/>
<circle cx="422.8" cy="388.77" r="1.08" fill="#000"/>
<circle cx="422.8" cy="391.80" r="1.08" fill="#000"/>
<circle cx="422.8" cy="394.82" r="1.08" fill="#000"/>
<circle cx="422.8" cy="397.85" r="0.93" fill="#fff" stroke="#333" stroke-width=".4"/>
<circle cx="422.8" cy="400.88" r="0.93" fill="#fff" stroke="#333" stroke-width=".4"/>
<circle cx="422.8" cy="403.90" r="1.08" fill="#000"/>
<circle cx="422.8" cy="406.93" r="1.08" fill="#000"/>
<circle cx="422.8" cy="409.95" r="1.08" fill="#000"/>
<circle cx="422.8" cy="412.98" r="1.08" fill="#000"/>
<circle cx="422.8" cy="416.00" r="1.08" fill="#000"/>
<circle cx="422.8" cy="419.03" r="1.08" fill="#000"/>
<circle cx="422.8" cy="422.05" r="1.08" fill="#000"/>
<circle cx="422.8" cy="425.08" r="1.08" fill="#000"/>
<circle cx="422.8" cy="428.10" r="1.08" fill="#000"/>
<circle cx="433.3" cy="379.70" r="1.08" fill="#000"/>
<circle cx="433.3" cy="382.72" r="1.08" fill="#000"/>
<circle cx="433.3" cy="385.75" r="1.08" fill="#000"/>
<circle cx="433.3" cy="388.77" r="1.08" fill="#000"/>
<circle cx="433.3" cy="391.80" r="1.08" fill="#000"/>
<circle cx="433.3" cy="394.82" r="1.08" fill="#000"/>
<circle cx="433.3" cy="397.85" r="1.08" fill="#000"/>
<circle cx="433.3" cy="400.88" r="1.08" fill="#000"/>
<circle cx="433.3" cy="403.90" r="0.93" fill="#fff" stroke="#333" stroke-width=".4"/>
<circle cx="433.3" cy="406.93" r="1.08" fill="#000"/>
<circle cx="433.3" cy="409.95" r="1.08" fill="#000"/>
<circle cx="433.3" cy="412.98" r="1.08" fill="#000"/>
<circle cx="433.3" cy="416.00" r="1.08" fill="#000"/>
<circle cx="433.3" cy="419.03" r="1.08" fill="#000"/>
<circle cx="433.3" cy="422.05" r="1.08" fill="#000"/>
<circle cx="433.3" cy="425.08" r="1.08" fill="#000"/>
<circle cx="433.3" cy="428.10" r="1.08" fill="#000"/>
<circle cx="435.5" cy="379.70" r="1.08" fill="#000"/>
<circle cx="435.5" cy="382.72" r="1.08" fill="#000"/>
<circle cx="435.5" cy="385.75" r="1.08" fill="#000"/>
<circle cx="435.5" cy="388.77" r="1.08" fill="#000"/>
<circle cx="435.5" cy="391.80" r="1.08" fill="#000"/>
<circle cx="435.5" cy="394.82" r="1.08" fill="#000"/>
<circle cx="435.5" cy="397.85" r="1.08" fill="#000"/>
<circle cx="435.5" cy="400.88" r="1.08" fill="#000"/>
<circle cx="435.5" cy="403.90" r="1.08" fill="#000"/>
<circle cx="435.5" cy="406.93" r="1.08" fill="#000"/>
<circle cx="435.5" cy="409.95" r="1.08" fill="#000"/>
<circle cx="435.5" cy="412.98" r="1.08" fill="#000"/>
<circle cx="435.5" cy="416.00" r="1.08" fill="#000"/>
<circle cx="435.5" cy="419.03" r="1.08" fill="#000"/>
<circle cx="435.5" cy="422.05" r="1.08" fill="#000"/>
<circle cx="435.5" cy="425.08" r="1.08" fill="#000"/>
<circle cx="435.5" cy="428.10" r="1.08" fill="#000"/>
<circle cx="437.8" cy="379.70" r="1.08" fill="#000"/>
<circle cx="437.8" cy="382.72" r="1.08" fill="#000"/>
<circle cx="437.8" cy="385.75" r="1.08" fill="#000"/>
<circle cx="437.8" cy="388.77" r="1.08" fill="#000"/>
<circle cx="437.8" cy="391.80" r="1.08" fill="#000"/>
<circle cx="437.8" cy="394.82" r="1.08" fill="#000"/>
<circle cx="437.8" cy="397.85" r="1.08" fill="#000"/>
<circle cx="437.8" cy="400.88" r="1.08" fill="#000"/>
<circle cx="437.8" cy="403.90" r="1.08" fill="#000"/>
<circle cx="437.8" cy="406.93" r="1.08" fill="#000"/>
<circle cx="437.8" cy="409.95" r="1.08" fill="#000"/>
<circle cx="437.8" cy="412.98" r="1.08" fill="#000"/>
<circle cx="437.8" cy="416.00" r="1.08" fill="#000"/>
<circle cx="437.8" cy="419.03" r="1.08" fill="#000"/>
<circle cx="437.8" cy="422.05" r="1.08" fill="#000"/>
<circle cx="437.8" cy="425.08" r="1.08" fill="#000"/>
<circle cx="437.8" cy="428.10" r="1.08" fill="#000"/>
<circle cx="445.3" cy="379.70" r="1.08" fill="#000"/>
<circle cx="445.3" cy="382.72" r="1.08" fill="#000"/>
<circle cx="445.3" cy="385.75" r="1.08" fill="#000"/>
<circle cx="445.3" cy="388.77" r="1.08" fill="#000"/>
<circle cx="445.3" cy="391.80" r="1.08" fill="#000"/>
<circle cx="445.3" cy="394.82" r="1.08" fill="#000"/>
<circle cx="445.3" cy="397.85" r="1.08" fill="#000"/>
<circle cx="445.3" cy="400.88" r="1.08" fill="#000"/>
<circle cx="445.3" cy="403.90" r="1.08" fill="#000"/>
<circle cx="445.3" cy="406.93" r="1.08" fill="#000"/>
<circle cx="445.3" cy="409.95" r="1.08" fill="#000"/>
<circle cx="445.3" cy="412.98" r="1.08" fill="#000"/>
<circle cx="445.3" cy="416.00" r="1.08" fill="#000"/>
<circle cx="445.3" cy="419.03" r="1.08" fill="#000"/>
<circle cx="445.3" cy="422.05" r="1.08" fill="#000"/>
<circle cx="445.3" cy="425.08" r="1.08" fill="#000"/>
<circle cx="445.3" cy="428.10" r="1.08" fill="#000"/>
<circle cx="447.6" cy="379.70" r="1.08" fill="#000"/>
<circle cx="447.6" cy="382.72" r="1.08" fill="#000"/>
<circle cx="447.6" cy="385.75" r="1.08" fill="#000"/>
<circle cx="447.6" cy="388.77" r="1.08" fill="#000"/>
<circle cx="447.6" cy="391.80" r="1.08" fill="#000"/>
<circle cx="447.6" cy="394.82" r="1.08" fill="#000"/>
<circle cx="447.6" cy="397.85" r="1.08" fill="#000"/>
<circle cx="447.6" cy="400.88" r="1.08" fill="#000"/>
<circle cx="447.6" cy="403.90" r="1.08" fill="#000"/>
<circle cx="447.6" cy="406.93" r="1.08" fill="#000"/>
<circle cx="447.6" cy="409.95" r="1.08" fill="#000"/>
<circle cx="447.6" cy="412.98" r="1.08" fill="#000"/>
<circle cx="447.6" cy="416.00" r="1.08" fill="#000"/>
<circle cx="447.6" cy="419.03" r="1.08" fill="#000"/>
<circle cx="447.6" cy="422.05" r="1.08" fill="#000"/>
<circle cx="447.6" cy="425.08" r="1.08" fill="#000"/>
<circle cx="447.6" cy="428.10" r="1.08" fill="#000"/>
<circle cx="450.8" cy="379.70" r="1.08" fill="#000"/>
<circle cx="450.8" cy="382.72" r="0.93" fill="#fff" stroke="#333" stroke-width=".4"/>
<circle cx="450.8" cy="385.75" r="0.93" fill="#fff" stroke="#333" stroke-width=".4"/>
<circle cx="450.8" cy="388.77" r="1.08" fill="#000"/>
<circle cx="450.8" cy="391.80" r="1.08" fill="#000"/>
<circle cx="450.8" cy="394.82" r="1.08" fill="#000"/>
<circle cx="450.8" cy="397.85" r="1.08" fill="#000"/>
<circle cx="450.8" cy="400.88" r="1.08" fill="#000"/>
<circle cx="450.8" cy="403.90" r="0.93" fill="#fff" stroke="#333" stroke-width=".4"/>
<circle cx="450.8" cy="406.93" r="0.93" fill="#fff" stroke="#333" stroke-width=".4"/>
<circle cx="450.8" cy="409.95" r="1.08" fill="#000"/>
<circle cx="450.8" cy="412.98" r="1.08" fill="#000"/>
<circle cx="450.8" cy="416.00" r="1.08" fill="#000"/>
<circle cx="450.8" cy="419.03" r="1.08" fill="#000"/>
<circle cx="450.8" cy="422.05" r="1.08" fill="#000"/>
<circle cx="450.8" cy="425.08" r="1.08" fill="#000"/>
<circle cx="450.8" cy="428.10" r="1.08" fill="#000"/>
<text x="458.00" y="427.36" font-size="6">94.1%</text>
<path d="M383.7 452.50H456.3M383.7 455.55H456.3M383.7 458.61H456.3M383.7 461.66H456.3M383.7 464.71H456.3M383.7 467.76H456.3M383.7 470.82H456.3M383.7 473.87H456.3M383.7 476.92H456.3M383.7 479.98H456.3M383.7 483.03H456.3M383.7 486.08H456.3M383.7 489.14H456.3M383.7 492.19H456.3M383.7 495.24H456.3M383.7 498.29H456.3M383.7 501.35H456.3M383.7 504.40H456.3" stroke="#111" stroke-width=".5" fill="none"/>
<circle cx="391.4" cy="452.50" r="0.93" fill="#fff" stroke="#333" stroke-width=".4"/>
<circle cx="391.4" cy="455.55" r="0.93" fill="#fff" stroke="#333" stroke-width=".4"/>
<circle cx="391.4" cy="458.61" r="0.93" fill="#fff" stroke="#333" stroke-width=".4"/>
<circle cx="391.4" cy="461.66" r="0.93" fill="#fff" stroke="#333" stroke-width=".4"/>
<circle cx="391.4" cy="464.71" r="0.93" fill="#fff" stroke="#333" stroke-width=".4"/>
<circle cx="391.4" cy="467.76" r="1.08" fill="#000"/>
<circle cx="391.4" cy="470.82" r="0.93" fill="#fff" stroke="#333" stroke-width=".4"/>
<circle cx="391.4" cy="473.87" r="0.93" fill="#fff" stroke="#333" stroke-width=".4"/>
<circle cx="391.4" cy="476.92" r="0.93" fill="#fff" stroke="#333" stroke-width=".4"/>
<circle cx="391.4" cy="479.98" r="1.08" fill="#000"/>
<circle cx="391.4" cy="483.03" r="1.08" fill="#000"/>
<circle cx="391.4" cy="486.08" r="1.08" fill="#000"/>
<circle cx="391.4" cy="489.14" r="1.08" fill="#000"/>
<circle cx="391.4" cy="492.19" r="1.08" fill="#000"/>
<circle cx="391.4" cy="495.24" r="1.08" fill="#000"/>
<circle cx="391.4" cy="498.29" r="1.08" fill="#000"/>
<circle cx="391.4" cy="501.35" r="1.08" fill="#000"/>
<circle cx="391.4" cy="504.40" r="1.08" fill="#000"/>
<circle cx="399.4" cy="452.50" r="0.93" fill="#fff" stroke="#333" stroke-width=".4"/>
<circle cx="399.4" cy="455.55" r="0.93" fill="#fff" stroke="#333" stroke-width=".4"/>
<circle cx="399.4" cy="458.61" r="0.93" fill="#fff" stroke="#333" stroke-width=".4"/>
<circle cx="399.4" cy="461.66" r="0.93" fill="#fff" stroke="#333" stroke-width=".4"/>
<circle cx="399.4" cy="464.71" r="0.93" fill="#fff" stroke="#333" stroke-width=".4"/>
<circle cx="399.4" cy="467.76" r="0.93" fill="#fff" stroke="#333" stroke-width=".4"/>
<circle cx="399.4" cy="470.82" r="0.93" fill="#fff" stroke="#333" stroke-width=".4"/>
<circle cx="399.4" cy="473.87" r="0.93" fill="#fff" stroke="#333" stroke-width=".4"/>
<circle cx="399.4" cy="476.92" r="1.08" fill="#000"/>
<circle cx="399.4" cy="479.98" r="1.08" fill="#000"/>
<circle cx="399.4" cy="483.03" r="1.08" fill="#000"/>
<circle cx="399.4" cy="486.08" r="1.08" fill="#000"/>
<circle cx="399.4" cy="489.14" r="1.08" fill="#000"/>
<circle cx="399.4" cy="492.19" r="1.08" fill="#000"/>
<circle cx="399.4" cy="495.24" r="1.08" fill="#000"/>
<circle cx="399.4" cy="498.29" r="1.08" fill="#000"/>
<circle cx="399.4" cy="501.35" r="1.08" fill="#000"/>
<circle cx="399.4" cy="504.40" r="1.08" fill="#000"/>
<circle cx="405" cy="452.50" r="0.93" fill="#fff" stroke="#333" stroke-width=".4"/>
<circle cx="405" cy="455.55" r="0.93" fill="#fff" stroke="#333" stroke-width=".4"/>
<circle cx="405" cy="458.61" r="0.93" fill="#fff" stroke="#333" stroke-width=".4"/>
<circle cx="405" cy="461.66" r="0.93" fill="#fff" stroke="#333" stroke-width=".4"/>
<circle cx="405" cy="464.71" r="0.93" fill="#fff" stroke="#333" stroke-width=".4"/>
<circle cx="405" cy="467.76" r="0.93" fill="#fff" stroke="#333" stroke-width=".4"/>
<circle cx="405" cy="470.82" r="0.93" fill="#fff" stroke="#333" stroke-width=".4"/>
<circle cx="405" cy="473.87" r="0.93" fill="#fff" stroke="#333" stroke-width=".4"/>
<circle cx="405" cy="476.92" r="1.08" fill="#000"/>
<circle cx="405" cy="479.98" r="1.08" fill="#000"/>
<circle cx="405" cy="483.03" r="1.08" fill="#000"/>
<circle cx="405" cy="486.08" r="1.08" fill="#000"/>
<circle cx="405" cy="489.14" r="1.08" fill="#000"/>
<circle cx="405" cy="492.19" r="1.08" fill="#000"/>
<circle cx="405" cy="495.24" r="1.08" fill="#000"/>
<circle cx="405" cy="498.29" r="1.08" fill="#000"/>
<circle cx="405" cy="501.35" r="1.08" fill="#000"/>
<circle cx="405" cy="504.40" r="1.08" fill="#000"/>
<circle cx="408.2" cy="452.50" r="0.93" fill="#fff" stroke="#333" stroke-width=".4"/>
<circle cx="408.2" cy="455.55" r="0.93" fill="#fff" stroke="#333" stroke-width=".4"/>
<circle cx="408.2" cy="458.61" r="0.93" fill="#fff" stroke="#333" stroke-width=".4"/>
<circle cx="408.2" cy="461.66" r="1.08" fill="#000"/>
<circle cx="408.2" cy="464.71" r="1.08" fill="#000"/>
<circle cx="408.2" cy="467.76" r="0.93" fill="#fff" stroke="#333" stroke-width=".4"/>
<circle cx="408.2" cy="470.82" r="0.93" fill="#fff" stroke="#333" stroke-width=".4"/>
<circle cx="408.2" cy="473.87" r="0.93" fill="#fff" stroke="#333" stroke-width=".4"/>
<circle cx="408.2" cy="476.92" r="1.08" fill="#000"/>
<circle cx="408.2" cy="479.98" r="1.08" fill="#000"/>
<circle cx="408.2" cy="483.03" r="1.08" fill="#000"/>
<circle cx="408.2" cy="486.08" r="1.08" fill="#000"/>
<circle cx="408.2" cy="489.14" r="1.08" fill="#000"/>
<circle cx="408.2" cy="492.19" r="1.08" fill="#000"/>
<circle cx="408.2" cy="495.24" r="1.08" fill="#000"/>
<circle cx="408.2" cy="498.29" r="1.08" fill="#000"/>
<circle cx="408.2" cy="501.35" r="1.08" fill="#000"/>
<circle cx="408.2" cy="504.40" r="1.08" fill="#000"/>
<circle cx="414.2" cy="452.50" r="0.93" fill="#fff" stroke="#333" stroke-width=".4"/>
<circle cx="414.2" cy="455.55" r="0.93" fill="#fff" stroke="#333" stroke-width=".4"/>
<circle cx="414.2" cy="458.61" r="0.93" fill="#fff" stroke="#333" stroke-width=".4"/>
<circle cx="414.2" cy="461.66" r="0.93" fill="#fff" stroke="#333" stroke-width=".4"/>
<circle cx="414.2" cy="464.71" r="0.93" fill="#fff" stroke="#333" stroke-width=".4"/>
<circle cx="414.2" cy="467.76" r="0.93" fill="#fff" stroke="#333" stroke-width=".4"/>
<circle cx="414.2" cy="470.82" r="0.93" fill="#fff" stroke="#333" stroke-width=".4"/>
<circle cx="414.2" cy="473.87" r="0.93" fill="#fff" stroke="#333" stroke-width=".4"/>
<circle cx="414.2" cy="476.92" r="1.08" fill="#000"/>
<circle cx="414.2" cy="479.98" r="1.08" fill="#000"/>
<circle cx="414.2" cy="483.03" r="1.08" fill="#000"/>
<circle cx="414.2" cy="486.08" r="1.08" fill="#000"/>
<circle cx="414.2" cy="489.14" r="1.08" fill="#000"/>
<circle cx="414.2" cy="492.19" r="1.08" fill="#000"/>
<circle cx="414.2" cy="495.24" r="1.08" fill="#000"/>
<circle cx="414.2" cy="498.29" r="1.08" fill="#000"/>
<circle cx="414.2" cy="501.35" r="1.08" fill="#000"/>
<circle cx="414.2" cy="504.40" r="1.08" fill="#000"/>
<circle cx="419.6" cy="452.50" r="0.93" fill="#fff" stroke="#333" stroke-width=".4"/>
<circle cx="419.6" cy="455.55" r="0.93" fill="#fff" stroke="#333" stroke-width=".4"/>
<circle cx="419.6" cy="458.61" r="0.93" fill="#fff" stroke="#333" stroke-width=".4"/>
<circle cx="419.6" cy="461.66" r="0.93" fill="#fff" stroke="#333" stroke-width=".4"/>
<circle cx="419.6" cy="464.71" r="1.08" fill="#000"/>
<circle cx="419.6" cy="467.76" r="1.08" fill="#000"/>
<circle cx="419.6" cy="470.82" r="1.08" fill="#000"/>
<circle cx="419.6" cy="473.87" r="0.93" fill="#fff" stroke="#333" stroke-width=".4"/>
<circle cx="419.6" cy="476.92" r="0.93" fill="#fff" stroke="#333" stroke-width=".4"/>
<circle cx="419.6" cy="479.98" r="1.08" fill="#000"/>
<circle cx="419.6" cy="483.03" r="1.08" fill="#000"/>
<circle cx="419.6" cy="486.08" r="1.08" fill="#000"/>
<circle cx="419.6" cy="489.14" r="1.08" fill="#000"/>
<circle cx="419.6" cy="492.19" r="1.08" fill="#000"/>
<circle cx="419.6" cy="495.24" r="1.08" fill="#000"/>
<circle cx="419.6" cy="498.29" r="1.08" fill="#000"/>
<circle cx="419.6" cy="501.35" r="1.08" fill="#000"/>
<circle cx="419.6" cy="504.40" r="1.08" fill="#000"/>
<circle cx="422.8" cy="452.50" r="0.93" fill="#fff" stroke="#333" stroke-width=".4"/>
<circle cx="422.8" cy="455.55" r="0.93" fill="#fff" stroke="#333" stroke-width=".4"/>
<circle cx="422.8" cy="458.61" r="1.08" fill="#000"/>
<circle cx="422.8" cy="461.66" r="0.93" fill="#fff" stroke="#333" stroke-width=".4"/>
<circle cx="422.8" cy="464.71" r="0.93" fill="#fff" stroke="#333" stroke-width=".4"/>
<circle cx="422.8" cy="467.76" r="0.93" fill="#fff" stroke="#333" stroke-width=".4"/>
<circle cx="422.8" cy="470.82" r="0.93" fill="#fff" stroke="#333" stroke-width=".4"/>
<circle cx="422.8" cy="473.87" r="1.08" fill="#000"/>
<circle cx="422.8" cy="476.92" r="1.08" fill="#000"/>
<circle cx="422.8" cy="479.98" r="1.08" fill="#000"/>
<circle cx="422.8" cy="483.03" r="1.08" fill="#000"/>
<circle cx="422.8" cy="486.08" r="1.08" fill="#000"/>
<circle cx="422.8" cy="489.14" r="1.08" fill="#000"/>
<circle cx="422.8" cy="492.19" r="1.08" fill="#000"/>
<circle cx="422.8" cy="495.24" r="1.08" fill="#000"/>
<circle cx="422.8" cy="498.29" r="1.08" fill="#000"/>
<circle cx="422.8" cy="501.35" r="1.08" fill="#000"/>
<circle cx="422.8" cy="504.40" r="1.08" fill="#000"/>
<circle cx="433.3" cy="452.50" r="0.93" fill="#fff" stroke="#333" stroke-width=".4"/>
<circle cx="433.3" cy="455.55" r="0.93" fill="#fff" stroke="#333" stroke-width=".4"/>
<circle cx="433.3" cy="458.61" r="0.93" fill="#fff" stroke="#333" stroke-width=".4"/>
<circle cx="433.3" cy="461.66" r="0.93" fill="#fff" stroke="#333" stroke-width=".4"/>
<circle cx="433.3" cy="464.71" r="0.93" fill="#fff" stroke="#333" stroke-width=".4"/>
<circle cx="433.3" cy="467.76" r="0.93" fill="#fff" stroke="#333" stroke-width=".4"/>
<circle cx="433.3" cy="470.82" r="1.08" fill="#000"/>
<circle cx="433.3" cy="473.87" r="1.08" fill="#000"/>
<circle cx="433.3" cy="476.92" r="1.08" fill="#000"/>
<circle cx="433.3" cy="479.98" r="1.08" fill="#000"/>
<circle cx="433.3" cy="483.03" r="1.08" fill="#000"/>
<circle cx="433.3" cy="486.08" r="1.08" fill="#000"/>
<circle cx="433.3" cy="489.14" r="1.08" fill="#000"/>
<circle cx="433.3" cy="492.19" r="1.08" fill="#000"/>
<circle cx="433.3" cy="495.24" r="1.08" fill="#000"/>
<circle cx="433.3" cy="498.29" r="1.08" fill="#000"/>
<circle cx="433.3" cy="501.35" r="1.08" fill="#000"/>
<circle cx="433.3" cy="504.40" r="1.08" fill="#000"/>
<circle cx="435.5" cy="452.50" r="0.93" fill="#fff" stroke="#333" stroke-width=".4"/>
<circle cx="435.5" cy="455.55" r="0.93" fill="#fff" stroke="#333" stroke-width=".4"/>
<circle cx="435.5" cy="458.61" r="0.93" fill="#fff" stroke="#333" stroke-width=".4"/>
<circle cx="435.5" cy="461.66" r="0.93" fill="#fff" stroke="#333" stroke-width=".4"/>
<circle cx="435.5" cy="464.71" r="0.93" fill="#fff" stroke="#333" stroke-width=".4"/>
<circle cx="435.5" cy="467.76" r="0.93" fill="#fff" stroke="#333" stroke-width=".4"/>
<circle cx="435.5" cy="470.82" r="1.08" fill="#000"/>
<circle cx="435.5" cy="473.87" r="1.08" fill="#000"/>
<circle cx="435.5" cy="476.92" r="1.08" fill="#000"/>
<circle cx="435.5" cy="479.98" r="1.08" fill="#000"/>
<circle cx="435.5" cy="483.03" r="1.08" fill="#000"/>
<circle cx="435.5" cy="486.08" r="1.08" fill="#000"/>
<circle cx="435.5" cy="489.14" r="1.08" fill="#000"/>
<circle cx="435.5" cy="492.19" r="1.08" fill="#000"/>
<circle cx="435.5" cy="495.24" r="1.08" fill="#000"/>
<circle cx="435.5" cy="498.29" r="1.08" fill="#000"/>
<circle cx="435.5" cy="501.35" r="1.08" fill="#000"/>
<circle cx="435.5" cy="504.40" r="1.08" fill="#000"/>
<circle cx="437.8" cy="452.50" r="0.93" fill="#fff" stroke="#333" stroke-width=".4"/>
<circle cx="437.8" cy="455.55" r="0.93" fill="#fff" stroke="#333" stroke-width=".4"/>
<circle cx="437.8" cy="458.61" r="0.93" fill="#fff" stroke="#333" stroke-width=".4"/>
<circle cx="437.8" cy="461.66" r="1.08" fill="#000"/>
<circle cx="437.8" cy="464.71" r="0.93" fill="#fff" stroke="#333" stroke-width=".4"/>
<circle cx="437.8" cy="467.76" r="0.93" fill="#fff" stroke="#333" stroke-width=".4"/>
<circle cx="437.8" cy="470.82" r="1.08" fill="#000"/>
<circle cx="437.8" cy="473.87" r="1.08" fill="#000"/>
<circle cx="437.8" cy="476.92" r="1.08" fill="#000"/>
<circle cx="437.8" cy="479.98" r="1.08" fill="#000"/>
<circle cx="437.8" cy="483.03" r="1.08" fill="#000"/>
<circle cx="437.8" cy="486.08" r="1.08" fill="#000"/>
<circle cx="437.8" cy="489.14" r="1.08" fill="#000"/>
<circle cx="437.8" cy="492.19" r="1.08" fill="#000"/>
<circle cx="437.8" cy="495.24" r="1.08" fill="#000"/>
<circle cx="437.8" cy="498.29" r="1.08" fill="#000"/>
<circle cx="437.8" cy="501.35" r="1.08" fill="#000"/>
<circle cx="437.8" cy="504.40" r="1.08" fill="#000"/>
<circle cx="445.3" cy="452.50" r="0.93" fill="#fff" stroke="#333" stroke-width=".4"/>
<circle cx="445.3" cy="455.55" r="0.93" fill="#fff" stroke="#333" stroke-width=".4"/>
<circle cx="445.3" cy="458.61" r="0.93" fill="#fff" stroke="#333" stroke-width=".4"/>
<circle cx="445.3" cy="461.66" r="0.93" fill="#fff" stroke="#333" stroke-width=".4"/>
<circle cx="445.3" cy="464.71" r="0.93" fill="#fff" stroke="#333" stroke-width=".4"/>
<circle cx="445.3" cy="467.76" r="0.93" fill="#fff" stroke="#333" stroke-width=".4"/>
<circle cx="445.3" cy="470.82" r="1.08" fill="#000"/>
<circle cx="445.3" cy="473.87" r="1.08" fill="#000"/>
<circle cx="445.3" cy="476.92" r="1.08" fill="#000"/>
<circle cx="445.3" cy="479.98" r="1.08" fill="#000"/>
<circle cx="445.3" cy="483.03" r="1.08" fill="#000"/>
<circle cx="445.3" cy="486.08" r="1.08" fill="#000"/>
<circle cx="445.3" cy="489.14" r="1.08" fill="#000"/>
<circle cx="445.3" cy="492.19" r="1.08" fill="#000"/>
<circle cx="445.3" cy="495.24" r="1.08" fill="#000"/>
<circle cx="445.3" cy="498.29" r="1.08" fill="#000"/>
<circle cx="445.3" cy="501.35" r="1.08" fill="#000"/>
<circle cx="445.3" cy="504.40" r="1.08" fill="#000"/>
<circle cx="447.6" cy="452.50" r="0.93" fill="#fff" stroke="#333" stroke-width=".4"/>
<circle cx="447.6" cy="455.55" r="0.93" fill="#fff" stroke="#333" stroke-width=".4"/>
<circle cx="447.6" cy="458.61" r="0.93" fill="#fff" stroke="#333" stroke-width=".4"/>
<circle cx="447.6" cy="461.66" r="0.93" fill="#fff" stroke="#333" stroke-width=".4"/>
<circle cx="447.6" cy="464.71" r="0.93" fill="#fff" stroke="#333" stroke-width=".4"/>
<circle cx="447.6" cy="467.76" r="0.93" fill="#fff" stroke="#333" stroke-width=".4"/>
<circle cx="447.6" cy="470.82" r="1.08" fill="#000"/>
<circle cx="447.6" cy="473.87" r="1.08" fill="#000"/>
<circle cx="447.6" cy="476.92" r="1.08" fill="#000"/>
<circle cx="447.6" cy="479.98" r="1.08" fill="#000"/>
<circle cx="447.6" cy="483.03" r="1.08" fill="#000"/>
<circle cx="447.6" cy="486.08" r="1.08" fill="#000"/>
<circle cx="447.6" cy="489.14" r="1.08" fill="#000"/>
<circle cx="447.6" cy="492.19" r="1.08" fill="#000"/>
<circle cx="447.6" cy="495.24" r="1.08" fill="#000"/>
<circle cx="447.6" cy="498.29" r="1.08" fill="#000"/>
<circle cx="447.6" cy="501.35" r="1.08" fill="#000"/>
<circle cx="447.6" cy="504.40" r="1.08" fill="#000"/>
<circle cx="450.8" cy="452.50" r="0.93" fill="#fff" stroke="#333" stroke-width=".4"/>
<circle cx="450.8" cy="455.55" r="0.93" fill="#fff" stroke="#333" stroke-width=".4"/>
<circle cx="450.8" cy="458.61" r="0.93" fill="#fff" stroke="#333" stroke-width=".4"/>
<circle cx="450.8" cy="461.66" r="0.93" fill="#fff" stroke="#333" stroke-width=".4"/>
<circle cx="450.8" cy="464.71" r="0.93" fill="#fff" stroke="#333" stroke-width=".4"/>
<circle cx="450.8" cy="467.76" r="0.93" fill="#fff" stroke="#333" stroke-width=".4"/>
<circle cx="450.8" cy="470.82" r="1.08" fill="#000"/>
<circle cx="450.8" cy="473.87" r="1.08" fill="#000"/>
<circle cx="450.8" cy="476.92" r="1.08" fill="#000"/>
<circle cx="450.8" cy="479.98" r="1.08" fill="#000"/>
<circle cx="450.8" cy="483.03" r="1.08" fill="#000"/>
<circle cx="450.8" cy="486.08" r="1.08" fill="#000"/>
<circle cx="450.8" cy="489.14" r="1.08" fill="#000"/>
<circle cx="450.8" cy="492.19" r="1.08" fill="#000"/>
<circle cx="450.8" cy="495.24" r="1.08" fill="#000"/>
<circle cx="450.8" cy="498.29" r="1.08" fill="#000"/>
<circle cx="450.8" cy="501.35" r="1.08" fill="#000"/>
<circle cx="450.8" cy="504.40" r="1.08" fill="#000"/>
<line x1="405.00" y1="447.40" x2="405.00" y2="450.60" stroke="#000" stroke-width="0.5" stroke-dasharray="1 .6"/>
<line x1="408.20" y1="447.40" x2="408.20" y2="450.60" stroke="#000" stroke-width="0.5" stroke-dasharray="1 .6"/>
<line x1="419.60" y1="447.40" x2="419.60" y2="450.60" stroke="#000" stroke-width="0.5" stroke-dasharray="1 .6"/>
<line x1="433.30" y1="447.40" x2="433.30" y2="450.60" stroke="#000" stroke-width="0.5" stroke-dasharray="1 .6"/>
<line x1="435.50" y1="447.40" x2="435.50" y2="450.60" stroke="#000" stroke-width="0.5" stroke-dasharray="1 .6"/>
<line x1="445.30" y1="447.40" x2="445.30" y2="450.60" stroke="#000" stroke-width="0.5" stroke-dasharray="1 .6"/>
<line x1="447.60" y1="447.40" x2="447.60" y2="450.60" stroke="#000" stroke-width="0.5" stroke-dasharray="1 .6"/>
<line x1="450.80" y1="447.40" x2="450.80" y2="450.60" stroke="#000" stroke-width="0.5" stroke-dasharray="1 .6"/>
<text x="438.7" y="513.9" font-size="6">60.7% (p&lt;10<tspan font-size="4" dy="-2.2">-17</tspan><tspan dy="2.2">)</tspan></text>
<rect x="0.00" y="0.00" width="520.00" height="1.15" fill="#000"/>
<rect x="0.00" y="0.00" width="1.40" height="537.00" fill="#000"/>
<rect x="518.85" y="0.00" width="1.15" height="537.00" fill="#000"/>
<rect x="0.00" y="535.30" width="520.00" height="1.70" fill="#000"/>
</svg>
</body></html>
